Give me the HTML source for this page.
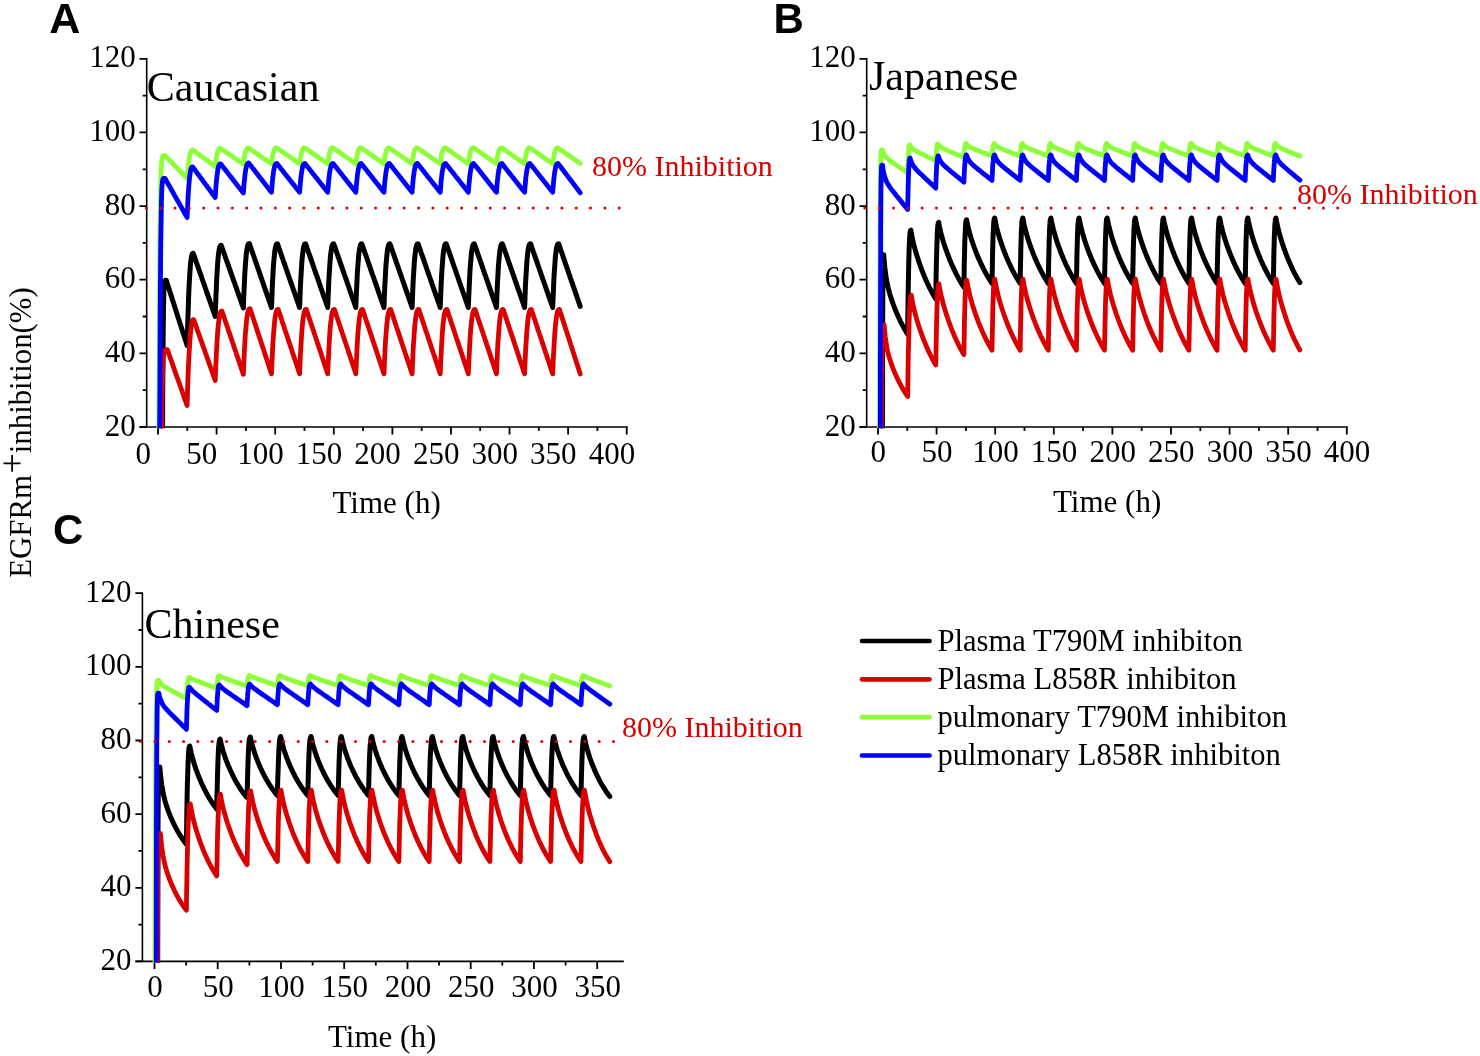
<!DOCTYPE html><html><head><meta charset="utf-8"><style>html,body{margin:0;padding:0;background:#fff;}svg{display:block;will-change:transform}</style></head><body>
<svg width="1480" height="1056" viewBox="0 0 1480 1056">
<g stroke="#000" stroke-width="1.6" fill="none">
<path d="M146.7 58.0V427.0M139.5 427.0H627.8"/>
</g>
<g stroke="#000" stroke-width="1.8" fill="none"><path d="
M139.5 58.8H146.7M142.7 95.6H146.7M139.5 132.4H146.7M142.7 169.3H146.7M139.5 206.1H146.7M142.7 242.9H146.7M139.5 279.7H146.7M142.7 316.5H146.7M139.5 353.4H146.7M142.7 390.2H146.7M139.5 427.0H146.7M158.0 427.0V434.5M187.3 427.0V431.0M216.6 427.0V434.5M245.9 427.0V431.0M275.2 427.0V434.5M304.5 427.0V431.0M333.8 427.0V434.5M363.1 427.0V431.0M392.4 427.0V434.5M421.7 427.0V431.0M451.0 427.0V434.5M480.2 427.0V431.0M509.5 427.0V434.5M538.8 427.0V431.0M568.1 427.0V434.5M597.4 427.0V431.0M626.7 427.0V434.5"/></g>
<clipPath id="clipA"><rect x="146.7" y="28.799999999999997" width="520.3" height="399.4"/></clipPath>
<g clip-path="url(#clipA)" fill="none" stroke-width="4.4" stroke-linejoin="round" stroke-linecap="round">
<path stroke="#000000" stroke-width="5.0" d="M162.6 429.0L162.7 395.5L162.9 368.5L163.1 347.0L163.2 330.1L163.4 316.9L163.5 306.8L163.7 299.1L163.8 293.4L164.0 289.2L164.1 286.2L164.3 284.1L164.4 282.6L164.6 281.7L164.7 281.1L164.9 280.7L165.0 280.5L165.2 280.4L165.3 280.3L165.5 280.3L165.6 280.3L165.8 280.3L165.9 280.3L166.1 280.3L166.3 280.3L166.8 281.9L167.3 283.6L167.8 285.2L168.3 286.8L168.9 288.4L169.4 290.1L169.9 291.7L170.4 293.3L170.9 295.0L171.5 296.6L172.0 298.2L172.5 299.9L173.0 301.5L173.6 303.1L174.1 304.8L174.6 306.4L175.1 308.0L175.6 309.6L176.2 311.3L176.7 312.9L177.2 314.5L177.7 316.2L178.2 317.8L178.8 319.4L179.3 321.1L179.8 322.7L180.3 324.3L180.9 325.9L181.4 327.6L181.9 329.2L182.4 330.8L182.9 332.5L183.5 334.1L184.0 335.7L184.5 337.4L185.0 339.0L185.5 340.6L186.1 342.2L186.6 343.9L187.1 345.5L187.5 331.3L187.9 318.5L188.3 307.0L188.6 296.9L189.0 288.1L189.4 280.5L189.8 274.0L190.2 268.5L190.5 264.0L190.9 260.5L191.3 257.8L191.7 255.8L192.1 254.5L192.4 253.7L192.8 253.4L193.2 253.3L193.8 254.9L194.3 256.5L194.9 258.0L195.4 259.6L196.0 261.2L196.5 262.8L197.1 264.4L197.6 265.9L198.2 267.5L198.7 269.1L199.3 270.7L199.8 272.3L200.4 273.8L200.9 275.4L201.5 277.0L202.0 278.6L202.6 280.2L203.1 281.7L203.7 283.3L204.2 284.9L204.8 286.5L205.3 288.1L205.9 289.6L206.4 291.2L207.0 292.8L207.5 294.4L208.1 296.0L208.6 297.5L209.2 299.1L209.7 300.7L210.3 302.3L210.8 303.9L211.4 305.4L211.9 307.0L212.5 308.6L213.0 310.2L213.6 311.8L214.1 313.3L214.7 314.9L215.2 316.5L215.6 305.5L216.0 295.6L216.4 286.8L216.7 279.0L217.1 272.2L217.5 266.3L217.8 261.3L218.2 257.0L218.6 253.6L219.0 250.9L219.3 248.8L219.7 247.2L220.1 246.2L220.5 245.6L220.8 245.4L221.2 245.3L221.8 246.9L222.3 248.4L222.9 250.0L223.4 251.6L224.0 253.1L224.5 254.7L225.1 256.3L225.6 257.8L226.2 259.4L226.7 261.0L227.3 262.5L227.9 264.1L228.4 265.7L229.0 267.2L229.5 268.8L230.1 270.4L230.6 271.9L231.2 273.5L231.7 275.1L232.3 276.6L232.8 278.2L233.4 279.8L233.9 281.4L234.5 282.9L235.1 284.5L235.6 286.1L236.2 287.6L236.7 289.2L237.3 290.8L237.8 292.3L238.4 293.9L238.9 295.5L239.5 297.0L240.0 298.6L240.6 300.2L241.1 301.7L241.7 303.3L242.2 304.9L242.8 306.4L243.4 308.0L243.7 298.0L244.1 289.1L244.5 281.1L244.8 274.0L245.2 267.8L245.6 262.4L246.0 257.9L246.3 254.1L246.7 250.9L247.1 248.4L247.5 246.5L247.8 245.2L248.2 244.2L248.6 243.7L249.0 243.4L249.3 243.4L249.9 245.0L250.4 246.6L251.0 248.2L251.5 249.8L252.1 251.4L252.7 253.0L253.2 254.6L253.8 256.2L254.3 257.8L254.9 259.4L255.4 261.0L256.0 262.6L256.5 264.2L257.1 265.8L257.6 267.4L258.2 269.0L258.7 270.6L259.3 272.2L259.9 273.8L260.4 275.4L261.0 277.1L261.5 278.7L262.1 280.3L262.6 281.9L263.2 283.5L263.7 285.1L264.3 286.7L264.8 288.3L265.4 289.9L265.9 291.5L266.5 293.1L267.0 294.7L267.6 296.3L268.2 297.9L268.7 299.5L269.3 301.1L269.8 302.7L270.4 304.3L270.9 305.9L271.5 307.5L271.9 297.7L272.2 288.8L272.6 280.9L273.0 274.0L273.3 267.8L273.7 262.6L274.1 258.1L274.5 254.3L274.8 251.2L275.2 248.8L275.6 246.9L276.0 245.5L276.3 244.6L276.7 244.1L277.1 243.8L277.5 243.8L278.0 245.4L278.6 247.0L279.1 248.6L279.7 250.2L280.2 251.8L280.8 253.4L281.3 254.9L281.9 256.5L282.4 258.1L283.0 259.7L283.5 261.3L284.1 262.9L284.7 264.5L285.2 266.1L285.8 267.7L286.3 269.3L286.9 270.9L287.4 272.5L288.0 274.1L288.5 275.6L289.1 277.2L289.6 278.8L290.2 280.4L290.7 282.0L291.3 283.6L291.9 285.2L292.4 286.8L293.0 288.4L293.5 290.0L294.1 291.6L294.6 293.2L295.2 294.8L295.7 296.4L296.3 297.9L296.8 299.5L297.4 301.1L297.9 302.7L298.5 304.3L299.0 305.9L299.6 307.5L300.0 297.7L300.3 288.8L300.7 280.9L301.1 274.0L301.5 267.8L301.8 262.6L302.2 258.1L302.6 254.3L303.0 251.2L303.3 248.8L303.7 246.9L304.1 245.5L304.5 244.6L304.8 244.1L305.2 243.8L305.6 243.8L306.1 245.4L306.7 247.0L307.2 248.6L307.8 250.2L308.3 251.8L308.9 253.4L309.5 254.9L310.0 256.5L310.6 258.1L311.1 259.7L311.7 261.3L312.2 262.9L312.8 264.5L313.3 266.1L313.9 267.7L314.4 269.3L315.0 270.9L315.5 272.5L316.1 274.1L316.7 275.6L317.2 277.2L317.8 278.8L318.3 280.4L318.9 282.0L319.4 283.6L320.0 285.2L320.5 286.8L321.1 288.4L321.6 290.0L322.2 291.6L322.7 293.2L323.3 294.8L323.8 296.4L324.4 297.9L325.0 299.5L325.5 301.1L326.1 302.7L326.6 304.3L327.2 305.9L327.7 307.5L328.1 297.7L328.5 288.8L328.8 280.9L329.2 274.0L329.6 267.8L330.0 262.6L330.3 258.1L330.7 254.3L331.1 251.2L331.5 248.8L331.8 246.9L332.2 245.5L332.6 244.6L333.0 244.1L333.3 243.8L333.7 243.8L334.3 245.4L334.8 247.0L335.4 248.6L335.9 250.2L336.5 251.8L337.0 253.4L337.6 254.9L338.1 256.5L338.7 258.1L339.2 259.7L339.8 261.3L340.3 262.9L340.9 264.5L341.5 266.1L342.0 267.7L342.6 269.3L343.1 270.9L343.7 272.5L344.2 274.1L344.8 275.6L345.3 277.2L345.9 278.8L346.4 280.4L347.0 282.0L347.5 283.6L348.1 285.2L348.7 286.8L349.2 288.4L349.8 290.0L350.3 291.6L350.9 293.2L351.4 294.8L352.0 296.4L352.5 297.9L353.1 299.5L353.6 301.1L354.2 302.7L354.7 304.3L355.3 305.9L355.8 307.5L356.2 297.7L356.6 288.8L357.0 280.9L357.3 274.0L357.7 267.8L358.1 262.6L358.5 258.1L358.8 254.3L359.2 251.2L359.6 248.8L360.0 246.9L360.3 245.5L360.7 244.6L361.1 244.1L361.5 243.8L361.8 243.8L362.4 245.4L362.9 247.0L363.5 248.6L364.0 250.2L364.6 251.8L365.1 253.4L365.7 254.9L366.3 256.5L366.8 258.1L367.4 259.7L367.9 261.3L368.5 262.9L369.0 264.5L369.6 266.1L370.1 267.7L370.7 269.3L371.2 270.9L371.8 272.5L372.3 274.1L372.9 275.6L373.5 277.2L374.0 278.8L374.6 280.4L375.1 282.0L375.7 283.6L376.2 285.2L376.8 286.8L377.3 288.4L377.9 290.0L378.4 291.6L379.0 293.2L379.5 294.8L380.1 296.4L380.6 297.9L381.2 299.5L381.8 301.1L382.3 302.7L382.9 304.3L383.4 305.9L384.0 307.5L384.3 297.7L384.7 288.8L385.1 280.9L385.5 274.0L385.8 267.8L386.2 262.6L386.6 258.1L387.0 254.3L387.3 251.2L387.7 248.8L388.1 246.9L388.5 245.5L388.8 244.6L389.2 244.1L389.6 243.8L389.9 243.8L390.5 245.4L391.1 247.0L391.6 248.6L392.2 250.2L392.7 251.8L393.3 253.4L393.8 254.9L394.4 256.5L394.9 258.1L395.5 259.7L396.0 261.3L396.6 262.9L397.1 264.5L397.7 266.1L398.3 267.7L398.8 269.3L399.4 270.9L399.9 272.5L400.5 274.1L401.0 275.6L401.6 277.2L402.1 278.8L402.7 280.4L403.2 282.0L403.8 283.6L404.3 285.2L404.9 286.8L405.5 288.4L406.0 290.0L406.6 291.6L407.1 293.2L407.7 294.8L408.2 296.4L408.8 297.9L409.3 299.5L409.9 301.1L410.4 302.7L411.0 304.3L411.5 305.9L412.1 307.5L412.5 297.7L412.8 288.8L413.2 280.9L413.6 274.0L414.0 267.8L414.3 262.6L414.7 258.1L415.1 254.3L415.5 251.2L415.8 248.8L416.2 246.9L416.6 245.5L417.0 244.6L417.3 244.1L417.7 243.8L418.1 243.8L418.6 245.4L419.2 247.0L419.7 248.6L420.3 250.2L420.8 251.8L421.4 253.4L421.9 254.9L422.5 256.5L423.1 258.1L423.6 259.7L424.2 261.3L424.7 262.9L425.3 264.5L425.8 266.1L426.4 267.7L426.9 269.3L427.5 270.9L428.0 272.5L428.6 274.1L429.1 275.6L429.7 277.2L430.3 278.8L430.8 280.4L431.4 282.0L431.9 283.6L432.5 285.2L433.0 286.8L433.6 288.4L434.1 290.0L434.7 291.6L435.2 293.2L435.8 294.8L436.3 296.4L436.9 297.9L437.4 299.5L438.0 301.1L438.6 302.7L439.1 304.3L439.7 305.9L440.2 307.5L440.6 297.7L441.0 288.8L441.3 280.9L441.7 274.0L442.1 267.8L442.5 262.6L442.8 258.1L443.2 254.3L443.6 251.2L444.0 248.8L444.3 246.9L444.7 245.5L445.1 244.6L445.4 244.1L445.8 243.8L446.2 243.8L446.7 245.4L447.3 247.0L447.9 248.6L448.4 250.2L449.0 251.8L449.5 253.4L450.1 254.9L450.6 256.5L451.2 258.1L451.7 259.7L452.3 261.3L452.8 262.9L453.4 264.5L453.9 266.1L454.5 267.7L455.1 269.3L455.6 270.9L456.2 272.5L456.7 274.1L457.3 275.6L457.8 277.2L458.4 278.8L458.9 280.4L459.5 282.0L460.0 283.6L460.6 285.2L461.1 286.8L461.7 288.4L462.3 290.0L462.8 291.6L463.4 293.2L463.9 294.8L464.5 296.4L465.0 297.9L465.6 299.5L466.1 301.1L466.7 302.7L467.2 304.3L467.8 305.9L468.3 307.5L468.7 297.7L469.1 288.8L469.5 280.9L469.8 274.0L470.2 267.8L470.6 262.6L471.0 258.1L471.3 254.3L471.7 251.2L472.1 248.8L472.4 246.9L472.8 245.5L473.2 244.6L473.6 244.1L473.9 243.8L474.3 243.8L474.9 245.4L475.4 247.0L476.0 248.6L476.5 250.2L477.1 251.8L477.6 253.4L478.2 254.9L478.7 256.5L479.3 258.1L479.9 259.7L480.4 261.3L481.0 262.9L481.5 264.5L482.1 266.1L482.6 267.7L483.2 269.3L483.7 270.9L484.3 272.5L484.8 274.1L485.4 275.6L485.9 277.2L486.5 278.8L487.1 280.4L487.6 282.0L488.2 283.6L488.7 285.2L489.3 286.8L489.8 288.4L490.4 290.0L490.9 291.6L491.5 293.2L492.0 294.8L492.6 296.4L493.1 297.9L493.7 299.5L494.2 301.1L494.8 302.7L495.4 304.3L495.9 305.9L496.5 307.5L496.8 297.7L497.2 288.8L497.6 280.9L498.0 274.0L498.3 267.8L498.7 262.6L499.1 258.1L499.5 254.3L499.8 251.2L500.2 248.8L500.6 246.9L500.9 245.5L501.3 244.6L501.7 244.1L502.1 243.8L502.4 243.8L503.0 245.4L503.5 247.0L504.1 248.6L504.7 250.2L505.2 251.8L505.8 253.4L506.3 254.9L506.9 256.5L507.4 258.1L508.0 259.7L508.5 261.3L509.1 262.9L509.6 264.5L510.2 266.1L510.7 267.7L511.3 269.3L511.9 270.9L512.4 272.5L513.0 274.1L513.5 275.6L514.1 277.2L514.6 278.8L515.2 280.4L515.7 282.0L516.3 283.6L516.8 285.2L517.4 286.8L517.9 288.4L518.5 290.0L519.1 291.6L519.6 293.2L520.2 294.8L520.7 296.4L521.3 297.9L521.8 299.5L522.4 301.1L522.9 302.7L523.5 304.3L524.0 305.9L524.6 307.5L525.0 297.7L525.3 288.8L525.7 280.9L526.1 274.0L526.5 267.8L526.8 262.6L527.2 258.1L527.6 254.3L527.9 251.2L528.3 248.8L528.7 246.9L529.1 245.5L529.4 244.6L529.8 244.1L530.2 243.8L530.6 243.8L531.1 245.4L531.7 247.0L532.2 248.6L532.8 250.2L533.3 251.8L533.9 253.4L534.4 254.9L535.0 256.5L535.5 258.1L536.1 259.7L536.7 261.3L537.2 262.9L537.8 264.5L538.3 266.1L538.9 267.7L539.4 269.3L540.0 270.9L540.5 272.5L541.1 274.1L541.6 275.6L542.2 277.2L542.7 278.8L543.3 280.4L543.9 282.0L544.4 283.6L545.0 285.2L545.5 286.8L546.1 288.4L546.6 290.0L547.2 291.6L547.7 293.2L548.3 294.8L548.8 296.4L549.4 297.9L549.9 299.5L550.5 301.1L551.0 302.7L551.6 304.3L552.2 305.9L552.7 307.5L553.1 297.7L553.5 288.8L553.8 280.9L554.2 274.0L554.6 267.8L555.0 262.6L555.3 258.1L555.7 254.3L556.1 251.2L556.4 248.8L556.8 246.9L557.2 245.5L557.6 244.6L557.9 244.1L558.3 243.8L558.7 243.8L559.2 245.4L559.8 246.9L560.3 248.5L560.8 250.1L561.4 251.6L561.9 253.2L562.5 254.8L563.0 256.3L563.5 257.9L564.1 259.5L564.6 261.0L565.2 262.6L565.7 264.2L566.2 265.7L566.8 267.3L567.3 268.9L567.9 270.4L568.4 272.0L568.9 273.6L569.5 275.1L570.0 276.7L570.5 278.3L571.1 279.9L571.6 281.4L572.2 283.0L572.7 284.6L573.2 286.1L573.8 287.7L574.3 289.3L574.9 290.8L575.4 292.4L575.9 294.0L576.5 295.5L577.0 297.1L577.6 298.7L578.1 300.2L578.6 301.8L579.2 303.4L579.7 304.9L580.2 306.5"/>
<path stroke="#da0000" stroke-width="4.8" d="M161.6 429.0L161.8 411.1L162.0 396.7L162.3 385.2L162.5 376.2L162.8 369.1L163.0 363.7L163.2 359.6L163.5 356.6L163.7 354.3L164.0 352.7L164.2 351.6L164.4 350.8L164.7 350.3L164.9 350.0L165.2 349.8L165.4 349.7L165.6 349.6L165.9 349.6L166.1 349.6L166.3 349.6L166.6 349.6L166.8 349.6L167.1 349.6L167.3 349.6L167.8 351.0L168.3 352.4L168.8 353.8L169.3 355.2L169.8 356.6L170.3 358.0L170.8 359.4L171.3 360.8L171.8 362.2L172.3 363.6L172.8 365.0L173.2 366.4L173.7 367.8L174.2 369.2L174.7 370.6L175.2 372.0L175.7 373.4L176.2 374.8L176.7 376.2L177.2 377.6L177.7 378.9L178.2 380.3L178.7 381.7L179.2 383.1L179.7 384.5L180.2 385.9L180.7 387.3L181.2 388.7L181.7 390.1L182.2 391.5L182.7 392.9L183.1 394.3L183.6 395.7L184.1 397.1L184.6 398.5L185.1 399.9L185.6 401.3L186.1 402.7L186.6 404.1L187.1 405.5L187.5 392.2L187.9 380.3L188.3 369.7L188.7 360.3L189.2 352.0L189.6 344.9L190.0 338.8L190.4 333.8L190.8 329.6L191.2 326.3L191.6 323.8L192.0 321.9L192.4 320.7L192.9 320.0L193.3 319.7L193.7 319.6L194.2 321.1L194.7 322.6L195.3 324.2L195.8 325.7L196.4 327.2L196.9 328.7L197.4 330.3L198.0 331.8L198.5 333.3L199.1 334.8L199.6 336.3L200.1 337.9L200.7 339.4L201.2 340.9L201.8 342.4L202.3 344.0L202.8 345.5L203.4 347.0L203.9 348.5L204.5 350.1L205.0 351.6L205.5 353.1L206.1 354.6L206.6 356.1L207.1 357.7L207.7 359.2L208.2 360.7L208.8 362.2L209.3 363.8L209.8 365.3L210.4 366.8L210.9 368.3L211.5 369.8L212.0 371.4L212.5 372.9L213.1 374.4L213.6 375.9L214.2 377.5L214.7 379.0L215.2 380.5L215.6 369.8L216.1 360.1L216.5 351.5L216.9 343.9L217.3 337.2L217.7 331.5L218.2 326.6L218.6 322.5L219.0 319.1L219.4 316.4L219.8 314.4L220.2 312.9L220.7 311.9L221.1 311.3L221.5 311.1L221.9 311.0L222.4 312.6L223.0 314.2L223.5 315.7L224.1 317.3L224.6 318.9L225.1 320.5L225.7 322.1L226.2 323.7L226.7 325.2L227.3 326.8L227.8 328.4L228.3 330.0L228.9 331.6L229.4 333.2L230.0 334.7L230.5 336.3L231.0 337.9L231.6 339.5L232.1 341.1L232.6 342.6L233.2 344.2L233.7 345.8L234.2 347.4L234.8 349.0L235.3 350.6L235.9 352.1L236.4 353.7L236.9 355.3L237.5 356.9L238.0 358.5L238.5 360.1L239.1 361.6L239.6 363.2L240.1 364.8L240.7 366.4L241.2 368.0L241.7 369.6L242.3 371.1L242.8 372.7L243.4 374.3L243.8 364.2L244.2 355.1L244.6 346.9L245.0 339.8L245.4 333.5L245.9 328.0L246.3 323.4L246.7 319.5L247.1 316.3L247.5 313.8L247.9 311.9L248.4 310.5L248.8 309.5L249.2 309.0L249.6 308.7L250.0 308.7L250.6 310.3L251.1 312.0L251.6 313.6L252.2 315.2L252.7 316.8L253.3 318.5L253.8 320.1L254.3 321.7L254.9 323.3L255.4 325.0L255.9 326.6L256.5 328.2L257.0 329.9L257.5 331.5L258.1 333.1L258.6 334.7L259.1 336.4L259.7 338.0L260.2 339.6L260.8 341.2L261.3 342.9L261.8 344.5L262.4 346.1L262.9 347.8L263.4 349.4L264.0 351.0L264.5 352.6L265.0 354.3L265.6 355.9L266.1 357.5L266.7 359.2L267.2 360.8L267.7 362.4L268.3 364.0L268.8 365.7L269.3 367.3L269.9 368.9L270.4 370.5L270.9 372.2L271.5 373.8L271.9 363.8L272.3 354.9L272.7 346.9L273.1 339.8L273.6 333.6L274.0 328.3L274.4 323.8L274.8 319.9L275.2 316.8L275.7 314.3L276.1 312.4L276.5 311.1L276.9 310.1L277.3 309.6L277.7 309.3L278.2 309.3L278.7 310.9L279.2 312.5L279.8 314.1L280.3 315.8L280.8 317.4L281.4 319.0L281.9 320.6L282.4 322.2L283.0 323.8L283.5 325.4L284.1 327.0L284.6 328.7L285.1 330.3L285.7 331.9L286.2 333.5L286.7 335.1L287.3 336.7L287.8 338.3L288.3 339.9L288.9 341.6L289.4 343.2L290.0 344.8L290.5 346.4L291.0 348.0L291.6 349.6L292.1 351.2L292.6 352.8L293.2 354.4L293.7 356.1L294.2 357.7L294.8 359.3L295.3 360.9L295.8 362.5L296.4 364.1L296.9 365.7L297.5 367.4L298.0 369.0L298.5 370.6L299.1 372.2L299.6 373.8L300.0 363.8L300.4 354.9L300.9 346.9L301.3 339.8L301.7 333.6L302.1 328.3L302.5 323.8L302.9 319.9L303.4 316.8L303.8 314.3L304.2 312.4L304.6 311.1L305.0 310.1L305.4 309.6L305.9 309.3L306.3 309.3L306.8 310.9L307.4 312.5L307.9 314.1L308.4 315.8L309.0 317.4L309.5 319.0L310.0 320.6L310.6 322.2L311.1 323.8L311.6 325.4L312.2 327.0L312.7 328.7L313.3 330.3L313.8 331.9L314.3 333.5L314.9 335.1L315.4 336.7L315.9 338.3L316.5 339.9L317.0 341.6L317.5 343.2L318.1 344.8L318.6 346.4L319.1 348.0L319.7 349.6L320.2 351.2L320.8 352.8L321.3 354.4L321.8 356.1L322.4 357.7L322.9 359.3L323.4 360.9L324.0 362.5L324.5 364.1L325.0 365.7L325.6 367.4L326.1 369.0L326.7 370.6L327.2 372.2L327.7 373.8L328.1 363.8L328.6 354.9L329.0 346.9L329.4 339.8L329.8 333.6L330.2 328.3L330.6 323.8L331.1 319.9L331.5 316.8L331.9 314.3L332.3 312.4L332.7 311.1L333.2 310.1L333.6 309.6L334.0 309.3L334.4 309.3L334.9 310.9L335.5 312.5L336.0 314.1L336.5 315.8L337.1 317.4L337.6 319.0L338.2 320.6L338.7 322.2L339.2 323.8L339.8 325.4L340.3 327.0L340.8 328.7L341.4 330.3L341.9 331.9L342.4 333.5L343.0 335.1L343.5 336.7L344.1 338.3L344.6 339.9L345.1 341.6L345.7 343.2L346.2 344.8L346.7 346.4L347.3 348.0L347.8 349.6L348.3 351.2L348.9 352.8L349.4 354.4L350.0 356.1L350.5 357.7L351.0 359.3L351.6 360.9L352.1 362.5L352.6 364.1L353.2 365.7L353.7 367.4L354.2 369.0L354.8 370.6L355.3 372.2L355.8 373.8L356.3 363.8L356.7 354.9L357.1 346.9L357.5 339.8L357.9 333.6L358.4 328.3L358.8 323.8L359.2 319.9L359.6 316.8L360.0 314.3L360.4 312.4L360.9 311.1L361.3 310.1L361.7 309.6L362.1 309.3L362.5 309.3L363.1 310.9L363.6 312.5L364.1 314.1L364.7 315.8L365.2 317.4L365.7 319.0L366.3 320.6L366.8 322.2L367.4 323.8L367.9 325.4L368.4 327.0L369.0 328.7L369.5 330.3L370.0 331.9L370.6 333.5L371.1 335.1L371.6 336.7L372.2 338.3L372.7 339.9L373.2 341.6L373.8 343.2L374.3 344.8L374.9 346.4L375.4 348.0L375.9 349.6L376.5 351.2L377.0 352.8L377.5 354.4L378.1 356.1L378.6 357.7L379.1 359.3L379.7 360.9L380.2 362.5L380.8 364.1L381.3 365.7L381.8 367.4L382.4 369.0L382.9 370.6L383.4 372.2L384.0 373.8L384.4 363.8L384.8 354.9L385.2 346.9L385.6 339.8L386.1 333.6L386.5 328.3L386.9 323.8L387.3 319.9L387.7 316.8L388.1 314.3L388.6 312.4L389.0 311.1L389.4 310.1L389.8 309.6L390.2 309.3L390.7 309.3L391.2 310.9L391.7 312.5L392.3 314.1L392.8 315.8L393.3 317.4L393.9 319.0L394.4 320.6L394.9 322.2L395.5 323.8L396.0 325.4L396.5 327.0L397.1 328.7L397.6 330.3L398.2 331.9L398.7 333.5L399.2 335.1L399.8 336.7L400.3 338.3L400.8 339.9L401.4 341.6L401.9 343.2L402.4 344.8L403.0 346.4L403.5 348.0L404.1 349.6L404.6 351.2L405.1 352.8L405.7 354.4L406.2 356.1L406.7 357.7L407.3 359.3L407.8 360.9L408.3 362.5L408.9 364.1L409.4 365.7L410.0 367.4L410.5 369.0L411.0 370.6L411.6 372.2L412.1 373.8L412.5 363.8L412.9 354.9L413.3 346.9L413.8 339.8L414.2 333.6L414.6 328.3L415.0 323.8L415.4 319.9L415.9 316.8L416.3 314.3L416.7 312.4L417.1 311.1L417.5 310.1L417.9 309.6L418.4 309.3L418.8 309.3L419.3 310.9L419.8 312.5L420.4 314.1L420.9 315.8L421.5 317.4L422.0 319.0L422.5 320.6L423.1 322.2L423.6 323.8L424.1 325.4L424.7 327.0L425.2 328.7L425.7 330.3L426.3 331.9L426.8 333.5L427.4 335.1L427.9 336.7L428.4 338.3L429.0 339.9L429.5 341.6L430.0 343.2L430.6 344.8L431.1 346.4L431.6 348.0L432.2 349.6L432.7 351.2L433.2 352.8L433.8 354.4L434.3 356.1L434.9 357.7L435.4 359.3L435.9 360.9L436.5 362.5L437.0 364.1L437.5 365.7L438.1 367.4L438.6 369.0L439.1 370.6L439.7 372.2L440.2 373.8L440.6 363.8L441.1 354.9L441.5 346.9L441.9 339.8L442.3 333.6L442.7 328.3L443.1 323.8L443.6 319.9L444.0 316.8L444.4 314.3L444.8 312.4L445.2 311.1L445.6 310.1L446.1 309.6L446.5 309.3L446.9 309.3L447.4 310.9L448.0 312.5L448.5 314.1L449.0 315.8L449.6 317.4L450.1 319.0L450.6 320.6L451.2 322.2L451.7 323.8L452.3 325.4L452.8 327.0L453.3 328.7L453.9 330.3L454.4 331.9L454.9 333.5L455.5 335.1L456.0 336.7L456.5 338.3L457.1 339.9L457.6 341.6L458.2 343.2L458.7 344.8L459.2 346.4L459.8 348.0L460.3 349.6L460.8 351.2L461.4 352.8L461.9 354.4L462.4 356.1L463.0 357.7L463.5 359.3L464.1 360.9L464.6 362.5L465.1 364.1L465.7 365.7L466.2 367.4L466.7 369.0L467.3 370.6L467.8 372.2L468.3 373.8L468.8 363.8L469.2 354.9L469.6 346.9L470.0 339.8L470.4 333.6L470.8 328.3L471.3 323.8L471.7 319.9L472.1 316.8L472.5 314.3L472.9 312.4L473.4 311.1L473.8 310.1L474.2 309.6L474.6 309.3L475.0 309.3L475.6 310.9L476.1 312.5L476.6 314.1L477.2 315.8L477.7 317.4L478.2 319.0L478.8 320.6L479.3 322.2L479.8 323.8L480.4 325.4L480.9 327.0L481.5 328.7L482.0 330.3L482.5 331.9L483.1 333.5L483.6 335.1L484.1 336.7L484.7 338.3L485.2 339.9L485.7 341.6L486.3 343.2L486.8 344.8L487.4 346.4L487.9 348.0L488.4 349.6L489.0 351.2L489.5 352.8L490.0 354.4L490.6 356.1L491.1 357.7L491.6 359.3L492.2 360.9L492.7 362.5L493.2 364.1L493.8 365.7L494.3 367.4L494.9 369.0L495.4 370.6L495.9 372.2L496.5 373.8L496.9 363.8L497.3 354.9L497.7 346.9L498.1 339.8L498.6 333.6L499.0 328.3L499.4 323.8L499.8 319.9L500.2 316.8L500.6 314.3L501.1 312.4L501.5 311.1L501.9 310.1L502.3 309.6L502.7 309.3L503.1 309.3L503.7 310.9L504.2 312.5L504.8 314.1L505.3 315.8L505.8 317.4L506.4 319.0L506.9 320.6L507.4 322.2L508.0 323.8L508.5 325.4L509.0 327.0L509.6 328.7L510.1 330.3L510.6 331.9L511.2 333.5L511.7 335.1L512.3 336.7L512.8 338.3L513.3 339.9L513.9 341.6L514.4 343.2L514.9 344.8L515.5 346.4L516.0 348.0L516.5 349.6L517.1 351.2L517.6 352.8L518.2 354.4L518.7 356.1L519.2 357.7L519.8 359.3L520.3 360.9L520.8 362.5L521.4 364.1L521.9 365.7L522.4 367.4L523.0 369.0L523.5 370.6L524.1 372.2L524.6 373.8L525.0 363.8L525.4 354.9L525.8 346.9L526.3 339.8L526.7 333.6L527.1 328.3L527.5 323.8L527.9 319.9L528.3 316.8L528.8 314.3L529.2 312.4L529.6 311.1L530.0 310.1L530.4 309.6L530.8 309.3L531.3 309.3L531.8 310.9L532.3 312.5L532.9 314.1L533.4 315.8L533.9 317.4L534.5 319.0L535.0 320.6L535.6 322.2L536.1 323.8L536.6 325.4L537.2 327.0L537.7 328.7L538.2 330.3L538.8 331.9L539.3 333.5L539.8 335.1L540.4 336.7L540.9 338.3L541.5 339.9L542.0 341.6L542.5 343.2L543.1 344.8L543.6 346.4L544.1 348.0L544.7 349.6L545.2 351.2L545.7 352.8L546.3 354.4L546.8 356.1L547.3 357.7L547.9 359.3L548.4 360.9L549.0 362.5L549.5 364.1L550.0 365.7L550.6 367.4L551.1 369.0L551.6 370.6L552.2 372.2L552.7 373.8L553.1 363.8L553.5 354.9L554.0 346.9L554.4 339.8L554.8 333.6L555.2 328.3L555.6 323.8L556.1 319.9L556.5 316.8L556.9 314.3L557.3 312.4L557.7 311.1L558.1 310.1L558.6 309.6L559.0 309.3L559.4 309.3L559.9 310.9L560.4 312.5L561.0 314.2L561.5 315.8L562.0 317.4L562.5 319.0L563.0 320.6L563.6 322.2L564.1 323.9L564.6 325.5L565.1 327.1L565.6 328.7L566.2 330.3L566.7 331.9L567.2 333.6L567.7 335.2L568.3 336.8L568.8 338.4L569.3 340.0L569.8 341.6L570.3 343.3L570.9 344.9L571.4 346.5L571.9 348.1L572.4 349.7L572.9 351.4L573.5 353.0L574.0 354.6L574.5 356.2L575.0 357.8L575.6 359.4L576.1 361.1L576.6 362.7L577.1 364.3L577.6 365.9L578.2 367.5L578.7 369.1L579.2 370.8L579.7 372.4L580.2 374.0"/>
<path stroke="#8cff37" stroke-width="4.8" d="M158.8 429.0L159.1 367.4L159.3 317.8L159.6 278.2L159.8 247.1L160.1 222.8L160.3 204.2L160.6 190.0L160.9 179.5L161.1 171.8L161.4 166.3L161.6 162.4L161.9 159.8L162.1 158.0L162.4 156.9L162.7 156.3L162.9 155.9L163.2 155.7L163.4 155.6L163.7 155.5L163.9 155.5L164.2 155.5L164.4 155.5L164.7 155.5L165.0 155.5L165.5 156.1L166.1 156.7L166.6 157.2L167.2 157.8L167.7 158.4L168.3 158.9L168.8 159.5L169.4 160.1L169.9 160.7L170.5 161.2L171.1 161.8L171.6 162.4L172.2 163.0L172.7 163.6L173.3 164.1L173.8 164.7L174.4 165.3L174.9 165.8L175.5 166.4L176.0 167.0L176.6 167.6L177.1 168.2L177.7 168.7L178.3 169.3L178.8 169.9L179.4 170.4L179.9 171.0L180.5 171.6L181.0 172.2L181.6 172.8L182.1 173.3L182.7 173.9L183.2 174.5L183.8 175.1L184.3 175.6L184.9 176.2L185.4 176.8L186.0 177.3L186.6 177.9L187.1 178.5L187.5 174.1L187.8 170.1L188.2 166.6L188.5 163.5L188.9 160.8L189.3 158.4L189.6 156.4L190.0 154.7L190.3 153.3L190.7 152.2L191.1 151.4L191.4 150.8L191.8 150.4L192.1 150.1L192.5 150.0L192.9 150.0L193.4 150.4L194.0 150.8L194.5 151.2L195.1 151.7L195.6 152.1L196.2 152.5L196.8 152.9L197.3 153.3L197.9 153.7L198.4 154.1L199.0 154.5L199.6 154.9L200.1 155.4L200.7 155.8L201.2 156.2L201.8 156.6L202.4 157.0L202.9 157.4L203.5 157.8L204.0 158.2L204.6 158.7L205.2 159.1L205.7 159.5L206.3 159.9L206.8 160.3L207.4 160.7L208.0 161.1L208.5 161.6L209.1 162.0L209.6 162.4L210.2 162.8L210.8 163.2L211.3 163.6L211.9 164.0L212.4 164.4L213.0 164.8L213.6 165.3L214.1 165.7L214.7 166.1L215.2 166.5L215.6 163.7L215.9 161.2L216.2 158.9L216.6 157.0L216.9 155.2L217.2 153.7L217.5 152.5L217.9 151.4L218.2 150.5L218.5 149.8L218.9 149.3L219.2 148.9L219.5 148.6L219.8 148.5L220.2 148.4L220.5 148.4L221.1 148.8L221.6 149.2L222.2 149.6L222.8 150.0L223.4 150.3L223.9 150.7L224.5 151.1L225.1 151.5L225.6 151.9L226.2 152.3L226.8 152.7L227.4 153.1L227.9 153.5L228.5 153.9L229.1 154.2L229.6 154.6L230.2 155.0L230.8 155.4L231.4 155.8L231.9 156.2L232.5 156.6L233.1 157.0L233.6 157.4L234.2 157.8L234.8 158.2L235.4 158.5L235.9 158.9L236.5 159.3L237.1 159.7L237.6 160.1L238.2 160.5L238.8 160.9L239.4 161.3L239.9 161.7L240.5 162.1L241.1 162.4L241.6 162.8L242.2 163.2L242.8 163.6L243.4 164.0L243.7 161.5L244.0 159.3L244.3 157.3L244.6 155.6L245.0 154.0L245.3 152.7L245.6 151.6L245.9 150.6L246.3 149.9L246.6 149.2L246.9 148.8L247.2 148.4L247.5 148.2L247.9 148.1L248.2 148.0L248.5 148.0L249.1 148.4L249.7 148.8L250.2 149.2L250.8 149.6L251.4 150.0L252.0 150.4L252.5 150.8L253.1 151.2L253.7 151.6L254.3 151.9L254.8 152.3L255.4 152.7L256.0 153.1L256.5 153.5L257.1 153.9L257.7 154.3L258.3 154.7L258.8 155.1L259.4 155.5L260.0 155.9L260.6 156.3L261.1 156.7L261.7 157.1L262.3 157.5L262.9 157.9L263.4 158.3L264.0 158.7L264.6 159.1L265.2 159.5L265.7 159.9L266.3 160.2L266.9 160.6L267.5 161.0L268.0 161.4L268.6 161.8L269.2 162.2L269.8 162.6L270.3 163.0L270.9 163.4L271.5 163.8L271.8 161.3L272.1 159.1L272.4 157.1L272.8 155.4L273.1 153.8L273.4 152.5L273.7 151.4L274.1 150.4L274.4 149.7L274.7 149.0L275.0 148.6L275.3 148.2L275.7 148.0L276.0 147.9L276.3 147.8L276.6 147.8L277.2 148.2L277.8 148.6L278.4 149.0L278.9 149.4L279.5 149.8L280.1 150.2L280.7 150.6L281.2 151.0L281.8 151.4L282.4 151.8L283.0 152.2L283.5 152.6L284.1 153.0L284.7 153.4L285.2 153.8L285.8 154.2L286.4 154.6L287.0 155.0L287.5 155.4L288.1 155.8L288.7 156.2L289.3 156.6L289.8 157.0L290.4 157.4L291.0 157.8L291.6 158.2L292.1 158.6L292.7 159.0L293.3 159.4L293.9 159.8L294.4 160.2L295.0 160.6L295.6 161.0L296.2 161.4L296.7 161.8L297.3 162.2L297.9 162.6L298.5 163.0L299.0 163.4L299.6 163.8L299.9 161.3L300.2 159.1L300.6 157.1L300.9 155.4L301.2 153.8L301.5 152.5L301.9 151.4L302.2 150.4L302.5 149.7L302.8 149.0L303.1 148.6L303.5 148.2L303.8 148.0L304.1 147.9L304.4 147.8L304.8 147.8L305.3 148.2L305.9 148.6L306.5 149.0L307.1 149.4L307.6 149.8L308.2 150.2L308.8 150.6L309.4 151.0L309.9 151.4L310.5 151.8L311.1 152.2L311.6 152.6L312.2 153.0L312.8 153.4L313.4 153.8L313.9 154.2L314.5 154.6L315.1 155.0L315.7 155.4L316.2 155.8L316.8 156.2L317.4 156.6L318.0 157.0L318.5 157.4L319.1 157.8L319.7 158.2L320.3 158.6L320.8 159.0L321.4 159.4L322.0 159.8L322.6 160.2L323.1 160.6L323.7 161.0L324.3 161.4L324.9 161.8L325.4 162.2L326.0 162.6L326.6 163.0L327.2 163.4L327.7 163.8L328.0 161.3L328.4 159.1L328.7 157.1L329.0 155.4L329.3 153.8L329.7 152.5L330.0 151.4L330.3 150.4L330.6 149.7L330.9 149.0L331.3 148.6L331.6 148.2L331.9 148.0L332.2 147.9L332.6 147.8L332.9 147.8L333.5 148.2L334.0 148.6L334.6 149.0L335.2 149.4L335.8 149.8L336.3 150.2L336.9 150.6L337.5 151.0L338.0 151.4L338.6 151.8L339.2 152.2L339.8 152.6L340.3 153.0L340.9 153.4L341.5 153.8L342.1 154.2L342.6 154.6L343.2 155.0L343.8 155.4L344.4 155.8L344.9 156.2L345.5 156.6L346.1 157.0L346.7 157.4L347.2 157.8L347.8 158.2L348.4 158.6L349.0 159.0L349.5 159.4L350.1 159.8L350.7 160.2L351.3 160.6L351.8 161.0L352.4 161.4L353.0 161.8L353.6 162.2L354.1 162.6L354.7 163.0L355.3 163.4L355.8 163.8L356.2 161.3L356.5 159.1L356.8 157.1L357.1 155.4L357.5 153.8L357.8 152.5L358.1 151.4L358.4 150.4L358.7 149.7L359.1 149.0L359.4 148.6L359.7 148.2L360.0 148.0L360.4 147.9L360.7 147.8L361.0 147.8L361.6 148.2L362.2 148.6L362.7 149.0L363.3 149.4L363.9 149.8L364.4 150.2L365.0 150.6L365.6 151.0L366.2 151.4L366.7 151.8L367.3 152.2L367.9 152.6L368.5 153.0L369.0 153.4L369.6 153.8L370.2 154.2L370.8 154.6L371.3 155.0L371.9 155.4L372.5 155.8L373.1 156.2L373.6 156.6L374.2 157.0L374.8 157.4L375.4 157.8L375.9 158.2L376.5 158.6L377.1 159.0L377.7 159.4L378.2 159.8L378.8 160.2L379.4 160.6L380.0 161.0L380.5 161.4L381.1 161.8L381.7 162.2L382.2 162.6L382.8 163.0L383.4 163.4L384.0 163.8L384.3 161.3L384.6 159.1L384.9 157.1L385.3 155.4L385.6 153.8L385.9 152.5L386.2 151.4L386.5 150.4L386.9 149.7L387.2 149.0L387.5 148.6L387.8 148.2L388.2 148.0L388.5 147.9L388.8 147.8L389.1 147.8L389.7 148.2L390.3 148.6L390.8 149.0L391.4 149.4L392.0 149.8L392.6 150.2L393.1 150.6L393.7 151.0L394.3 151.4L394.9 151.8L395.4 152.2L396.0 152.6L396.6 153.0L397.2 153.4L397.7 153.8L398.3 154.2L398.9 154.6L399.5 155.0L400.0 155.4L400.6 155.8L401.2 156.2L401.8 156.6L402.3 157.0L402.9 157.4L403.5 157.8L404.1 158.2L404.6 158.6L405.2 159.0L405.8 159.4L406.4 159.8L406.9 160.2L407.5 160.6L408.1 161.0L408.6 161.4L409.2 161.8L409.8 162.2L410.4 162.6L410.9 163.0L411.5 163.4L412.1 163.8L412.4 161.3L412.7 159.1L413.1 157.1L413.4 155.4L413.7 153.8L414.0 152.5L414.4 151.4L414.7 150.4L415.0 149.7L415.3 149.0L415.6 148.6L416.0 148.2L416.3 148.0L416.6 147.9L416.9 147.8L417.3 147.8L417.8 148.2L418.4 148.6L419.0 149.0L419.5 149.4L420.1 149.8L420.7 150.2L421.3 150.6L421.8 151.0L422.4 151.4L423.0 151.8L423.6 152.2L424.1 152.6L424.7 153.0L425.3 153.4L425.9 153.8L426.4 154.2L427.0 154.6L427.6 155.0L428.2 155.4L428.7 155.8L429.3 156.2L429.9 156.6L430.5 157.0L431.0 157.4L431.6 157.8L432.2 158.2L432.8 158.6L433.3 159.0L433.9 159.4L434.5 159.8L435.1 160.2L435.6 160.6L436.2 161.0L436.8 161.4L437.3 161.8L437.9 162.2L438.5 162.6L439.1 163.0L439.6 163.4L440.2 163.8L440.5 161.3L440.9 159.1L441.2 157.1L441.5 155.4L441.8 153.8L442.2 152.5L442.5 151.4L442.8 150.4L443.1 149.7L443.4 149.0L443.8 148.6L444.1 148.2L444.4 148.0L444.7 147.9L445.1 147.8L445.4 147.8L445.9 148.2L446.5 148.6L447.1 149.0L447.7 149.4L448.2 149.8L448.8 150.2L449.4 150.6L450.0 151.0L450.5 151.4L451.1 151.8L451.7 152.2L452.3 152.6L452.8 153.0L453.4 153.4L454.0 153.8L454.6 154.2L455.1 154.6L455.7 155.0L456.3 155.4L456.9 155.8L457.4 156.2L458.0 156.6L458.6 157.0L459.2 157.4L459.7 157.8L460.3 158.2L460.9 158.6L461.5 159.0L462.0 159.4L462.6 159.8L463.2 160.2L463.7 160.6L464.3 161.0L464.9 161.4L465.5 161.8L466.0 162.2L466.6 162.6L467.2 163.0L467.8 163.4L468.3 163.8L468.7 161.3L469.0 159.1L469.3 157.1L469.6 155.4L470.0 153.8L470.3 152.5L470.6 151.4L470.9 150.4L471.2 149.7L471.6 149.0L471.9 148.6L472.2 148.2L472.5 148.0L472.9 147.9L473.2 147.8L473.5 147.8L474.1 148.2L474.6 148.6L475.2 149.0L475.8 149.4L476.4 149.8L476.9 150.2L477.5 150.6L478.1 151.0L478.7 151.4L479.2 151.8L479.8 152.2L480.4 152.6L481.0 153.0L481.5 153.4L482.1 153.8L482.7 154.2L483.3 154.6L483.8 155.0L484.4 155.4L485.0 155.8L485.6 156.2L486.1 156.6L486.7 157.0L487.3 157.4L487.9 157.8L488.4 158.2L489.0 158.6L489.6 159.0L490.1 159.4L490.7 159.8L491.3 160.2L491.9 160.6L492.4 161.0L493.0 161.4L493.6 161.8L494.2 162.2L494.7 162.6L495.3 163.0L495.9 163.4L496.5 163.8L496.8 161.3L497.1 159.1L497.4 157.1L497.8 155.4L498.1 153.8L498.4 152.5L498.7 151.4L499.0 150.4L499.4 149.7L499.7 149.0L500.0 148.6L500.3 148.2L500.7 148.0L501.0 147.9L501.3 147.8L501.6 147.8L502.2 148.2L502.8 148.6L503.3 149.0L503.9 149.4L504.5 149.8L505.1 150.2L505.6 150.6L506.2 151.0L506.8 151.4L507.4 151.8L507.9 152.2L508.5 152.6L509.1 153.0L509.7 153.4L510.2 153.8L510.8 154.2L511.4 154.6L512.0 155.0L512.5 155.4L513.1 155.8L513.7 156.2L514.3 156.6L514.8 157.0L515.4 157.4L516.0 157.8L516.5 158.2L517.1 158.6L517.7 159.0L518.3 159.4L518.8 159.8L519.4 160.2L520.0 160.6L520.6 161.0L521.1 161.4L521.7 161.8L522.3 162.2L522.9 162.6L523.4 163.0L524.0 163.4L524.6 163.8L524.9 161.3L525.2 159.1L525.6 157.1L525.9 155.4L526.2 153.8L526.5 152.5L526.8 151.4L527.2 150.4L527.5 149.7L527.8 149.0L528.1 148.6L528.5 148.2L528.8 148.0L529.1 147.9L529.4 147.8L529.7 147.8L530.3 148.2L530.9 148.6L531.5 149.0L532.0 149.4L532.6 149.8L533.2 150.2L533.8 150.6L534.3 151.0L534.9 151.4L535.5 151.8L536.1 152.2L536.6 152.6L537.2 153.0L537.8 153.4L538.4 153.8L538.9 154.2L539.5 154.6L540.1 155.0L540.7 155.4L541.2 155.8L541.8 156.2L542.4 156.6L542.9 157.0L543.5 157.4L544.1 157.8L544.7 158.2L545.2 158.6L545.8 159.0L546.4 159.4L547.0 159.8L547.5 160.2L548.1 160.6L548.7 161.0L549.3 161.4L549.8 161.8L550.4 162.2L551.0 162.6L551.6 163.0L552.1 163.4L552.7 163.8L553.0 161.3L553.4 159.1L553.7 157.1L554.0 155.4L554.3 153.8L554.6 152.5L555.0 151.4L555.3 150.4L555.6 149.7L555.9 149.0L556.3 148.6L556.6 148.2L556.9 148.0L557.2 147.9L557.5 147.8L557.9 147.8L558.4 148.2L559.0 148.6L559.5 149.0L560.1 149.4L560.7 149.8L561.2 150.2L561.8 150.5L562.3 150.9L562.9 151.3L563.5 151.7L564.0 152.1L564.6 152.5L565.1 152.9L565.7 153.3L566.3 153.7L566.8 154.1L567.4 154.5L567.9 154.9L568.5 155.3L569.1 155.7L569.6 156.0L570.2 156.4L570.7 156.8L571.3 157.2L571.9 157.6L572.4 158.0L573.0 158.4L573.5 158.8L574.1 159.2L574.7 159.6L575.2 160.0L575.8 160.4L576.3 160.8L576.9 161.1L577.5 161.5L578.0 161.9L578.6 162.3L579.1 162.7L579.7 163.1L580.2 163.5"/>
<path stroke="#0000ff" stroke-width="4.8" d="M159.7 429.0L160.0 372.5L160.2 327.0L160.4 290.8L160.6 262.3L160.8 240.0L161.1 222.9L161.3 210.0L161.5 200.3L161.7 193.2L161.9 188.2L162.1 184.6L162.4 182.2L162.6 180.6L162.8 179.6L163.0 179.0L163.2 178.6L163.4 178.5L163.7 178.4L163.9 178.3L164.1 178.3L164.3 178.3L164.5 178.3L164.7 178.3L165.0 178.3L165.5 179.3L166.1 180.3L166.6 181.2L167.2 182.2L167.7 183.2L168.3 184.2L168.8 185.2L169.4 186.1L169.9 187.1L170.5 188.1L171.1 189.1L171.6 190.1L172.2 191.0L172.7 192.0L173.3 193.0L173.8 194.0L174.4 195.0L174.9 195.9L175.5 196.9L176.0 197.9L176.6 198.9L177.1 199.9L177.7 200.8L178.3 201.8L178.8 202.8L179.4 203.8L179.9 204.8L180.5 205.7L181.0 206.7L181.6 207.7L182.1 208.7L182.7 209.7L183.2 210.6L183.8 211.6L184.3 212.6L184.9 213.6L185.4 214.6L186.0 215.5L186.6 216.5L187.1 217.5L187.5 209.7L187.8 202.6L188.1 196.3L188.5 190.8L188.8 185.9L189.2 181.7L189.5 178.2L189.9 175.2L190.2 172.7L190.6 170.8L190.9 169.3L191.2 168.2L191.6 167.5L191.9 167.0L192.3 166.8L192.6 166.8L193.2 167.6L193.7 168.3L194.3 169.1L194.9 169.9L195.4 170.6L196.0 171.4L196.6 172.2L197.1 172.9L197.7 173.7L198.3 174.5L198.8 175.2L199.4 176.0L200.0 176.8L200.5 177.5L201.1 178.3L201.7 179.1L202.2 179.8L202.8 180.6L203.4 181.4L203.9 182.2L204.5 182.9L205.1 183.7L205.6 184.5L206.2 185.2L206.8 186.0L207.3 186.8L207.9 187.5L208.4 188.3L209.0 189.1L209.6 189.8L210.1 190.6L210.7 191.4L211.3 192.1L211.8 192.9L212.4 193.7L213.0 194.4L213.5 195.2L214.1 196.0L214.7 196.7L215.2 197.5L215.6 192.3L215.9 187.6L216.2 183.4L216.6 179.8L216.9 176.5L217.3 173.7L217.6 171.4L217.9 169.4L218.3 167.7L218.6 166.4L218.9 165.4L219.3 164.7L219.6 164.2L219.9 164.0L220.3 163.8L220.6 163.8L221.2 164.5L221.8 165.3L222.3 166.0L222.9 166.7L223.5 167.5L224.0 168.2L224.6 168.9L225.2 169.6L225.7 170.4L226.3 171.1L226.9 171.8L227.4 172.6L228.0 173.3L228.6 174.0L229.1 174.8L229.7 175.5L230.3 176.2L230.9 176.9L231.4 177.7L232.0 178.4L232.6 179.1L233.1 179.9L233.7 180.6L234.3 181.3L234.8 182.1L235.4 182.8L236.0 183.5L236.5 184.2L237.1 185.0L237.7 185.7L238.2 186.4L238.8 187.2L239.4 187.9L239.9 188.6L240.5 189.3L241.1 190.1L241.7 190.8L242.2 191.5L242.8 192.3L243.4 193.0L243.7 188.4L244.0 184.2L244.4 180.5L244.7 177.2L245.0 174.3L245.4 171.8L245.7 169.7L246.1 167.9L246.4 166.5L246.7 165.3L247.1 164.5L247.4 163.8L247.7 163.4L248.1 163.1L248.4 163.0L248.7 163.0L249.3 163.7L249.9 164.5L250.5 165.2L251.0 165.9L251.6 166.7L252.2 167.4L252.7 168.1L253.3 168.9L253.9 169.6L254.4 170.3L255.0 171.1L255.6 171.8L256.1 172.5L256.7 173.3L257.3 174.0L257.8 174.7L258.4 175.5L259.0 176.2L259.5 176.9L260.1 177.7L260.7 178.4L261.2 179.1L261.8 179.8L262.4 180.6L263.0 181.3L263.5 182.0L264.1 182.8L264.7 183.5L265.2 184.2L265.8 185.0L266.4 185.7L266.9 186.4L267.5 187.2L268.1 187.9L268.6 188.6L269.2 189.4L269.8 190.1L270.3 190.8L270.9 191.6L271.5 192.3L271.8 187.9L272.2 183.9L272.5 180.3L272.8 177.1L273.2 174.4L273.5 172.0L273.8 170.0L274.2 168.3L274.5 166.9L274.8 165.7L275.2 164.9L275.5 164.3L275.9 163.9L276.2 163.6L276.5 163.5L276.9 163.5L277.4 164.2L278.0 164.9L278.6 165.7L279.1 166.4L279.7 167.1L280.3 167.8L280.8 168.5L281.4 169.3L282.0 170.0L282.6 170.7L283.1 171.4L283.7 172.1L284.3 172.9L284.8 173.6L285.4 174.3L286.0 175.0L286.5 175.7L287.1 176.5L287.7 177.2L288.2 177.9L288.8 178.6L289.4 179.3L289.9 180.1L290.5 180.8L291.1 181.5L291.6 182.2L292.2 182.9L292.8 183.7L293.4 184.4L293.9 185.1L294.5 185.8L295.1 186.5L295.6 187.3L296.2 188.0L296.8 188.7L297.3 189.4L297.9 190.1L298.5 190.9L299.0 191.6L299.6 192.3L299.9 187.9L300.3 183.9L300.6 180.3L300.9 177.1L301.3 174.4L301.6 172.0L302.0 170.0L302.3 168.3L302.6 166.9L303.0 165.7L303.3 164.9L303.6 164.3L304.0 163.9L304.3 163.6L304.7 163.5L305.0 163.5L305.6 164.2L306.1 164.9L306.7 165.7L307.3 166.4L307.8 167.1L308.4 167.8L309.0 168.5L309.5 169.3L310.1 170.0L310.7 170.7L311.2 171.4L311.8 172.1L312.4 172.9L312.9 173.6L313.5 174.3L314.1 175.0L314.7 175.7L315.2 176.5L315.8 177.2L316.4 177.9L316.9 178.6L317.5 179.3L318.1 180.1L318.6 180.8L319.2 181.5L319.8 182.2L320.3 182.9L320.9 183.7L321.5 184.4L322.0 185.1L322.6 185.8L323.2 186.5L323.7 187.3L324.3 188.0L324.9 188.7L325.5 189.4L326.0 190.1L326.6 190.9L327.2 191.6L327.7 192.3L328.1 187.9L328.4 183.9L328.7 180.3L329.1 177.1L329.4 174.4L329.7 172.0L330.1 170.0L330.4 168.3L330.8 166.9L331.1 165.7L331.4 164.9L331.8 164.3L332.1 163.9L332.4 163.6L332.8 163.5L333.1 163.5L333.7 164.2L334.3 164.9L334.8 165.7L335.4 166.4L336.0 167.1L336.5 167.8L337.1 168.5L337.7 169.3L338.2 170.0L338.8 170.7L339.4 171.4L339.9 172.1L340.5 172.9L341.1 173.6L341.6 174.3L342.2 175.0L342.8 175.7L343.3 176.5L343.9 177.2L344.5 177.9L345.1 178.6L345.6 179.3L346.2 180.1L346.8 180.8L347.3 181.5L347.9 182.2L348.5 182.9L349.0 183.7L349.6 184.4L350.2 185.1L350.7 185.8L351.3 186.5L351.9 187.3L352.4 188.0L353.0 188.7L353.6 189.4L354.1 190.1L354.7 190.9L355.3 191.6L355.8 192.3L356.2 187.9L356.5 183.9L356.9 180.3L357.2 177.1L357.5 174.4L357.9 172.0L358.2 170.0L358.5 168.3L358.9 166.9L359.2 165.7L359.6 164.9L359.9 164.3L360.2 163.9L360.6 163.6L360.9 163.5L361.2 163.5L361.8 164.2L362.4 164.9L362.9 165.7L363.5 166.4L364.1 167.1L364.6 167.8L365.2 168.5L365.8 169.3L366.4 170.0L366.9 170.7L367.5 171.4L368.1 172.1L368.6 172.9L369.2 173.6L369.8 174.3L370.3 175.0L370.9 175.7L371.5 176.5L372.0 177.2L372.6 177.9L373.2 178.6L373.7 179.3L374.3 180.1L374.9 180.8L375.4 181.5L376.0 182.2L376.6 182.9L377.2 183.7L377.7 184.4L378.3 185.1L378.9 185.8L379.4 186.5L380.0 187.3L380.6 188.0L381.1 188.7L381.7 189.4L382.3 190.1L382.8 190.9L383.4 191.6L384.0 192.3L384.3 187.9L384.6 183.9L385.0 180.3L385.3 177.1L385.7 174.4L386.0 172.0L386.3 170.0L386.7 168.3L387.0 166.9L387.3 165.7L387.7 164.9L388.0 164.3L388.4 163.9L388.7 163.6L389.0 163.5L389.4 163.5L389.9 164.2L390.5 164.9L391.1 165.7L391.6 166.4L392.2 167.1L392.8 167.8L393.3 168.5L393.9 169.3L394.5 170.0L395.0 170.7L395.6 171.4L396.2 172.1L396.7 172.9L397.3 173.6L397.9 174.3L398.5 175.0L399.0 175.7L399.6 176.5L400.2 177.2L400.7 177.9L401.3 178.6L401.9 179.3L402.4 180.1L403.0 180.8L403.6 181.5L404.1 182.2L404.7 182.9L405.3 183.7L405.8 184.4L406.4 185.1L407.0 185.8L407.5 186.5L408.1 187.3L408.7 188.0L409.3 188.7L409.8 189.4L410.4 190.1L411.0 190.9L411.5 191.6L412.1 192.3L412.4 187.9L412.8 183.9L413.1 180.3L413.4 177.1L413.8 174.4L414.1 172.0L414.5 170.0L414.8 168.3L415.1 166.9L415.5 165.7L415.8 164.9L416.1 164.3L416.5 163.9L416.8 163.6L417.1 163.5L417.5 163.5L418.1 164.2L418.6 164.9L419.2 165.7L419.8 166.4L420.3 167.1L420.9 167.8L421.5 168.5L422.0 169.3L422.6 170.0L423.2 170.7L423.7 171.4L424.3 172.1L424.9 172.9L425.4 173.6L426.0 174.3L426.6 175.0L427.1 175.7L427.7 176.5L428.3 177.2L428.9 177.9L429.4 178.6L430.0 179.3L430.6 180.1L431.1 180.8L431.7 181.5L432.3 182.2L432.8 182.9L433.4 183.7L434.0 184.4L434.5 185.1L435.1 185.8L435.7 186.5L436.2 187.3L436.8 188.0L437.4 188.7L437.9 189.4L438.5 190.1L439.1 190.9L439.6 191.6L440.2 192.3L440.6 187.9L440.9 183.9L441.2 180.3L441.6 177.1L441.9 174.4L442.2 172.0L442.6 170.0L442.9 168.3L443.2 166.9L443.6 165.7L443.9 164.9L444.3 164.3L444.6 163.9L444.9 163.6L445.3 163.5L445.6 163.5L446.2 164.2L446.7 164.9L447.3 165.7L447.9 166.4L448.4 167.1L449.0 167.8L449.6 168.5L450.2 169.3L450.7 170.0L451.3 170.7L451.9 171.4L452.4 172.1L453.0 172.9L453.6 173.6L454.1 174.3L454.7 175.0L455.3 175.7L455.8 176.5L456.4 177.2L457.0 177.9L457.5 178.6L458.1 179.3L458.7 180.1L459.2 180.8L459.8 181.5L460.4 182.2L461.0 182.9L461.5 183.7L462.1 184.4L462.7 185.1L463.2 185.8L463.8 186.5L464.4 187.3L464.9 188.0L465.5 188.7L466.1 189.4L466.6 190.1L467.2 190.9L467.8 191.6L468.3 192.3L468.7 187.9L469.0 183.9L469.4 180.3L469.7 177.1L470.0 174.4L470.4 172.0L470.7 170.0L471.0 168.3L471.4 166.9L471.7 165.7L472.0 164.9L472.4 164.3L472.7 163.9L473.1 163.6L473.4 163.5L473.7 163.5L474.3 164.2L474.9 164.9L475.4 165.7L476.0 166.4L476.6 167.1L477.1 167.8L477.7 168.5L478.3 169.3L478.8 170.0L479.4 170.7L480.0 171.4L480.6 172.1L481.1 172.9L481.7 173.6L482.3 174.3L482.8 175.0L483.4 175.7L484.0 176.5L484.5 177.2L485.1 177.9L485.7 178.6L486.2 179.3L486.8 180.1L487.4 180.8L487.9 181.5L488.5 182.2L489.1 182.9L489.6 183.7L490.2 184.4L490.8 185.1L491.3 185.8L491.9 186.5L492.5 187.3L493.1 188.0L493.6 188.7L494.2 189.4L494.8 190.1L495.3 190.9L495.9 191.6L496.5 192.3L496.8 187.9L497.1 183.9L497.5 180.3L497.8 177.1L498.1 174.4L498.5 172.0L498.8 170.0L499.2 168.3L499.5 166.9L499.8 165.7L500.2 164.9L500.5 164.3L500.8 163.9L501.2 163.6L501.5 163.5L501.9 163.5L502.4 164.2L503.0 164.9L503.6 165.7L504.1 166.4L504.7 167.1L505.3 167.8L505.8 168.5L506.4 169.3L507.0 170.0L507.5 170.7L508.1 171.4L508.7 172.1L509.2 172.9L509.8 173.6L510.4 174.3L510.9 175.0L511.5 175.7L512.1 176.5L512.7 177.2L513.2 177.9L513.8 178.6L514.4 179.3L514.9 180.1L515.5 180.8L516.1 181.5L516.6 182.2L517.2 182.9L517.8 183.7L518.3 184.4L518.9 185.1L519.5 185.8L520.0 186.5L520.6 187.3L521.2 188.0L521.7 188.7L522.3 189.4L522.9 190.1L523.5 190.9L524.0 191.6L524.6 192.3L524.9 187.9L525.3 183.9L525.6 180.3L525.9 177.1L526.3 174.4L526.6 172.0L526.9 170.0L527.3 168.3L527.6 166.9L528.0 165.7L528.3 164.9L528.6 164.3L529.0 163.9L529.3 163.6L529.6 163.5L530.0 163.5L530.5 164.2L531.1 164.9L531.7 165.7L532.3 166.4L532.8 167.1L533.4 167.8L534.0 168.5L534.5 169.3L535.1 170.0L535.7 170.7L536.2 171.4L536.8 172.1L537.4 172.9L537.9 173.6L538.5 174.3L539.1 175.0L539.6 175.7L540.2 176.5L540.8 177.2L541.3 177.9L541.9 178.6L542.5 179.3L543.0 180.1L543.6 180.8L544.2 181.5L544.8 182.2L545.3 182.9L545.9 183.7L546.5 184.4L547.0 185.1L547.6 185.8L548.2 186.5L548.7 187.3L549.3 188.0L549.9 188.7L550.4 189.4L551.0 190.1L551.6 190.9L552.1 191.6L552.7 192.3L553.0 187.9L553.4 183.9L553.7 180.3L554.1 177.1L554.4 174.4L554.7 172.0L555.1 170.0L555.4 168.3L555.7 166.9L556.1 165.7L556.4 164.9L556.8 164.3L557.1 163.9L557.4 163.6L557.8 163.5L558.1 163.5L558.7 164.2L559.2 165.0L559.8 165.7L560.3 166.4L560.9 167.2L561.4 167.9L562.0 168.6L562.5 169.4L563.1 170.1L563.6 170.8L564.2 171.6L564.7 172.3L565.3 173.0L565.9 173.8L566.4 174.5L567.0 175.2L567.5 176.0L568.1 176.7L568.6 177.4L569.2 178.2L569.7 178.9L570.3 179.6L570.8 180.3L571.4 181.1L571.9 181.8L572.5 182.5L573.1 183.3L573.6 184.0L574.2 184.7L574.7 185.5L575.3 186.2L575.8 186.9L576.4 187.7L576.9 188.4L577.5 189.1L578.0 189.9L578.6 190.6L579.1 191.3L579.7 192.1L580.2 192.8"/>
</g>
<g fill="#e00000"><circle cx="146.3" cy="208.1" r="1.5"/><circle cx="160.6" cy="208.1" r="1.5"/><circle cx="175.0" cy="208.1" r="1.5"/><circle cx="189.3" cy="208.1" r="1.5"/><circle cx="203.6" cy="208.1" r="1.5"/><circle cx="218.0" cy="208.1" r="1.5"/><circle cx="232.3" cy="208.1" r="1.5"/><circle cx="246.6" cy="208.1" r="1.5"/><circle cx="260.9" cy="208.1" r="1.5"/><circle cx="275.3" cy="208.1" r="1.5"/><circle cx="289.6" cy="208.1" r="1.5"/><circle cx="303.9" cy="208.1" r="1.5"/><circle cx="318.3" cy="208.1" r="1.5"/><circle cx="332.6" cy="208.1" r="1.5"/><circle cx="346.9" cy="208.1" r="1.5"/><circle cx="361.2" cy="208.1" r="1.5"/><circle cx="375.6" cy="208.1" r="1.5"/><circle cx="389.9" cy="208.1" r="1.5"/><circle cx="404.2" cy="208.1" r="1.5"/><circle cx="418.6" cy="208.1" r="1.5"/><circle cx="432.9" cy="208.1" r="1.5"/><circle cx="447.2" cy="208.1" r="1.5"/><circle cx="461.6" cy="208.1" r="1.5"/><circle cx="475.9" cy="208.1" r="1.5"/><circle cx="490.2" cy="208.1" r="1.5"/><circle cx="504.6" cy="208.1" r="1.5"/><circle cx="518.9" cy="208.1" r="1.5"/><circle cx="533.2" cy="208.1" r="1.5"/><circle cx="547.5" cy="208.1" r="1.5"/><circle cx="561.9" cy="208.1" r="1.5"/><circle cx="576.2" cy="208.1" r="1.5"/><circle cx="590.5" cy="208.1" r="1.5"/><circle cx="604.9" cy="208.1" r="1.5"/><circle cx="619.2" cy="208.1" r="1.5"/></g>
<g font-family="Liberation Serif, serif" font-size="31" text-anchor="end" fill="#000">
<text x="135.79999999999998" y="67.4">120</text>
<text x="135.79999999999998" y="141.0">100</text>
<text x="135.79999999999998" y="214.7">80</text>
<text x="135.79999999999998" y="288.3">60</text>
<text x="135.79999999999998" y="362.0">40</text>
<text x="135.79999999999998" y="435.6">20</text>
</g>
<g font-family="Liberation Serif, serif" font-size="31" text-anchor="middle" fill="#000">
<text x="143.2" y="463.6">0</text>
<text x="201.8" y="463.6">50</text>
<text x="260.4" y="463.6">100</text>
<text x="319.0" y="463.6">150</text>
<text x="377.6" y="463.6">200</text>
<text x="436.2" y="463.6">250</text>
<text x="494.7" y="463.6">300</text>
<text x="553.3" y="463.6">350</text>
<text x="611.9" y="463.6">400</text>
</g>
<text font-family="Liberation Serif, serif" font-size="42" x="146.8" y="100.5" fill="#000">Caucasian</text>
<text font-family="Liberation Serif, serif" font-size="30" x="592.0" y="176.2" fill="#d70000">80% Inhibition</text>
<g stroke="#000" stroke-width="1.6" fill="none">
<path d="M866.7 58.0V427.0M859.5 427.0H1347.8"/>
</g>
<g stroke="#000" stroke-width="1.8" fill="none"><path d="
M859.5 58.8H866.7M862.7 95.6H866.7M859.5 132.4H866.7M862.7 169.3H866.7M859.5 206.1H866.7M862.7 242.9H866.7M859.5 279.7H866.7M862.7 316.5H866.7M859.5 353.4H866.7M862.7 390.2H866.7M859.5 427.0H866.7M878.0 427.0V434.5M907.3 427.0V431.0M936.6 427.0V434.5M965.9 427.0V431.0M995.2 427.0V434.5M1024.5 427.0V431.0M1053.8 427.0V434.5M1083.1 427.0V431.0M1112.4 427.0V434.5M1141.7 427.0V431.0M1171.0 427.0V434.5M1200.3 427.0V431.0M1229.6 427.0V434.5M1258.9 427.0V431.0M1288.2 427.0V434.5M1317.5 427.0V431.0M1346.8 427.0V434.5"/></g>
<clipPath id="clipB"><rect x="866.7" y="28.799999999999997" width="520.3" height="399.4"/></clipPath>
<g clip-path="url(#clipB)" fill="none" stroke-width="4.4" stroke-linejoin="round" stroke-linecap="round">
<path stroke="#000000" stroke-width="5.0" d="M882.5 429.0L882.6 389.7L882.6 358.1L882.7 332.9L882.7 313.1L882.8 297.6L882.8 285.7L882.9 276.7L882.9 270.0L883.0 265.1L883.0 261.6L883.1 259.1L883.1 257.4L883.2 256.3L883.2 255.6L883.3 255.2L883.3 254.9L883.4 254.8L883.4 254.7L883.5 254.7L883.5 254.7L883.6 254.7L883.6 254.7L883.7 254.7L883.7 254.7L884.3 262.0L884.9 268.0L885.5 272.9L886.1 277.1L886.7 280.7L887.3 283.8L887.9 286.6L888.5 289.1L889.1 291.4L889.7 293.6L890.3 295.6L890.9 297.5L891.5 299.4L892.1 301.1L892.7 302.8L893.3 304.5L893.9 306.1L894.5 307.7L895.1 309.2L895.7 310.7L896.3 312.1L896.9 313.5L897.5 314.9L898.1 316.2L898.7 317.6L899.3 318.9L899.9 320.1L900.5 321.4L901.1 322.6L901.7 323.7L902.3 324.9L902.9 326.0L903.5 327.2L904.1 328.2L904.7 329.3L905.3 330.3L905.9 331.4L906.5 332.4L907.1 333.3L907.7 334.3L907.8 318.2L908.0 303.8L908.2 290.9L908.4 279.5L908.6 269.5L908.8 260.9L909.0 253.5L909.2 247.4L909.4 242.3L909.6 238.3L909.8 235.3L910.0 233.0L910.2 231.5L910.4 230.7L910.6 230.3L910.8 230.2L911.4 233.8L912.1 237.0L912.7 240.0L913.3 242.7L913.9 245.2L914.6 247.6L915.2 249.9L915.8 252.0L916.4 254.1L917.1 256.2L917.7 258.1L918.3 260.0L918.9 261.9L919.6 263.7L920.2 265.5L920.8 267.2L921.4 268.9L922.0 270.5L922.7 272.1L923.3 273.7L923.9 275.2L924.5 276.7L925.2 278.2L925.8 279.7L926.4 281.1L927.0 282.4L927.7 283.8L928.3 285.1L928.9 286.4L929.5 287.7L930.2 288.9L930.8 290.1L931.4 291.3L932.0 292.5L932.7 293.6L933.3 294.8L933.9 295.9L934.5 296.9L935.2 298.0L935.8 299.0L936.0 287.2L936.1 276.5L936.3 267.0L936.5 258.7L936.7 251.3L936.9 245.0L937.1 239.6L937.2 235.0L937.4 231.3L937.6 228.4L937.8 226.1L938.0 224.5L938.2 223.4L938.3 222.7L938.5 222.5L938.7 222.4L939.3 225.8L940.0 228.8L940.6 231.6L941.2 234.1L941.9 236.5L942.5 238.8L943.1 240.9L943.7 243.0L944.4 245.0L945.0 246.9L945.6 248.7L946.3 250.5L946.9 252.2L947.5 254.0L948.2 255.6L948.8 257.2L949.4 258.8L950.0 260.4L950.7 261.9L951.3 263.4L951.9 264.8L952.6 266.2L953.2 267.6L953.8 269.0L954.5 270.3L955.1 271.6L955.7 272.9L956.3 274.1L957.0 275.4L957.6 276.5L958.2 277.7L958.9 278.9L959.5 280.0L960.1 281.1L960.8 282.2L961.4 283.2L962.0 284.2L962.6 285.2L963.3 286.2L963.9 287.2L964.1 276.8L964.2 267.4L964.4 259.1L964.6 251.7L964.7 245.2L964.9 239.7L965.1 234.9L965.3 230.9L965.4 227.7L965.6 225.1L965.8 223.1L965.9 221.6L966.1 220.7L966.3 220.1L966.4 219.8L966.6 219.8L967.2 223.1L967.9 226.1L968.5 228.8L969.1 231.3L969.8 233.7L970.4 235.9L971.1 238.0L971.7 240.0L972.3 241.9L973.0 243.8L973.6 245.6L974.2 247.4L974.9 249.1L975.5 250.8L976.1 252.4L976.8 254.0L977.4 255.5L978.0 257.1L978.7 258.6L979.3 260.0L980.0 261.4L980.6 262.8L981.2 264.2L981.9 265.5L982.5 266.8L983.1 268.1L983.8 269.4L984.4 270.6L985.0 271.8L985.7 272.9L986.3 274.1L986.9 275.2L987.6 276.3L988.2 277.4L988.9 278.5L989.5 279.5L990.1 280.5L990.8 281.5L991.4 282.5L992.0 283.4L992.2 273.3L992.4 264.2L992.5 256.2L992.7 249.0L992.9 242.8L993.0 237.3L993.2 232.7L993.4 228.9L993.6 225.7L993.7 223.2L993.9 221.3L994.1 219.9L994.2 218.9L994.4 218.4L994.6 218.1L994.7 218.1L995.4 221.5L996.0 224.6L996.6 227.4L997.3 229.9L997.9 232.3L998.5 234.6L999.2 236.8L999.8 238.8L1000.5 240.8L1001.1 242.7L1001.7 244.6L1002.4 246.4L1003.0 248.2L1003.6 249.9L1004.3 251.6L1004.9 253.2L1005.5 254.8L1006.2 256.4L1006.8 257.9L1007.4 259.4L1008.1 260.8L1008.7 262.3L1009.4 263.7L1010.0 265.0L1010.6 266.4L1011.3 267.7L1011.9 269.0L1012.5 270.2L1013.2 271.5L1013.8 272.7L1014.4 273.8L1015.1 275.0L1015.7 276.1L1016.3 277.2L1017.0 278.3L1017.6 279.4L1018.3 280.4L1018.9 281.4L1019.5 282.4L1020.2 283.4L1020.3 273.3L1020.5 264.2L1020.7 256.2L1020.8 249.0L1021.0 242.8L1021.2 237.3L1021.3 232.7L1021.5 228.9L1021.7 225.7L1021.8 223.2L1022.0 221.3L1022.2 219.9L1022.4 218.9L1022.5 218.4L1022.7 218.1L1022.9 218.1L1023.5 221.5L1024.1 224.6L1024.8 227.4L1025.4 229.9L1026.0 232.3L1026.7 234.6L1027.3 236.8L1027.9 238.8L1028.6 240.8L1029.2 242.7L1029.9 244.6L1030.5 246.4L1031.1 248.2L1031.8 249.9L1032.4 251.6L1033.0 253.2L1033.7 254.8L1034.3 256.4L1034.9 257.9L1035.6 259.4L1036.2 260.8L1036.8 262.3L1037.5 263.7L1038.1 265.0L1038.8 266.4L1039.4 267.7L1040.0 269.0L1040.7 270.2L1041.3 271.5L1041.9 272.7L1042.6 273.8L1043.2 275.0L1043.8 276.1L1044.5 277.2L1045.1 278.3L1045.7 279.4L1046.4 280.4L1047.0 281.4L1047.7 282.4L1048.3 283.4L1048.5 273.3L1048.6 264.2L1048.8 256.2L1049.0 249.0L1049.1 242.8L1049.3 237.3L1049.5 232.7L1049.6 228.9L1049.8 225.7L1050.0 223.2L1050.1 221.3L1050.3 219.9L1050.5 218.9L1050.7 218.4L1050.8 218.1L1051.0 218.1L1051.6 221.5L1052.3 224.6L1052.9 227.4L1053.5 229.9L1054.2 232.3L1054.8 234.6L1055.4 236.8L1056.1 238.8L1056.7 240.8L1057.3 242.7L1058.0 244.6L1058.6 246.4L1059.3 248.2L1059.9 249.9L1060.5 251.6L1061.2 253.2L1061.8 254.8L1062.4 256.4L1063.1 257.9L1063.7 259.4L1064.3 260.8L1065.0 262.3L1065.6 263.7L1066.2 265.0L1066.9 266.4L1067.5 267.7L1068.2 269.0L1068.8 270.2L1069.4 271.5L1070.1 272.7L1070.7 273.8L1071.3 275.0L1072.0 276.1L1072.6 277.2L1073.2 278.3L1073.9 279.4L1074.5 280.4L1075.1 281.4L1075.8 282.4L1076.4 283.4L1076.6 273.3L1076.8 264.2L1076.9 256.2L1077.1 249.0L1077.3 242.8L1077.4 237.3L1077.6 232.7L1077.8 228.9L1077.9 225.7L1078.1 223.2L1078.3 221.3L1078.4 219.9L1078.6 218.9L1078.8 218.4L1078.9 218.1L1079.1 218.1L1079.8 221.5L1080.4 224.6L1081.0 227.4L1081.7 229.9L1082.3 232.3L1082.9 234.6L1083.6 236.8L1084.2 238.8L1084.8 240.8L1085.5 242.7L1086.1 244.6L1086.7 246.4L1087.4 248.2L1088.0 249.9L1088.7 251.6L1089.3 253.2L1089.9 254.8L1090.6 256.4L1091.2 257.9L1091.8 259.4L1092.5 260.8L1093.1 262.3L1093.7 263.7L1094.4 265.0L1095.0 266.4L1095.6 267.7L1096.3 269.0L1096.9 270.2L1097.6 271.5L1098.2 272.7L1098.8 273.8L1099.5 275.0L1100.1 276.1L1100.7 277.2L1101.4 278.3L1102.0 279.4L1102.6 280.4L1103.3 281.4L1103.9 282.4L1104.5 283.4L1104.7 273.3L1104.9 264.2L1105.1 256.2L1105.2 249.0L1105.4 242.8L1105.6 237.3L1105.7 232.7L1105.9 228.9L1106.1 225.7L1106.2 223.2L1106.4 221.3L1106.6 219.9L1106.7 218.9L1106.9 218.4L1107.1 218.1L1107.2 218.1L1107.9 221.5L1108.5 224.6L1109.2 227.4L1109.8 229.9L1110.4 232.3L1111.1 234.6L1111.7 236.8L1112.3 238.8L1113.0 240.8L1113.6 242.7L1114.2 244.6L1114.9 246.4L1115.5 248.2L1116.1 249.9L1116.8 251.6L1117.4 253.2L1118.1 254.8L1118.7 256.4L1119.3 257.9L1120.0 259.4L1120.6 260.8L1121.2 262.3L1121.9 263.7L1122.5 265.0L1123.1 266.4L1123.8 267.7L1124.4 269.0L1125.0 270.2L1125.7 271.5L1126.3 272.7L1127.0 273.8L1127.6 275.0L1128.2 276.1L1128.9 277.2L1129.5 278.3L1130.1 279.4L1130.8 280.4L1131.4 281.4L1132.0 282.4L1132.7 283.4L1132.8 273.3L1133.0 264.2L1133.2 256.2L1133.3 249.0L1133.5 242.8L1133.7 237.3L1133.9 232.7L1134.0 228.9L1134.2 225.7L1134.4 223.2L1134.5 221.3L1134.7 219.9L1134.9 218.9L1135.0 218.4L1135.2 218.1L1135.4 218.1L1136.0 221.5L1136.6 224.6L1137.3 227.4L1137.9 229.9L1138.6 232.3L1139.2 234.6L1139.8 236.8L1140.5 238.8L1141.1 240.8L1141.7 242.7L1142.4 244.6L1143.0 246.4L1143.6 248.2L1144.3 249.9L1144.9 251.6L1145.5 253.2L1146.2 254.8L1146.8 256.4L1147.5 257.9L1148.1 259.4L1148.7 260.8L1149.4 262.3L1150.0 263.7L1150.6 265.0L1151.3 266.4L1151.9 267.7L1152.5 269.0L1153.2 270.2L1153.8 271.5L1154.4 272.7L1155.1 273.8L1155.7 275.0L1156.4 276.1L1157.0 277.2L1157.6 278.3L1158.3 279.4L1158.9 280.4L1159.5 281.4L1160.2 282.4L1160.8 283.4L1161.0 273.3L1161.1 264.2L1161.3 256.2L1161.5 249.0L1161.6 242.8L1161.8 237.3L1162.0 232.7L1162.2 228.9L1162.3 225.7L1162.5 223.2L1162.7 221.3L1162.8 219.9L1163.0 218.9L1163.2 218.4L1163.3 218.1L1163.5 218.1L1164.1 221.5L1164.8 224.6L1165.4 227.4L1166.0 229.9L1166.7 232.3L1167.3 234.6L1167.9 236.8L1168.6 238.8L1169.2 240.8L1169.9 242.7L1170.5 244.6L1171.1 246.4L1171.8 248.2L1172.4 249.9L1173.0 251.6L1173.7 253.2L1174.3 254.8L1174.9 256.4L1175.6 257.9L1176.2 259.4L1176.9 260.8L1177.5 262.3L1178.1 263.7L1178.8 265.0L1179.4 266.4L1180.0 267.7L1180.7 269.0L1181.3 270.2L1181.9 271.5L1182.6 272.7L1183.2 273.8L1183.8 275.0L1184.5 276.1L1185.1 277.2L1185.8 278.3L1186.4 279.4L1187.0 280.4L1187.7 281.4L1188.3 282.4L1188.9 283.4L1189.1 273.3L1189.3 264.2L1189.4 256.2L1189.6 249.0L1189.8 242.8L1189.9 237.3L1190.1 232.7L1190.3 228.9L1190.4 225.7L1190.6 223.2L1190.8 221.3L1191.0 219.9L1191.1 218.9L1191.3 218.4L1191.5 218.1L1191.6 218.1L1192.3 221.5L1192.9 224.6L1193.5 227.4L1194.2 229.9L1194.8 232.3L1195.4 234.6L1196.1 236.8L1196.7 238.8L1197.3 240.8L1198.0 242.7L1198.6 244.6L1199.3 246.4L1199.9 248.2L1200.5 249.9L1201.2 251.6L1201.8 253.2L1202.4 254.8L1203.1 256.4L1203.7 257.9L1204.3 259.4L1205.0 260.8L1205.6 262.3L1206.3 263.7L1206.9 265.0L1207.5 266.4L1208.2 267.7L1208.8 269.0L1209.4 270.2L1210.1 271.5L1210.7 272.7L1211.3 273.8L1212.0 275.0L1212.6 276.1L1213.2 277.2L1213.9 278.3L1214.5 279.4L1215.2 280.4L1215.8 281.4L1216.4 282.4L1217.1 283.4L1217.2 273.3L1217.4 264.2L1217.6 256.2L1217.7 249.0L1217.9 242.8L1218.1 237.3L1218.2 232.7L1218.4 228.9L1218.6 225.7L1218.7 223.2L1218.9 221.3L1219.1 219.9L1219.2 218.9L1219.4 218.4L1219.6 218.1L1219.8 218.1L1220.4 221.5L1221.0 224.6L1221.7 227.4L1222.3 229.9L1222.9 232.3L1223.6 234.6L1224.2 236.8L1224.8 238.8L1225.5 240.8L1226.1 242.7L1226.7 244.6L1227.4 246.4L1228.0 248.2L1228.7 249.9L1229.3 251.6L1229.9 253.2L1230.6 254.8L1231.2 256.4L1231.8 257.9L1232.5 259.4L1233.1 260.8L1233.7 262.3L1234.4 263.7L1235.0 265.0L1235.7 266.4L1236.3 267.7L1236.9 269.0L1237.6 270.2L1238.2 271.5L1238.8 272.7L1239.5 273.8L1240.1 275.0L1240.7 276.1L1241.4 277.2L1242.0 278.3L1242.6 279.4L1243.3 280.4L1243.9 281.4L1244.6 282.4L1245.2 283.4L1245.4 273.3L1245.5 264.2L1245.7 256.2L1245.9 249.0L1246.0 242.8L1246.2 237.3L1246.4 232.7L1246.5 228.9L1246.7 225.7L1246.9 223.2L1247.0 221.3L1247.2 219.9L1247.4 218.9L1247.5 218.4L1247.7 218.1L1247.9 218.1L1248.5 221.5L1249.2 224.6L1249.8 227.4L1250.4 229.9L1251.1 232.3L1251.7 234.6L1252.3 236.8L1253.0 238.8L1253.6 240.8L1254.2 242.7L1254.9 244.6L1255.5 246.4L1256.1 248.2L1256.8 249.9L1257.4 251.6L1258.1 253.2L1258.7 254.8L1259.3 256.4L1260.0 257.9L1260.6 259.4L1261.2 260.8L1261.9 262.3L1262.5 263.7L1263.1 265.0L1263.8 266.4L1264.4 267.7L1265.1 269.0L1265.7 270.2L1266.3 271.5L1267.0 272.7L1267.6 273.8L1268.2 275.0L1268.9 276.1L1269.5 277.2L1270.1 278.3L1270.8 279.4L1271.4 280.4L1272.0 281.4L1272.7 282.4L1273.3 283.4L1273.5 273.3L1273.7 264.2L1273.8 256.2L1274.0 249.0L1274.2 242.8L1274.3 237.3L1274.5 232.7L1274.7 228.9L1274.8 225.7L1275.0 223.2L1275.2 221.3L1275.3 219.9L1275.5 218.9L1275.7 218.4L1275.8 218.1L1276.0 218.1L1276.6 221.5L1277.2 224.5L1277.8 227.2L1278.4 229.8L1279.0 232.2L1279.6 234.4L1280.2 236.5L1280.8 238.6L1281.4 240.5L1282.0 242.4L1282.6 244.3L1283.2 246.1L1283.8 247.8L1284.4 249.5L1285.0 251.2L1285.6 252.8L1286.2 254.4L1286.8 255.9L1287.4 257.4L1288.0 258.9L1288.6 260.3L1289.2 261.7L1289.8 263.1L1290.4 264.5L1291.0 265.8L1291.6 267.1L1292.1 268.4L1292.7 269.6L1293.3 270.8L1293.9 272.0L1294.5 273.2L1295.1 274.3L1295.7 275.4L1296.3 276.5L1296.9 277.6L1297.5 278.6L1298.1 279.7L1298.7 280.7L1299.3 281.6L1299.9 282.6"/>
<path stroke="#da0000" stroke-width="4.8" d="M881.5 429.0L881.6 405.5L881.7 386.6L881.8 371.6L881.9 359.7L882.1 350.5L882.2 343.3L882.3 338.0L882.4 333.9L882.5 331.0L882.6 328.9L882.7 327.4L882.8 326.4L882.9 325.8L883.0 325.3L883.1 325.1L883.2 324.9L883.3 324.9L883.4 324.8L883.6 324.8L883.7 324.8L883.8 324.8L883.9 324.8L884.0 324.8L884.1 324.8L884.7 331.4L885.3 336.8L885.9 341.2L886.5 345.0L887.0 348.2L887.6 351.0L888.2 353.5L888.8 355.8L889.4 357.9L890.0 359.8L890.6 361.6L891.2 363.4L891.8 365.0L892.3 366.6L892.9 368.2L893.5 369.6L894.1 371.1L894.7 372.5L895.3 373.9L895.9 375.2L896.5 376.5L897.1 377.8L897.6 379.0L898.2 380.2L898.8 381.4L899.4 382.6L900.0 383.7L900.6 384.8L901.2 385.9L901.8 387.0L902.4 388.0L902.9 389.1L903.5 390.1L904.1 391.0L904.7 392.0L905.3 392.9L905.9 393.9L906.5 394.8L907.1 395.6L907.7 396.5L907.9 380.9L908.1 366.8L908.3 354.3L908.6 343.2L908.8 333.5L909.0 325.1L909.2 318.0L909.5 312.0L909.7 307.1L909.9 303.2L910.1 300.2L910.4 298.1L910.6 296.6L910.8 295.8L911.1 295.4L911.3 295.3L911.9 298.9L912.5 302.2L913.1 305.2L913.7 307.9L914.3 310.5L915.0 312.9L915.6 315.2L916.2 317.4L916.8 319.6L917.4 321.6L918.0 323.6L918.6 325.5L919.2 327.4L919.9 329.2L920.5 331.0L921.1 332.8L921.7 334.5L922.3 336.1L922.9 337.8L923.5 339.4L924.1 340.9L924.8 342.4L925.4 343.9L926.0 345.4L926.6 346.8L927.2 348.2L927.8 349.6L928.4 350.9L929.0 352.3L929.7 353.5L930.3 354.8L930.9 356.0L931.5 357.2L932.1 358.4L932.7 359.6L933.3 360.7L933.9 361.8L934.6 362.9L935.2 364.0L935.8 365.0L936.0 352.5L936.2 341.2L936.4 331.2L936.6 322.3L936.8 314.5L937.0 307.8L937.2 302.1L937.4 297.3L937.6 293.4L937.8 290.2L938.0 287.8L938.2 286.1L938.4 284.9L938.5 284.3L938.7 284.0L938.9 283.9L939.6 287.6L940.2 290.9L940.8 293.9L941.4 296.7L942.1 299.3L942.7 301.8L943.3 304.1L943.9 306.4L944.6 308.5L945.2 310.6L945.8 312.6L946.4 314.6L947.1 316.5L947.7 318.3L948.3 320.1L948.9 321.9L949.6 323.6L950.2 325.3L950.8 327.0L951.4 328.6L952.0 330.2L952.7 331.7L953.3 333.2L953.9 334.7L954.5 336.2L955.2 337.6L955.8 339.0L956.4 340.3L957.0 341.7L957.7 343.0L958.3 344.3L958.9 345.5L959.5 346.7L960.2 347.9L960.8 349.1L961.4 350.2L962.0 351.4L962.7 352.5L963.3 353.5L963.9 354.6L964.1 343.1L964.3 332.8L964.4 323.6L964.6 315.4L964.8 308.3L965.0 302.1L965.1 296.9L965.3 292.5L965.5 288.9L965.7 286.0L965.8 283.8L966.0 282.2L966.2 281.2L966.4 280.5L966.5 280.3L966.7 280.2L967.4 283.9L968.0 287.1L968.6 290.1L969.3 292.9L969.9 295.5L970.5 297.9L971.2 300.2L971.8 302.4L972.4 304.6L973.0 306.6L973.7 308.6L974.3 310.6L974.9 312.4L975.6 314.3L976.2 316.1L976.8 317.8L977.5 319.5L978.1 321.2L978.7 322.9L979.4 324.5L980.0 326.0L980.6 327.6L981.3 329.1L981.9 330.5L982.5 332.0L983.2 333.4L983.8 334.7L984.4 336.1L985.1 337.4L985.7 338.7L986.3 340.0L987.0 341.2L987.6 342.4L988.2 343.6L988.9 344.8L989.5 345.9L990.1 347.0L990.8 348.1L991.4 349.2L992.0 350.2L992.2 339.2L992.4 329.4L992.6 320.6L992.7 312.9L992.9 306.1L993.1 300.2L993.3 295.2L993.4 291.0L993.6 287.6L993.8 284.8L994.0 282.7L994.1 281.2L994.3 280.2L994.5 279.6L994.7 279.4L994.8 279.3L995.5 283.0L996.1 286.3L996.7 289.4L997.4 292.2L998.0 294.8L998.6 297.2L999.3 299.6L999.9 301.8L1000.5 304.0L1001.2 306.1L1001.8 308.1L1002.4 310.0L1003.1 312.0L1003.7 313.8L1004.3 315.6L1005.0 317.4L1005.6 319.1L1006.2 320.8L1006.9 322.5L1007.5 324.1L1008.1 325.7L1008.8 327.3L1009.4 328.8L1010.0 330.3L1010.7 331.7L1011.3 333.1L1011.9 334.5L1012.6 335.9L1013.2 337.2L1013.8 338.5L1014.5 339.8L1015.1 341.1L1015.7 342.3L1016.4 343.5L1017.0 344.7L1017.6 345.8L1018.3 347.0L1018.9 348.1L1019.5 349.1L1020.2 350.2L1020.3 339.2L1020.5 329.4L1020.7 320.6L1020.9 312.9L1021.0 306.1L1021.2 300.2L1021.4 295.2L1021.6 291.0L1021.7 287.6L1021.9 284.8L1022.1 282.7L1022.3 281.2L1022.4 280.2L1022.6 279.6L1022.8 279.4L1023.0 279.3L1023.6 283.0L1024.2 286.3L1024.9 289.4L1025.5 292.2L1026.1 294.8L1026.8 297.2L1027.4 299.6L1028.0 301.8L1028.7 304.0L1029.3 306.1L1029.9 308.1L1030.6 310.0L1031.2 312.0L1031.8 313.8L1032.5 315.6L1033.1 317.4L1033.7 319.1L1034.4 320.8L1035.0 322.5L1035.6 324.1L1036.3 325.7L1036.9 327.3L1037.5 328.8L1038.2 330.3L1038.8 331.7L1039.4 333.1L1040.1 334.5L1040.7 335.9L1041.3 337.2L1042.0 338.5L1042.6 339.8L1043.2 341.1L1043.9 342.3L1044.5 343.5L1045.1 344.7L1045.8 345.8L1046.4 347.0L1047.0 348.1L1047.7 349.1L1048.3 350.2L1048.5 339.2L1048.6 329.4L1048.8 320.6L1049.0 312.9L1049.2 306.1L1049.3 300.2L1049.5 295.2L1049.7 291.0L1049.9 287.6L1050.0 284.8L1050.2 282.7L1050.4 281.2L1050.6 280.2L1050.8 279.6L1050.9 279.4L1051.1 279.3L1051.7 283.0L1052.4 286.3L1053.0 289.4L1053.6 292.2L1054.3 294.8L1054.9 297.2L1055.5 299.6L1056.2 301.8L1056.8 304.0L1057.4 306.1L1058.1 308.1L1058.7 310.0L1059.3 312.0L1060.0 313.8L1060.6 315.6L1061.2 317.4L1061.9 319.1L1062.5 320.8L1063.1 322.5L1063.8 324.1L1064.4 325.7L1065.0 327.3L1065.7 328.8L1066.3 330.3L1066.9 331.7L1067.6 333.1L1068.2 334.5L1068.8 335.9L1069.5 337.2L1070.1 338.5L1070.7 339.8L1071.4 341.1L1072.0 342.3L1072.6 343.5L1073.3 344.7L1073.9 345.8L1074.5 347.0L1075.2 348.1L1075.8 349.1L1076.4 350.2L1076.6 339.2L1076.8 329.4L1076.9 320.6L1077.1 312.9L1077.3 306.1L1077.5 300.2L1077.7 295.2L1077.8 291.0L1078.0 287.6L1078.2 284.8L1078.4 282.7L1078.5 281.2L1078.7 280.2L1078.9 279.6L1079.1 279.4L1079.2 279.3L1079.9 283.0L1080.5 286.3L1081.1 289.4L1081.8 292.2L1082.4 294.8L1083.0 297.2L1083.7 299.6L1084.3 301.8L1084.9 304.0L1085.6 306.1L1086.2 308.1L1086.8 310.0L1087.5 312.0L1088.1 313.8L1088.7 315.6L1089.4 317.4L1090.0 319.1L1090.6 320.8L1091.3 322.5L1091.9 324.1L1092.5 325.7L1093.2 327.3L1093.8 328.8L1094.4 330.3L1095.1 331.7L1095.7 333.1L1096.3 334.5L1097.0 335.9L1097.6 337.2L1098.2 338.5L1098.9 339.8L1099.5 341.1L1100.1 342.3L1100.8 343.5L1101.4 344.7L1102.0 345.8L1102.6 347.0L1103.3 348.1L1103.9 349.1L1104.5 350.2L1104.7 339.2L1104.9 329.4L1105.1 320.6L1105.3 312.9L1105.4 306.1L1105.6 300.2L1105.8 295.2L1106.0 291.0L1106.1 287.6L1106.3 284.8L1106.5 282.7L1106.7 281.2L1106.8 280.2L1107.0 279.6L1107.2 279.4L1107.4 279.3L1108.0 283.0L1108.6 286.3L1109.3 289.4L1109.9 292.2L1110.5 294.8L1111.2 297.2L1111.8 299.6L1112.4 301.8L1113.1 304.0L1113.7 306.1L1114.3 308.1L1115.0 310.0L1115.6 312.0L1116.2 313.8L1116.9 315.6L1117.5 317.4L1118.1 319.1L1118.8 320.8L1119.4 322.5L1120.0 324.1L1120.7 325.7L1121.3 327.3L1121.9 328.8L1122.5 330.3L1123.2 331.7L1123.8 333.1L1124.4 334.5L1125.1 335.9L1125.7 337.2L1126.3 338.5L1127.0 339.8L1127.6 341.1L1128.2 342.3L1128.9 343.5L1129.5 344.7L1130.1 345.8L1130.8 347.0L1131.4 348.1L1132.0 349.1L1132.7 350.2L1132.9 339.2L1133.0 329.4L1133.2 320.6L1133.4 312.9L1133.6 306.1L1133.7 300.2L1133.9 295.2L1134.1 291.0L1134.3 287.6L1134.4 284.8L1134.6 282.7L1134.8 281.2L1135.0 280.2L1135.1 279.6L1135.3 279.4L1135.5 279.3L1136.1 283.0L1136.8 286.3L1137.4 289.4L1138.0 292.2L1138.7 294.8L1139.3 297.2L1139.9 299.6L1140.6 301.8L1141.2 304.0L1141.8 306.1L1142.5 308.1L1143.1 310.0L1143.7 312.0L1144.3 313.8L1145.0 315.6L1145.6 317.4L1146.2 319.1L1146.9 320.8L1147.5 322.5L1148.1 324.1L1148.8 325.7L1149.4 327.3L1150.0 328.8L1150.7 330.3L1151.3 331.7L1151.9 333.1L1152.6 334.5L1153.2 335.9L1153.8 337.2L1154.5 338.5L1155.1 339.8L1155.7 341.1L1156.4 342.3L1157.0 343.5L1157.6 344.7L1158.3 345.8L1158.9 347.0L1159.5 348.1L1160.2 349.1L1160.8 350.2L1161.0 339.2L1161.2 329.4L1161.3 320.6L1161.5 312.9L1161.7 306.1L1161.9 300.2L1162.0 295.2L1162.2 291.0L1162.4 287.6L1162.6 284.8L1162.7 282.7L1162.9 281.2L1163.1 280.2L1163.3 279.6L1163.4 279.4L1163.6 279.3L1164.2 283.0L1164.9 286.3L1165.5 289.4L1166.1 292.2L1166.8 294.8L1167.4 297.2L1168.0 299.6L1168.7 301.8L1169.3 304.0L1169.9 306.1L1170.6 308.1L1171.2 310.0L1171.8 312.0L1172.5 313.8L1173.1 315.6L1173.7 317.4L1174.4 319.1L1175.0 320.8L1175.6 322.5L1176.3 324.1L1176.9 325.7L1177.5 327.3L1178.2 328.8L1178.8 330.3L1179.4 331.7L1180.1 333.1L1180.7 334.5L1181.3 335.9L1182.0 337.2L1182.6 338.5L1183.2 339.8L1183.9 341.1L1184.5 342.3L1185.1 343.5L1185.8 344.7L1186.4 345.8L1187.0 347.0L1187.7 348.1L1188.3 349.1L1188.9 350.2L1189.1 339.2L1189.3 329.4L1189.5 320.6L1189.6 312.9L1189.8 306.1L1190.0 300.2L1190.2 295.2L1190.3 291.0L1190.5 287.6L1190.7 284.8L1190.9 282.7L1191.0 281.2L1191.2 280.2L1191.4 279.6L1191.6 279.4L1191.7 279.3L1192.4 283.0L1193.0 286.3L1193.6 289.4L1194.3 292.2L1194.9 294.8L1195.5 297.2L1196.2 299.6L1196.8 301.8L1197.4 304.0L1198.1 306.1L1198.7 308.1L1199.3 310.0L1200.0 312.0L1200.6 313.8L1201.2 315.6L1201.9 317.4L1202.5 319.1L1203.1 320.8L1203.8 322.5L1204.4 324.1L1205.0 325.7L1205.7 327.3L1206.3 328.8L1206.9 330.3L1207.6 331.7L1208.2 333.1L1208.8 334.5L1209.5 335.9L1210.1 337.2L1210.7 338.5L1211.4 339.8L1212.0 341.1L1212.6 342.3L1213.3 343.5L1213.9 344.7L1214.5 345.8L1215.2 347.0L1215.8 348.1L1216.4 349.1L1217.1 350.2L1217.2 339.2L1217.4 329.4L1217.6 320.6L1217.8 312.9L1217.9 306.1L1218.1 300.2L1218.3 295.2L1218.5 291.0L1218.6 287.6L1218.8 284.8L1219.0 282.7L1219.2 281.2L1219.3 280.2L1219.5 279.6L1219.7 279.4L1219.9 279.3L1220.5 283.0L1221.1 286.3L1221.8 289.4L1222.4 292.2L1223.0 294.8L1223.7 297.2L1224.3 299.6L1224.9 301.8L1225.6 304.0L1226.2 306.1L1226.8 308.1L1227.5 310.0L1228.1 312.0L1228.7 313.8L1229.4 315.6L1230.0 317.4L1230.6 319.1L1231.3 320.8L1231.9 322.5L1232.5 324.1L1233.2 325.7L1233.8 327.3L1234.4 328.8L1235.1 330.3L1235.7 331.7L1236.3 333.1L1237.0 334.5L1237.6 335.9L1238.2 337.2L1238.9 338.5L1239.5 339.8L1240.1 341.1L1240.8 342.3L1241.4 343.5L1242.0 344.7L1242.7 345.8L1243.3 347.0L1243.9 348.1L1244.6 349.1L1245.2 350.2L1245.4 339.2L1245.5 329.4L1245.7 320.6L1245.9 312.9L1246.1 306.1L1246.2 300.2L1246.4 295.2L1246.6 291.0L1246.8 287.6L1246.9 284.8L1247.1 282.7L1247.3 281.2L1247.5 280.2L1247.6 279.6L1247.8 279.4L1248.0 279.3L1248.6 283.0L1249.3 286.3L1249.9 289.4L1250.5 292.2L1251.2 294.8L1251.8 297.2L1252.4 299.6L1253.1 301.8L1253.7 304.0L1254.3 306.1L1255.0 308.1L1255.6 310.0L1256.2 312.0L1256.9 313.8L1257.5 315.6L1258.1 317.4L1258.8 319.1L1259.4 320.8L1260.0 322.5L1260.7 324.1L1261.3 325.7L1261.9 327.3L1262.6 328.8L1263.2 330.3L1263.8 331.7L1264.5 333.1L1265.1 334.5L1265.7 335.9L1266.4 337.2L1267.0 338.5L1267.6 339.8L1268.3 341.1L1268.9 342.3L1269.5 343.5L1270.2 344.7L1270.8 345.8L1271.4 347.0L1272.0 348.1L1272.7 349.1L1273.3 350.2L1273.5 339.2L1273.7 329.4L1273.8 320.6L1274.0 312.9L1274.2 306.1L1274.4 300.2L1274.5 295.2L1274.7 291.0L1274.9 287.6L1275.1 284.8L1275.2 282.7L1275.4 281.2L1275.6 280.2L1275.8 279.6L1276.0 279.4L1276.1 279.3L1276.7 283.0L1277.3 286.3L1277.9 289.3L1278.5 292.1L1279.1 294.7L1279.7 297.2L1280.3 299.5L1280.9 301.8L1281.5 303.9L1282.1 306.0L1282.7 308.0L1283.3 310.0L1283.9 311.9L1284.5 313.7L1285.1 315.5L1285.6 317.3L1286.2 319.0L1286.8 320.7L1287.4 322.4L1288.0 324.0L1288.6 325.6L1289.2 327.1L1289.8 328.6L1290.4 330.1L1291.0 331.6L1291.6 333.0L1292.2 334.4L1292.8 335.7L1293.4 337.1L1294.0 338.4L1294.6 339.7L1295.2 340.9L1295.8 342.1L1296.4 343.3L1296.9 344.5L1297.5 345.6L1298.1 346.8L1298.7 347.9L1299.3 348.9L1299.9 350.0"/>
<path stroke="#8cff37" stroke-width="4.8" d="M879.5 429.0L879.6 366.1L879.7 315.5L879.9 275.2L880.0 243.4L880.1 218.7L880.2 199.7L880.4 185.2L880.5 174.5L880.6 166.6L880.7 161.0L880.9 157.0L881.0 154.4L881.1 152.6L881.2 151.5L881.3 150.8L881.5 150.4L881.6 150.2L881.7 150.1L881.8 150.0L882.0 150.0L882.1 150.0L882.2 150.0L882.3 150.0L882.5 150.0L883.1 151.9L883.7 153.4L884.3 154.6L885.0 155.7L885.6 156.5L886.2 157.3L886.9 158.0L887.5 158.6L888.1 159.1L888.8 159.6L889.4 160.1L890.0 160.6L890.6 161.1L891.3 161.5L891.9 162.0L892.5 162.4L893.2 162.9L893.8 163.3L894.4 163.7L895.1 164.2L895.7 164.6L896.3 165.0L896.9 165.5L897.6 165.9L898.2 166.3L898.8 166.7L899.5 167.2L900.1 167.6L900.7 168.0L901.4 168.4L902.0 168.9L902.6 169.3L903.2 169.7L903.9 170.1L904.5 170.6L905.1 171.0L905.8 171.4L906.4 171.8L907.0 172.3L907.7 172.7L907.8 168.4L907.9 164.5L908.1 161.1L908.2 158.0L908.3 155.3L908.5 153.0L908.6 151.1L908.8 149.4L908.9 148.1L909.0 147.0L909.2 146.2L909.3 145.6L909.5 145.2L909.6 144.9L909.7 144.8L909.9 144.8L910.5 145.9L911.2 146.9L911.8 147.7L912.5 148.3L913.1 148.9L913.8 149.4L914.4 149.8L915.1 150.3L915.7 150.7L916.4 151.0L917.0 151.4L917.6 151.8L918.3 152.1L918.9 152.4L919.6 152.8L920.2 153.1L920.9 153.4L921.5 153.7L922.2 154.1L922.8 154.4L923.5 154.7L924.1 155.0L924.8 155.4L925.4 155.7L926.1 156.0L926.7 156.3L927.4 156.6L928.0 157.0L928.7 157.3L929.3 157.6L930.0 157.9L930.6 158.2L931.2 158.6L931.9 158.9L932.5 159.2L933.2 159.5L933.8 159.8L934.5 160.2L935.1 160.5L935.8 160.8L935.9 158.2L936.1 155.8L936.2 153.7L936.3 151.9L936.5 150.3L936.6 148.9L936.8 147.7L936.9 146.7L937.0 145.9L937.2 145.2L937.3 144.7L937.4 144.4L937.6 144.1L937.7 144.0L937.9 143.9L938.0 143.9L938.7 144.9L939.3 145.7L939.9 146.3L940.6 146.9L941.2 147.3L941.9 147.8L942.5 148.2L943.2 148.5L943.8 148.8L944.5 149.2L945.1 149.5L945.8 149.8L946.4 150.1L947.1 150.3L947.7 150.6L948.4 150.9L949.0 151.2L949.7 151.4L950.3 151.7L951.0 152.0L951.6 152.3L952.3 152.5L952.9 152.8L953.5 153.1L954.2 153.3L954.8 153.6L955.5 153.9L956.1 154.2L956.8 154.4L957.4 154.7L958.1 155.0L958.7 155.2L959.4 155.5L960.0 155.8L960.7 156.0L961.3 156.3L962.0 156.6L962.6 156.9L963.3 157.1L963.9 157.4L964.0 155.3L964.2 153.3L964.3 151.6L964.5 150.1L964.6 148.7L964.7 147.6L964.9 146.6L965.0 145.8L965.2 145.1L965.3 144.6L965.4 144.2L965.6 143.9L965.7 143.7L965.9 143.6L966.0 143.5L966.1 143.5L966.8 144.4L967.4 145.1L968.1 145.8L968.7 146.3L969.4 146.7L970.0 147.1L970.7 147.5L971.3 147.8L972.0 148.1L972.6 148.4L973.3 148.7L973.9 149.0L974.6 149.2L975.2 149.5L975.8 149.8L976.5 150.0L977.1 150.3L977.8 150.5L978.4 150.8L979.1 151.1L979.7 151.3L980.4 151.6L981.0 151.8L981.7 152.1L982.3 152.3L983.0 152.6L983.6 152.8L984.3 153.1L984.9 153.3L985.6 153.6L986.2 153.8L986.9 154.1L987.5 154.3L988.2 154.6L988.8 154.8L989.4 155.1L990.1 155.3L990.7 155.6L991.4 155.8L992.0 156.1L992.2 154.2L992.3 152.4L992.5 150.8L992.6 149.5L992.7 148.3L992.9 147.2L993.0 146.3L993.1 145.6L993.3 145.0L993.4 144.5L993.6 144.1L993.7 143.8L993.8 143.7L994.0 143.6L994.1 143.5L994.3 143.5L994.9 144.4L995.6 145.1L996.2 145.8L996.9 146.3L997.5 146.7L998.1 147.1L998.8 147.5L999.4 147.8L1000.1 148.1L1000.7 148.4L1001.4 148.7L1002.0 149.0L1002.7 149.2L1003.3 149.5L1004.0 149.8L1004.6 150.0L1005.3 150.3L1005.9 150.5L1006.6 150.8L1007.2 151.1L1007.9 151.3L1008.5 151.6L1009.2 151.8L1009.8 152.1L1010.5 152.3L1011.1 152.6L1011.7 152.8L1012.4 153.1L1013.0 153.3L1013.7 153.6L1014.3 153.8L1015.0 154.1L1015.6 154.3L1016.3 154.6L1016.9 154.8L1017.6 155.1L1018.2 155.3L1018.9 155.6L1019.5 155.8L1020.2 156.1L1020.3 154.2L1020.4 152.4L1020.6 150.8L1020.7 149.5L1020.9 148.3L1021.0 147.2L1021.1 146.3L1021.3 145.6L1021.4 145.0L1021.6 144.5L1021.7 144.1L1021.8 143.8L1022.0 143.7L1022.1 143.6L1022.3 143.5L1022.4 143.5L1023.0 144.4L1023.7 145.1L1024.3 145.8L1025.0 146.3L1025.6 146.7L1026.3 147.1L1026.9 147.5L1027.6 147.8L1028.2 148.1L1028.9 148.4L1029.5 148.7L1030.2 149.0L1030.8 149.2L1031.5 149.5L1032.1 149.8L1032.8 150.0L1033.4 150.3L1034.0 150.5L1034.7 150.8L1035.3 151.1L1036.0 151.3L1036.6 151.6L1037.3 151.8L1037.9 152.1L1038.6 152.3L1039.2 152.6L1039.9 152.8L1040.5 153.1L1041.2 153.3L1041.8 153.6L1042.5 153.8L1043.1 154.1L1043.8 154.3L1044.4 154.6L1045.1 154.8L1045.7 155.1L1046.3 155.3L1047.0 155.6L1047.6 155.8L1048.3 156.1L1048.4 154.2L1048.6 152.4L1048.7 150.8L1048.8 149.5L1049.0 148.3L1049.1 147.2L1049.3 146.3L1049.4 145.6L1049.5 145.0L1049.7 144.5L1049.8 144.1L1050.0 143.8L1050.1 143.7L1050.2 143.6L1050.4 143.5L1050.5 143.5L1051.2 144.4L1051.8 145.1L1052.5 145.8L1053.1 146.3L1053.8 146.7L1054.4 147.1L1055.1 147.5L1055.7 147.8L1056.3 148.1L1057.0 148.4L1057.6 148.7L1058.3 149.0L1058.9 149.2L1059.6 149.5L1060.2 149.8L1060.9 150.0L1061.5 150.3L1062.2 150.5L1062.8 150.8L1063.5 151.1L1064.1 151.3L1064.8 151.6L1065.4 151.8L1066.1 152.1L1066.7 152.3L1067.4 152.6L1068.0 152.8L1068.6 153.1L1069.3 153.3L1069.9 153.6L1070.6 153.8L1071.2 154.1L1071.9 154.3L1072.5 154.6L1073.2 154.8L1073.8 155.1L1074.5 155.3L1075.1 155.6L1075.8 155.8L1076.4 156.1L1076.6 154.2L1076.7 152.4L1076.8 150.8L1077.0 149.5L1077.1 148.3L1077.3 147.2L1077.4 146.3L1077.5 145.6L1077.7 145.0L1077.8 144.5L1078.0 144.1L1078.1 143.8L1078.2 143.7L1078.4 143.6L1078.5 143.5L1078.6 143.5L1079.3 144.4L1079.9 145.1L1080.6 145.8L1081.2 146.3L1081.9 146.7L1082.5 147.1L1083.2 147.5L1083.8 147.8L1084.5 148.1L1085.1 148.4L1085.8 148.7L1086.4 149.0L1087.1 149.2L1087.7 149.5L1088.4 149.8L1089.0 150.0L1089.7 150.3L1090.3 150.5L1090.9 150.8L1091.6 151.1L1092.2 151.3L1092.9 151.6L1093.5 151.8L1094.2 152.1L1094.8 152.3L1095.5 152.6L1096.1 152.8L1096.8 153.1L1097.4 153.3L1098.1 153.6L1098.7 153.8L1099.4 154.1L1100.0 154.3L1100.7 154.6L1101.3 154.8L1102.0 155.1L1102.6 155.3L1103.3 155.6L1103.9 155.8L1104.5 156.1L1104.7 154.2L1104.8 152.4L1105.0 150.8L1105.1 149.5L1105.2 148.3L1105.4 147.2L1105.5 146.3L1105.7 145.6L1105.8 145.0L1105.9 144.5L1106.1 144.1L1106.2 143.8L1106.4 143.7L1106.5 143.6L1106.6 143.5L1106.8 143.5L1107.4 144.4L1108.1 145.1L1108.7 145.8L1109.4 146.3L1110.0 146.7L1110.7 147.1L1111.3 147.5L1112.0 147.8L1112.6 148.1L1113.2 148.4L1113.9 148.7L1114.5 149.0L1115.2 149.2L1115.8 149.5L1116.5 149.8L1117.1 150.0L1117.8 150.3L1118.4 150.5L1119.1 150.8L1119.7 151.1L1120.4 151.3L1121.0 151.6L1121.7 151.8L1122.3 152.1L1123.0 152.3L1123.6 152.6L1124.3 152.8L1124.9 153.1L1125.6 153.3L1126.2 153.6L1126.8 153.8L1127.5 154.1L1128.1 154.3L1128.8 154.6L1129.4 154.8L1130.1 155.1L1130.7 155.3L1131.4 155.6L1132.0 155.8L1132.7 156.1L1132.8 154.2L1133.0 152.4L1133.1 150.8L1133.2 149.5L1133.4 148.3L1133.5 147.2L1133.6 146.3L1133.8 145.6L1133.9 145.0L1134.1 144.5L1134.2 144.1L1134.3 143.8L1134.5 143.7L1134.6 143.6L1134.8 143.5L1134.9 143.5L1135.5 144.4L1136.2 145.1L1136.8 145.8L1137.5 146.3L1138.1 146.7L1138.8 147.1L1139.4 147.5L1140.1 147.8L1140.7 148.1L1141.4 148.4L1142.0 148.7L1142.7 149.0L1143.3 149.2L1144.0 149.5L1144.6 149.8L1145.3 150.0L1145.9 150.3L1146.6 150.5L1147.2 150.8L1147.9 151.1L1148.5 151.3L1149.1 151.6L1149.8 151.8L1150.4 152.1L1151.1 152.3L1151.7 152.6L1152.4 152.8L1153.0 153.1L1153.7 153.3L1154.3 153.6L1155.0 153.8L1155.6 154.1L1156.3 154.3L1156.9 154.6L1157.6 154.8L1158.2 155.1L1158.9 155.3L1159.5 155.6L1160.2 155.8L1160.8 156.1L1160.9 154.2L1161.1 152.4L1161.2 150.8L1161.4 149.5L1161.5 148.3L1161.6 147.2L1161.8 146.3L1161.9 145.6L1162.1 145.0L1162.2 144.5L1162.3 144.1L1162.5 143.8L1162.6 143.7L1162.8 143.6L1162.9 143.5L1163.0 143.5L1163.7 144.4L1164.3 145.1L1165.0 145.8L1165.6 146.3L1166.3 146.7L1166.9 147.1L1167.6 147.5L1168.2 147.8L1168.9 148.1L1169.5 148.4L1170.2 148.7L1170.8 149.0L1171.4 149.2L1172.1 149.5L1172.7 149.8L1173.4 150.0L1174.0 150.3L1174.7 150.5L1175.3 150.8L1176.0 151.1L1176.6 151.3L1177.3 151.6L1177.9 151.8L1178.6 152.1L1179.2 152.3L1179.9 152.6L1180.5 152.8L1181.2 153.1L1181.8 153.3L1182.5 153.6L1183.1 153.8L1183.8 154.1L1184.4 154.3L1185.0 154.6L1185.7 154.8L1186.3 155.1L1187.0 155.3L1187.6 155.6L1188.3 155.8L1188.9 156.1L1189.1 154.2L1189.2 152.4L1189.3 150.8L1189.5 149.5L1189.6 148.3L1189.8 147.2L1189.9 146.3L1190.0 145.6L1190.2 145.0L1190.3 144.5L1190.5 144.1L1190.6 143.8L1190.7 143.7L1190.9 143.6L1191.0 143.5L1191.2 143.5L1191.8 144.4L1192.5 145.1L1193.1 145.8L1193.7 146.3L1194.4 146.7L1195.0 147.1L1195.7 147.5L1196.3 147.8L1197.0 148.1L1197.6 148.4L1198.3 148.7L1198.9 149.0L1199.6 149.2L1200.2 149.5L1200.9 149.8L1201.5 150.0L1202.2 150.3L1202.8 150.5L1203.5 150.8L1204.1 151.1L1204.8 151.3L1205.4 151.6L1206.1 151.8L1206.7 152.1L1207.3 152.3L1208.0 152.6L1208.6 152.8L1209.3 153.1L1209.9 153.3L1210.6 153.6L1211.2 153.8L1211.9 154.1L1212.5 154.3L1213.2 154.6L1213.8 154.8L1214.5 155.1L1215.1 155.3L1215.8 155.6L1216.4 155.8L1217.1 156.1L1217.2 154.2L1217.3 152.4L1217.5 150.8L1217.6 149.5L1217.8 148.3L1217.9 147.2L1218.0 146.3L1218.2 145.6L1218.3 145.0L1218.5 144.5L1218.6 144.1L1218.7 143.8L1218.9 143.7L1219.0 143.6L1219.1 143.5L1219.3 143.5L1219.9 144.4L1220.6 145.1L1221.2 145.8L1221.9 146.3L1222.5 146.7L1223.2 147.1L1223.8 147.5L1224.5 147.8L1225.1 148.1L1225.8 148.4L1226.4 148.7L1227.1 149.0L1227.7 149.2L1228.4 149.5L1229.0 149.8L1229.6 150.0L1230.3 150.3L1230.9 150.5L1231.6 150.8L1232.2 151.1L1232.9 151.3L1233.5 151.6L1234.2 151.8L1234.8 152.1L1235.5 152.3L1236.1 152.6L1236.8 152.8L1237.4 153.1L1238.1 153.3L1238.7 153.6L1239.4 153.8L1240.0 154.1L1240.7 154.3L1241.3 154.6L1241.9 154.8L1242.6 155.1L1243.2 155.3L1243.9 155.6L1244.5 155.8L1245.2 156.1L1245.3 154.2L1245.5 152.4L1245.6 150.8L1245.7 149.5L1245.9 148.3L1246.0 147.2L1246.2 146.3L1246.3 145.6L1246.4 145.0L1246.6 144.5L1246.7 144.1L1246.9 143.8L1247.0 143.7L1247.1 143.6L1247.3 143.5L1247.4 143.5L1248.1 144.4L1248.7 145.1L1249.4 145.8L1250.0 146.3L1250.7 146.7L1251.3 147.1L1251.9 147.5L1252.6 147.8L1253.2 148.1L1253.9 148.4L1254.5 148.7L1255.2 149.0L1255.8 149.2L1256.5 149.5L1257.1 149.8L1257.8 150.0L1258.4 150.3L1259.1 150.5L1259.7 150.8L1260.4 151.1L1261.0 151.3L1261.7 151.6L1262.3 151.8L1263.0 152.1L1263.6 152.3L1264.3 152.6L1264.9 152.8L1265.5 153.1L1266.2 153.3L1266.8 153.6L1267.5 153.8L1268.1 154.1L1268.8 154.3L1269.4 154.6L1270.1 154.8L1270.7 155.1L1271.4 155.3L1272.0 155.6L1272.7 155.8L1273.3 156.1L1273.5 154.2L1273.6 152.4L1273.7 150.8L1273.9 149.5L1274.0 148.3L1274.2 147.2L1274.3 146.3L1274.4 145.6L1274.6 145.0L1274.7 144.5L1274.8 144.1L1275.0 143.8L1275.1 143.7L1275.3 143.6L1275.4 143.5L1275.5 143.5L1276.2 144.4L1276.8 145.1L1277.4 145.8L1278.0 146.3L1278.6 146.7L1279.2 147.1L1279.8 147.5L1280.4 147.8L1281.0 148.1L1281.6 148.4L1282.2 148.7L1282.9 149.0L1283.5 149.2L1284.1 149.5L1284.7 149.8L1285.3 150.0L1285.9 150.3L1286.5 150.5L1287.1 150.8L1287.7 151.1L1288.3 151.3L1289.0 151.6L1289.6 151.8L1290.2 152.1L1290.8 152.3L1291.4 152.6L1292.0 152.8L1292.6 153.1L1293.2 153.3L1293.8 153.6L1294.4 153.8L1295.0 154.1L1295.7 154.3L1296.3 154.6L1296.9 154.8L1297.5 155.1L1298.1 155.3L1298.7 155.6L1299.3 155.8L1299.9 156.1"/>
<path stroke="#0000ff" stroke-width="4.8" d="M880.3 429.0L880.4 369.5L880.5 321.7L880.6 283.6L880.7 253.5L880.7 230.1L880.8 212.2L880.9 198.5L881.0 188.4L881.1 180.9L881.2 175.6L881.3 171.9L881.4 169.3L881.5 167.6L881.6 166.6L881.6 165.9L881.7 165.6L881.8 165.4L881.9 165.3L882.0 165.2L882.1 165.2L882.2 165.2L882.3 165.2L882.4 165.2L882.5 165.2L883.1 169.4L883.7 172.7L884.3 175.4L885.0 177.6L885.6 179.4L886.2 180.9L886.9 182.3L887.5 183.4L888.1 184.5L888.8 185.5L889.4 186.5L890.0 187.4L890.6 188.2L891.3 189.1L891.9 189.9L892.5 190.7L893.2 191.5L893.8 192.3L894.4 193.1L895.1 193.9L895.7 194.7L896.3 195.5L896.9 196.2L897.6 197.0L898.2 197.8L898.8 198.6L899.5 199.3L900.1 200.1L900.7 200.9L901.4 201.7L902.0 202.4L902.6 203.2L903.2 204.0L903.9 204.8L904.5 205.5L905.1 206.3L905.8 207.1L906.4 207.9L907.0 208.6L907.7 209.4L907.8 201.5L908.0 194.3L908.1 188.0L908.3 182.3L908.4 177.4L908.6 173.1L908.7 169.5L908.9 166.5L909.0 164.0L909.2 162.0L909.3 160.5L909.5 159.4L909.7 158.7L909.8 158.2L910.0 158.0L910.1 158.0L910.8 160.2L911.4 161.9L912.0 163.4L912.7 164.6L913.3 165.7L914.0 166.6L914.6 167.5L915.2 168.3L915.9 169.0L916.5 169.7L917.2 170.4L917.8 171.1L918.5 171.7L919.1 172.4L919.7 173.0L920.4 173.6L921.0 174.2L921.7 174.8L922.3 175.4L922.9 176.0L923.6 176.7L924.2 177.3L924.9 177.9L925.5 178.5L926.2 179.1L926.8 179.7L927.4 180.3L928.1 180.9L928.7 181.5L929.4 182.1L930.0 182.7L930.6 183.3L931.3 183.9L931.9 184.5L932.6 185.1L933.2 185.7L933.9 186.3L934.5 186.9L935.1 187.5L935.8 188.1L935.9 183.1L936.1 178.7L936.3 174.7L936.4 171.1L936.6 168.1L936.7 165.4L936.9 163.1L937.1 161.2L937.2 159.7L937.4 158.4L937.6 157.5L937.7 156.8L937.9 156.3L938.0 156.0L938.2 155.9L938.4 155.9L939.0 157.8L939.6 159.3L940.3 160.6L940.9 161.7L941.6 162.6L942.2 163.4L942.8 164.2L943.5 164.9L944.1 165.5L944.7 166.1L945.4 166.7L946.0 167.3L946.7 167.8L947.3 168.4L947.9 168.9L948.6 169.5L949.2 170.0L949.9 170.5L950.5 171.1L951.1 171.6L951.8 172.1L952.4 172.7L953.0 173.2L953.7 173.7L954.3 174.2L955.0 174.8L955.6 175.3L956.2 175.8L956.9 176.3L957.5 176.9L958.2 177.4L958.8 177.9L959.4 178.4L960.1 179.0L960.7 179.5L961.4 180.0L962.0 180.5L962.6 181.1L963.3 181.6L963.9 182.1L964.1 177.9L964.2 174.2L964.4 170.8L964.6 167.8L964.7 165.2L964.9 163.0L965.0 161.1L965.2 159.5L965.4 158.2L965.5 157.1L965.7 156.3L965.8 155.7L966.0 155.3L966.2 155.1L966.3 155.0L966.5 155.0L967.1 156.8L967.8 158.3L968.4 159.5L969.0 160.6L969.7 161.5L970.3 162.3L971.0 163.0L971.6 163.7L972.2 164.3L972.9 164.9L973.5 165.5L974.2 166.0L974.8 166.6L975.4 167.1L976.1 167.6L976.7 168.2L977.3 168.7L978.0 169.2L978.6 169.7L979.3 170.2L979.9 170.7L980.5 171.2L981.2 171.8L981.8 172.3L982.5 172.8L983.1 173.3L983.7 173.8L984.4 174.3L985.0 174.8L985.6 175.3L986.3 175.8L986.9 176.3L987.6 176.8L988.2 177.4L988.8 177.9L989.5 178.4L990.1 178.9L990.8 179.4L991.4 179.9L992.0 180.4L992.2 176.5L992.4 172.9L992.5 169.8L992.7 167.0L992.8 164.6L993.0 162.5L993.2 160.7L993.3 159.2L993.5 158.0L993.6 157.0L993.8 156.2L994.0 155.7L994.1 155.3L994.3 155.1L994.5 155.0L994.6 155.0L995.3 156.8L995.9 158.3L996.5 159.5L997.2 160.6L997.8 161.5L998.4 162.3L999.1 163.0L999.7 163.7L1000.4 164.3L1001.0 164.9L1001.6 165.5L1002.3 166.0L1002.9 166.6L1003.6 167.1L1004.2 167.6L1004.8 168.2L1005.5 168.7L1006.1 169.2L1006.8 169.7L1007.4 170.2L1008.0 170.7L1008.7 171.2L1009.3 171.8L1009.9 172.3L1010.6 172.8L1011.2 173.3L1011.9 173.8L1012.5 174.3L1013.1 174.8L1013.8 175.3L1014.4 175.8L1015.1 176.3L1015.7 176.8L1016.3 177.4L1017.0 177.9L1017.6 178.4L1018.2 178.9L1018.9 179.4L1019.5 179.9L1020.2 180.4L1020.3 176.5L1020.5 172.9L1020.6 169.8L1020.8 167.0L1021.0 164.6L1021.1 162.5L1021.3 160.7L1021.5 159.2L1021.6 158.0L1021.8 157.0L1021.9 156.2L1022.1 155.7L1022.3 155.3L1022.4 155.1L1022.6 155.0L1022.7 155.0L1023.4 156.8L1024.0 158.3L1024.7 159.5L1025.3 160.6L1025.9 161.5L1026.6 162.3L1027.2 163.0L1027.9 163.7L1028.5 164.3L1029.1 164.9L1029.8 165.5L1030.4 166.0L1031.0 166.6L1031.7 167.1L1032.3 167.6L1033.0 168.2L1033.6 168.7L1034.2 169.2L1034.9 169.7L1035.5 170.2L1036.2 170.7L1036.8 171.2L1037.4 171.8L1038.1 172.3L1038.7 172.8L1039.3 173.3L1040.0 173.8L1040.6 174.3L1041.3 174.8L1041.9 175.3L1042.5 175.8L1043.2 176.3L1043.8 176.8L1044.5 177.4L1045.1 177.9L1045.7 178.4L1046.4 178.9L1047.0 179.4L1047.7 179.9L1048.3 180.4L1048.5 176.5L1048.6 172.9L1048.8 169.8L1048.9 167.0L1049.1 164.6L1049.3 162.5L1049.4 160.7L1049.6 159.2L1049.7 158.0L1049.9 157.0L1050.1 156.2L1050.2 155.7L1050.4 155.3L1050.5 155.1L1050.7 155.0L1050.9 155.0L1051.5 156.8L1052.1 158.3L1052.8 159.5L1053.4 160.6L1054.1 161.5L1054.7 162.3L1055.3 163.0L1056.0 163.7L1056.6 164.3L1057.3 164.9L1057.9 165.5L1058.5 166.0L1059.2 166.6L1059.8 167.1L1060.5 167.6L1061.1 168.2L1061.7 168.7L1062.4 169.2L1063.0 169.7L1063.6 170.2L1064.3 170.7L1064.9 171.2L1065.6 171.8L1066.2 172.3L1066.8 172.8L1067.5 173.3L1068.1 173.8L1068.8 174.3L1069.4 174.8L1070.0 175.3L1070.7 175.8L1071.3 176.3L1071.9 176.8L1072.6 177.4L1073.2 177.9L1073.9 178.4L1074.5 178.9L1075.1 179.4L1075.8 179.9L1076.4 180.4L1076.6 176.5L1076.7 172.9L1076.9 169.8L1077.1 167.0L1077.2 164.6L1077.4 162.5L1077.5 160.7L1077.7 159.2L1077.9 158.0L1078.0 157.0L1078.2 156.2L1078.4 155.7L1078.5 155.3L1078.7 155.1L1078.8 155.0L1079.0 155.0L1079.6 156.8L1080.3 158.3L1080.9 159.5L1081.6 160.6L1082.2 161.5L1082.8 162.3L1083.5 163.0L1084.1 163.7L1084.7 164.3L1085.4 164.9L1086.0 165.5L1086.7 166.0L1087.3 166.6L1087.9 167.1L1088.6 167.6L1089.2 168.2L1089.9 168.7L1090.5 169.2L1091.1 169.7L1091.8 170.2L1092.4 170.7L1093.1 171.2L1093.7 171.8L1094.3 172.3L1095.0 172.8L1095.6 173.3L1096.2 173.8L1096.9 174.3L1097.5 174.8L1098.2 175.3L1098.8 175.8L1099.4 176.3L1100.1 176.8L1100.7 177.4L1101.4 177.9L1102.0 178.4L1102.6 178.9L1103.3 179.4L1103.9 179.9L1104.5 180.4L1104.7 176.5L1104.9 172.9L1105.0 169.8L1105.2 167.0L1105.4 164.6L1105.5 162.5L1105.7 160.7L1105.8 159.2L1106.0 158.0L1106.2 157.0L1106.3 156.2L1106.5 155.7L1106.6 155.3L1106.8 155.1L1107.0 155.0L1107.1 155.0L1107.8 156.8L1108.4 158.3L1109.0 159.5L1109.7 160.6L1110.3 161.5L1111.0 162.3L1111.6 163.0L1112.2 163.7L1112.9 164.3L1113.5 164.9L1114.2 165.5L1114.8 166.0L1115.4 166.6L1116.1 167.1L1116.7 167.6L1117.3 168.2L1118.0 168.7L1118.6 169.2L1119.3 169.7L1119.9 170.2L1120.5 170.7L1121.2 171.2L1121.8 171.8L1122.5 172.3L1123.1 172.8L1123.7 173.3L1124.4 173.8L1125.0 174.3L1125.6 174.8L1126.3 175.3L1126.9 175.8L1127.6 176.3L1128.2 176.8L1128.8 177.4L1129.5 177.9L1130.1 178.4L1130.8 178.9L1131.4 179.4L1132.0 179.9L1132.7 180.4L1132.8 176.5L1133.0 172.9L1133.2 169.8L1133.3 167.0L1133.5 164.6L1133.6 162.5L1133.8 160.7L1134.0 159.2L1134.1 158.0L1134.3 157.0L1134.4 156.2L1134.6 155.7L1134.8 155.3L1134.9 155.1L1135.1 155.0L1135.3 155.0L1135.9 156.8L1136.5 158.3L1137.2 159.5L1137.8 160.6L1138.4 161.5L1139.1 162.3L1139.7 163.0L1140.4 163.7L1141.0 164.3L1141.6 164.9L1142.3 165.5L1142.9 166.0L1143.6 166.6L1144.2 167.1L1144.8 167.6L1145.5 168.2L1146.1 168.7L1146.8 169.2L1147.4 169.7L1148.0 170.2L1148.7 170.7L1149.3 171.2L1149.9 171.8L1150.6 172.3L1151.2 172.8L1151.9 173.3L1152.5 173.8L1153.1 174.3L1153.8 174.8L1154.4 175.3L1155.1 175.8L1155.7 176.3L1156.3 176.8L1157.0 177.4L1157.6 177.9L1158.2 178.4L1158.9 178.9L1159.5 179.4L1160.2 179.9L1160.8 180.4L1161.0 176.5L1161.1 172.9L1161.3 169.8L1161.4 167.0L1161.6 164.6L1161.8 162.5L1161.9 160.7L1162.1 159.2L1162.3 158.0L1162.4 157.0L1162.6 156.2L1162.7 155.7L1162.9 155.3L1163.1 155.1L1163.2 155.0L1163.4 155.0L1164.0 156.8L1164.7 158.3L1165.3 159.5L1165.9 160.6L1166.6 161.5L1167.2 162.3L1167.9 163.0L1168.5 163.7L1169.1 164.3L1169.8 164.9L1170.4 165.5L1171.0 166.0L1171.7 166.6L1172.3 167.1L1173.0 167.6L1173.6 168.2L1174.2 168.7L1174.9 169.2L1175.5 169.7L1176.2 170.2L1176.8 170.7L1177.4 171.2L1178.1 171.8L1178.7 172.3L1179.4 172.8L1180.0 173.3L1180.6 173.8L1181.3 174.3L1181.9 174.8L1182.5 175.3L1183.2 175.8L1183.8 176.3L1184.5 176.8L1185.1 177.4L1185.7 177.9L1186.4 178.4L1187.0 178.9L1187.7 179.4L1188.3 179.9L1188.9 180.4L1189.1 176.5L1189.3 172.9L1189.4 169.8L1189.6 167.0L1189.7 164.6L1189.9 162.5L1190.1 160.7L1190.2 159.2L1190.4 158.0L1190.5 157.0L1190.7 156.2L1190.9 155.7L1191.0 155.3L1191.2 155.1L1191.3 155.0L1191.5 155.0L1192.1 156.8L1192.8 158.3L1193.4 159.5L1194.1 160.6L1194.7 161.5L1195.3 162.3L1196.0 163.0L1196.6 163.7L1197.3 164.3L1197.9 164.9L1198.5 165.5L1199.2 166.0L1199.8 166.6L1200.5 167.1L1201.1 167.6L1201.7 168.2L1202.4 168.7L1203.0 169.2L1203.6 169.7L1204.3 170.2L1204.9 170.7L1205.6 171.2L1206.2 171.8L1206.8 172.3L1207.5 172.8L1208.1 173.3L1208.8 173.8L1209.4 174.3L1210.0 174.8L1210.7 175.3L1211.3 175.8L1211.9 176.3L1212.6 176.8L1213.2 177.4L1213.9 177.9L1214.5 178.4L1215.1 178.9L1215.8 179.4L1216.4 179.9L1217.1 180.4L1217.2 176.5L1217.4 172.9L1217.5 169.8L1217.7 167.0L1217.9 164.6L1218.0 162.5L1218.2 160.7L1218.3 159.2L1218.5 158.0L1218.7 157.0L1218.8 156.2L1219.0 155.7L1219.2 155.3L1219.3 155.1L1219.5 155.0L1219.6 155.0L1220.3 156.8L1220.9 158.3L1221.6 159.5L1222.2 160.6L1222.8 161.5L1223.5 162.3L1224.1 163.0L1224.7 163.7L1225.4 164.3L1226.0 164.9L1226.7 165.5L1227.3 166.0L1227.9 166.6L1228.6 167.1L1229.2 167.6L1229.9 168.2L1230.5 168.7L1231.1 169.2L1231.8 169.7L1232.4 170.2L1233.1 170.7L1233.7 171.2L1234.3 171.8L1235.0 172.3L1235.6 172.8L1236.2 173.3L1236.9 173.8L1237.5 174.3L1238.2 174.8L1238.8 175.3L1239.4 175.8L1240.1 176.3L1240.7 176.8L1241.4 177.4L1242.0 177.9L1242.6 178.4L1243.3 178.9L1243.9 179.4L1244.5 179.9L1245.2 180.4L1245.3 176.5L1245.5 172.9L1245.7 169.8L1245.8 167.0L1246.0 164.6L1246.2 162.5L1246.3 160.7L1246.5 159.2L1246.6 158.0L1246.8 157.0L1247.0 156.2L1247.1 155.7L1247.3 155.3L1247.4 155.1L1247.6 155.0L1247.8 155.0L1248.4 156.8L1249.0 158.3L1249.7 159.5L1250.3 160.6L1251.0 161.5L1251.6 162.3L1252.2 163.0L1252.9 163.7L1253.5 164.3L1254.2 164.9L1254.8 165.5L1255.4 166.0L1256.1 166.6L1256.7 167.1L1257.3 167.6L1258.0 168.2L1258.6 168.7L1259.3 169.2L1259.9 169.7L1260.5 170.2L1261.2 170.7L1261.8 171.2L1262.5 171.8L1263.1 172.3L1263.7 172.8L1264.4 173.3L1265.0 173.8L1265.7 174.3L1266.3 174.8L1266.9 175.3L1267.6 175.8L1268.2 176.3L1268.8 176.8L1269.5 177.4L1270.1 177.9L1270.8 178.4L1271.4 178.9L1272.0 179.4L1272.7 179.9L1273.3 180.4L1273.5 176.5L1273.6 172.9L1273.8 169.8L1274.0 167.0L1274.1 164.6L1274.3 162.5L1274.4 160.7L1274.6 159.2L1274.8 158.0L1274.9 157.0L1275.1 156.2L1275.2 155.7L1275.4 155.3L1275.6 155.1L1275.7 155.0L1275.9 155.0L1276.5 156.8L1277.1 158.3L1277.7 159.5L1278.3 160.5L1278.9 161.4L1279.5 162.2L1280.1 162.9L1280.7 163.6L1281.3 164.2L1281.9 164.8L1282.5 165.4L1283.1 165.9L1283.7 166.4L1284.3 167.0L1284.9 167.5L1285.5 168.0L1286.1 168.5L1286.7 169.0L1287.3 169.5L1287.9 170.0L1288.5 170.6L1289.1 171.1L1289.7 171.6L1290.3 172.1L1290.9 172.6L1291.5 173.1L1292.1 173.6L1292.7 174.1L1293.3 174.6L1293.9 175.1L1294.5 175.6L1295.1 176.1L1295.7 176.6L1296.3 177.1L1296.9 177.6L1297.5 178.1L1298.1 178.6L1298.7 179.1L1299.3 179.6L1299.9 180.1"/>
</g>
<g fill="#e00000"><circle cx="864.8" cy="207.9" r="1.5"/><circle cx="879.1" cy="207.9" r="1.5"/><circle cx="893.5" cy="207.9" r="1.5"/><circle cx="907.8" cy="207.9" r="1.5"/><circle cx="922.1" cy="207.9" r="1.5"/><circle cx="936.4" cy="207.9" r="1.5"/><circle cx="950.8" cy="207.9" r="1.5"/><circle cx="965.1" cy="207.9" r="1.5"/><circle cx="979.4" cy="207.9" r="1.5"/><circle cx="993.8" cy="207.9" r="1.5"/><circle cx="1008.1" cy="207.9" r="1.5"/><circle cx="1022.4" cy="207.9" r="1.5"/><circle cx="1036.8" cy="207.9" r="1.5"/><circle cx="1051.1" cy="207.9" r="1.5"/><circle cx="1065.4" cy="207.9" r="1.5"/><circle cx="1079.8" cy="207.9" r="1.5"/><circle cx="1094.1" cy="207.9" r="1.5"/><circle cx="1108.4" cy="207.9" r="1.5"/><circle cx="1122.7" cy="207.9" r="1.5"/><circle cx="1137.1" cy="207.9" r="1.5"/><circle cx="1151.4" cy="207.9" r="1.5"/><circle cx="1165.7" cy="207.9" r="1.5"/><circle cx="1180.1" cy="207.9" r="1.5"/><circle cx="1194.4" cy="207.9" r="1.5"/><circle cx="1208.7" cy="207.9" r="1.5"/><circle cx="1223.0" cy="207.9" r="1.5"/><circle cx="1237.4" cy="207.9" r="1.5"/><circle cx="1251.7" cy="207.9" r="1.5"/><circle cx="1266.0" cy="207.9" r="1.5"/><circle cx="1280.4" cy="207.9" r="1.5"/><circle cx="1294.7" cy="207.9" r="1.5"/><circle cx="1309.0" cy="207.9" r="1.5"/><circle cx="1323.4" cy="207.9" r="1.5"/><circle cx="1337.7" cy="207.9" r="1.5"/></g>
<g font-family="Liberation Serif, serif" font-size="31" text-anchor="end" fill="#000">
<text x="855.8000000000001" y="67.4">120</text>
<text x="855.8000000000001" y="141.0">100</text>
<text x="855.8000000000001" y="214.7">80</text>
<text x="855.8000000000001" y="288.3">60</text>
<text x="855.8000000000001" y="362.0">40</text>
<text x="855.8000000000001" y="435.6">20</text>
</g>
<g font-family="Liberation Serif, serif" font-size="31" text-anchor="middle" fill="#000">
<text x="878.3" y="461.9">0</text>
<text x="936.9" y="461.9">50</text>
<text x="995.5" y="461.9">100</text>
<text x="1054.1" y="461.9">150</text>
<text x="1112.7" y="461.9">200</text>
<text x="1171.3" y="461.9">250</text>
<text x="1229.9" y="461.9">300</text>
<text x="1288.5" y="461.9">350</text>
<text x="1347.1" y="461.9">400</text>
</g>
<text font-family="Liberation Serif, serif" font-size="42" x="869.0" y="89.6" fill="#000">Japanese</text>
<text font-family="Liberation Serif, serif" font-size="30" x="1297.0" y="204.3" fill="#d70000">80% Inhibition</text>
<g stroke="#000" stroke-width="1.6" fill="none">
<path d="M142.4 592.4000000000001V961.4M135.4 961.4H623.8"/>
</g>
<g stroke="#000" stroke-width="1.8" fill="none"><path d="
M135.4 593.2H142.4M138.4 630.0H142.4M135.4 666.8H142.4M138.4 703.7H142.4M135.4 740.5H142.4M138.4 777.3H142.4M135.4 814.1H142.4M138.4 850.9H142.4M135.4 887.8H142.4M138.4 924.6H142.4M135.4 961.4H142.4M154.5 961.4V968.9M186.1 961.4V965.4M217.7 961.4V968.9M249.4 961.4V965.4M281.0 961.4V968.9M312.6 961.4V965.4M344.2 961.4V968.9M375.8 961.4V965.4M407.5 961.4V968.9M439.1 961.4V965.4M470.7 961.4V968.9M502.3 961.4V965.4M533.9 961.4V968.9M565.6 961.4V965.4M597.2 961.4V968.9"/></g>
<clipPath id="clipC"><rect x="142.4" y="563.2" width="520.6" height="399.3999999999999"/></clipPath>
<g clip-path="url(#clipC)" fill="none" stroke-width="4.4" stroke-linejoin="round" stroke-linecap="round">
<path stroke="#000000" stroke-width="5.0" d="M157.7 963.4L157.8 919.1L157.8 883.5L157.9 855.1L158.0 832.8L158.1 815.3L158.2 802.0L158.3 791.8L158.4 784.2L158.5 778.7L158.6 774.7L158.6 772.0L158.7 770.1L158.8 768.8L158.9 768.0L159.0 767.5L159.1 767.3L159.2 767.1L159.3 767.0L159.4 767.0L159.5 767.0L159.5 767.0L159.6 767.0L159.7 767.0L159.8 767.0L160.5 774.3L161.1 780.2L161.8 785.1L162.5 789.2L163.1 792.8L163.8 795.9L164.5 798.7L165.1 801.2L165.8 803.5L166.5 805.7L167.1 807.7L167.8 809.6L168.4 811.4L169.1 813.1L169.8 814.8L170.4 816.4L171.1 818.0L171.8 819.5L172.4 820.9L173.1 822.4L173.8 823.8L174.4 825.1L175.1 826.4L175.7 827.7L176.4 828.9L177.1 830.2L177.7 831.3L178.4 832.5L179.1 833.6L179.7 834.7L180.4 835.8L181.1 836.8L181.7 837.8L182.4 838.8L183.1 839.8L183.7 840.8L184.4 841.7L185.0 842.6L185.7 843.4L186.4 844.3L186.6 829.1L186.8 815.5L187.0 803.3L187.2 792.5L187.4 783.1L187.7 775.0L187.9 768.0L188.1 762.2L188.3 757.5L188.5 753.7L188.7 750.8L188.9 748.7L189.1 747.3L189.4 746.4L189.6 746.1L189.8 746.0L190.5 749.4L191.1 752.5L191.8 755.3L192.5 757.9L193.2 760.3L193.8 762.6L194.5 764.8L195.2 766.8L195.8 768.8L196.5 770.7L197.2 772.5L197.9 774.3L198.5 776.0L199.2 777.7L199.9 779.3L200.6 780.9L201.2 782.5L201.9 784.0L202.6 785.4L203.3 786.9L203.9 788.3L204.6 789.6L205.3 790.9L206.0 792.2L206.6 793.5L207.3 794.7L208.0 795.9L208.6 797.1L209.3 798.2L210.0 799.3L210.7 800.4L211.3 801.5L212.0 802.5L212.7 803.5L213.4 804.5L214.0 805.4L214.7 806.3L215.4 807.3L216.1 808.1L216.7 809.0L216.9 798.2L217.2 788.5L217.4 779.8L217.6 772.2L217.8 765.5L218.0 759.7L218.2 754.8L218.4 750.6L218.6 747.2L218.9 744.6L219.1 742.5L219.3 741.0L219.5 740.0L219.7 739.4L219.9 739.2L220.1 739.1L220.8 742.3L221.5 745.2L222.2 747.8L222.8 750.2L223.5 752.4L224.2 754.5L224.9 756.5L225.5 758.5L226.2 760.3L226.9 762.1L227.6 763.8L228.2 765.4L228.9 767.0L229.6 768.6L230.2 770.1L230.9 771.6L231.6 773.0L232.3 774.4L232.9 775.8L233.6 777.1L234.3 778.4L235.0 779.7L235.6 780.9L236.3 782.1L237.0 783.3L237.7 784.4L238.3 785.5L239.0 786.6L239.7 787.7L240.3 788.7L241.0 789.7L241.7 790.7L242.4 791.6L243.0 792.6L243.7 793.5L244.4 794.4L245.1 795.2L245.7 796.1L246.4 796.9L247.1 797.7L247.3 788.3L247.5 779.9L247.7 772.4L247.9 765.7L248.1 759.9L248.3 754.9L248.5 750.6L248.7 747.0L248.9 744.1L249.1 741.7L249.3 739.9L249.5 738.7L249.8 737.8L250.0 737.3L250.2 737.0L250.4 737.0L251.0 740.2L251.7 743.0L252.4 745.6L253.1 748.1L253.8 750.3L254.4 752.4L255.1 754.4L255.8 756.3L256.5 758.2L257.1 759.9L257.8 761.6L258.5 763.3L259.2 764.9L259.8 766.5L260.5 768.0L261.2 769.4L261.9 770.9L262.6 772.3L263.2 773.6L263.9 774.9L264.6 776.2L265.3 777.5L265.9 778.7L266.6 779.9L267.3 781.1L268.0 782.2L268.6 783.3L269.3 784.4L270.0 785.5L270.7 786.5L271.3 787.5L272.0 788.5L272.7 789.4L273.4 790.4L274.1 791.3L274.7 792.2L275.4 793.0L276.1 793.9L276.8 794.7L277.4 795.5L277.6 786.4L277.8 778.2L278.1 770.9L278.3 764.5L278.5 758.8L278.7 754.0L278.9 749.8L279.1 746.3L279.3 743.5L279.5 741.2L279.7 739.5L279.9 738.2L280.1 737.4L280.3 736.9L280.5 736.6L280.7 736.6L281.4 739.8L282.1 742.7L282.8 745.3L283.4 747.7L284.1 750.0L284.8 752.1L285.5 754.1L286.1 756.1L286.8 757.9L287.5 759.7L288.2 761.4L288.8 763.1L289.5 764.7L290.2 766.3L290.9 767.8L291.6 769.3L292.2 770.7L292.9 772.1L293.6 773.5L294.3 774.8L294.9 776.1L295.6 777.4L296.3 778.6L297.0 779.8L297.6 781.0L298.3 782.1L299.0 783.3L299.7 784.3L300.4 785.4L301.0 786.4L301.7 787.5L302.4 788.4L303.1 789.4L303.7 790.3L304.4 791.3L305.1 792.1L305.8 793.0L306.4 793.9L307.1 794.7L307.8 795.5L308.0 786.4L308.2 778.2L308.4 770.9L308.6 764.5L308.8 758.8L309.0 754.0L309.2 749.8L309.4 746.3L309.6 743.5L309.8 741.2L310.1 739.5L310.3 738.2L310.5 737.4L310.7 736.9L310.9 736.6L311.1 736.6L311.8 739.8L312.4 742.7L313.1 745.3L313.8 747.7L314.5 750.0L315.1 752.1L315.8 754.1L316.5 756.1L317.2 757.9L317.8 759.7L318.5 761.4L319.2 763.1L319.9 764.7L320.6 766.3L321.2 767.8L321.9 769.3L322.6 770.7L323.3 772.1L323.9 773.5L324.6 774.8L325.3 776.1L326.0 777.4L326.6 778.6L327.3 779.8L328.0 781.0L328.7 782.1L329.4 783.3L330.0 784.3L330.7 785.4L331.4 786.4L332.1 787.5L332.7 788.4L333.4 789.4L334.1 790.3L334.8 791.3L335.4 792.1L336.1 793.0L336.8 793.9L337.5 794.7L338.1 795.5L338.4 786.4L338.6 778.2L338.8 770.9L339.0 764.5L339.2 758.8L339.4 754.0L339.6 749.8L339.8 746.3L340.0 743.5L340.2 741.2L340.4 739.5L340.6 738.2L340.8 737.4L341.0 736.9L341.2 736.6L341.4 736.6L342.1 739.8L342.8 742.7L343.5 745.3L344.1 747.7L344.8 750.0L345.5 752.1L346.2 754.1L346.9 756.1L347.5 757.9L348.2 759.7L348.9 761.4L349.6 763.1L350.2 764.7L350.9 766.3L351.6 767.8L352.3 769.3L352.9 770.7L353.6 772.1L354.3 773.5L355.0 774.8L355.6 776.1L356.3 777.4L357.0 778.6L357.7 779.8L358.4 781.0L359.0 782.1L359.7 783.3L360.4 784.3L361.1 785.4L361.7 786.4L362.4 787.5L363.1 788.4L363.8 789.4L364.4 790.3L365.1 791.3L365.8 792.1L366.5 793.0L367.2 793.9L367.8 794.7L368.5 795.5L368.7 786.4L368.9 778.2L369.1 770.9L369.3 764.5L369.5 758.8L369.7 754.0L369.9 749.8L370.1 746.3L370.4 743.5L370.6 741.2L370.8 739.5L371.0 738.2L371.2 737.4L371.4 736.9L371.6 736.6L371.8 736.6L372.5 739.8L373.1 742.7L373.8 745.3L374.5 747.7L375.2 750.0L375.9 752.1L376.5 754.1L377.2 756.1L377.9 757.9L378.6 759.7L379.2 761.4L379.9 763.1L380.6 764.7L381.3 766.3L381.9 767.8L382.6 769.3L383.3 770.7L384.0 772.1L384.6 773.5L385.3 774.8L386.0 776.1L386.7 777.4L387.4 778.6L388.0 779.8L388.7 781.0L389.4 782.1L390.1 783.3L390.7 784.3L391.4 785.4L392.1 786.4L392.8 787.5L393.4 788.4L394.1 789.4L394.8 790.3L395.5 791.3L396.2 792.1L396.8 793.0L397.5 793.9L398.2 794.7L398.9 795.5L399.1 786.4L399.3 778.2L399.5 770.9L399.7 764.5L399.9 758.8L400.1 754.0L400.3 749.8L400.5 746.3L400.7 743.5L400.9 741.2L401.1 739.5L401.3 738.2L401.5 737.4L401.7 736.9L401.9 736.6L402.1 736.6L402.8 739.8L403.5 742.7L404.2 745.3L404.9 747.7L405.5 750.0L406.2 752.1L406.9 754.1L407.6 756.1L408.2 757.9L408.9 759.7L409.6 761.4L410.3 763.1L410.9 764.7L411.6 766.3L412.3 767.8L413.0 769.3L413.7 770.7L414.3 772.1L415.0 773.5L415.7 774.8L416.4 776.1L417.0 777.4L417.7 778.6L418.4 779.8L419.1 781.0L419.7 782.1L420.4 783.3L421.1 784.3L421.8 785.4L422.4 786.4L423.1 787.5L423.8 788.4L424.5 789.4L425.2 790.3L425.8 791.3L426.5 792.1L427.2 793.0L427.9 793.9L428.5 794.7L429.2 795.5L429.4 786.4L429.6 778.2L429.8 770.9L430.0 764.5L430.2 758.8L430.4 754.0L430.7 749.8L430.9 746.3L431.1 743.5L431.3 741.2L431.5 739.5L431.7 738.2L431.9 737.4L432.1 736.9L432.3 736.6L432.5 736.6L433.2 739.8L433.9 742.7L434.5 745.3L435.2 747.7L435.9 750.0L436.6 752.1L437.2 754.1L437.9 756.1L438.6 757.9L439.3 759.7L439.9 761.4L440.6 763.1L441.3 764.7L442.0 766.3L442.7 767.8L443.3 769.3L444.0 770.7L444.7 772.1L445.4 773.5L446.0 774.8L446.7 776.1L447.4 777.4L448.1 778.6L448.7 779.8L449.4 781.0L450.1 782.1L450.8 783.3L451.4 784.3L452.1 785.4L452.8 786.4L453.5 787.5L454.2 788.4L454.8 789.4L455.5 790.3L456.2 791.3L456.9 792.1L457.5 793.0L458.2 793.9L458.9 794.7L459.6 795.5L459.8 786.4L460.0 778.2L460.2 770.9L460.4 764.5L460.6 758.8L460.8 754.0L461.0 749.8L461.2 746.3L461.4 743.5L461.6 741.2L461.8 739.5L462.0 738.2L462.2 737.4L462.4 736.9L462.7 736.6L462.9 736.6L463.5 739.8L464.2 742.7L464.9 745.3L465.6 747.7L466.2 750.0L466.9 752.1L467.6 754.1L468.3 756.1L468.9 757.9L469.6 759.7L470.3 761.4L471.0 763.1L471.7 764.7L472.3 766.3L473.0 767.8L473.7 769.3L474.4 770.7L475.0 772.1L475.7 773.5L476.4 774.8L477.1 776.1L477.7 777.4L478.4 778.6L479.1 779.8L479.8 781.0L480.5 782.1L481.1 783.3L481.8 784.3L482.5 785.4L483.2 786.4L483.8 787.5L484.5 788.4L485.2 789.4L485.9 790.3L486.5 791.3L487.2 792.1L487.9 793.0L488.6 793.9L489.2 794.7L489.9 795.5L490.1 786.4L490.3 778.2L490.5 770.9L490.7 764.5L491.0 758.8L491.2 754.0L491.4 749.8L491.6 746.3L491.8 743.5L492.0 741.2L492.2 739.5L492.4 738.2L492.6 737.4L492.8 736.9L493.0 736.6L493.2 736.6L493.9 739.8L494.6 742.7L495.2 745.3L495.9 747.7L496.6 750.0L497.3 752.1L498.0 754.1L498.6 756.1L499.3 757.9L500.0 759.7L500.7 761.4L501.3 763.1L502.0 764.7L502.7 766.3L503.4 767.8L504.0 769.3L504.7 770.7L505.4 772.1L506.1 773.5L506.7 774.8L507.4 776.1L508.1 777.4L508.8 778.6L509.5 779.8L510.1 781.0L510.8 782.1L511.5 783.3L512.2 784.3L512.8 785.4L513.5 786.4L514.2 787.5L514.9 788.4L515.5 789.4L516.2 790.3L516.9 791.3L517.6 792.1L518.3 793.0L518.9 793.9L519.6 794.7L520.3 795.5L520.5 786.4L520.7 778.2L520.9 770.9L521.1 764.5L521.3 758.8L521.5 754.0L521.7 749.8L521.9 746.3L522.1 743.5L522.3 741.2L522.5 739.5L522.7 738.2L523.0 737.4L523.2 736.9L523.4 736.6L523.6 736.6L524.2 739.8L524.9 742.7L525.6 745.3L526.3 747.7L527.0 750.0L527.6 752.1L528.3 754.1L529.0 756.1L529.7 757.9L530.3 759.7L531.0 761.4L531.7 763.1L532.4 764.7L533.0 766.3L533.7 767.8L534.4 769.3L535.1 770.7L535.7 772.1L536.4 773.5L537.1 774.8L537.8 776.1L538.5 777.4L539.1 778.6L539.8 779.8L540.5 781.0L541.2 782.1L541.8 783.3L542.5 784.3L543.2 785.4L543.9 786.4L544.5 787.5L545.2 788.4L545.9 789.4L546.6 790.3L547.3 791.3L547.9 792.1L548.6 793.0L549.3 793.9L550.0 794.7L550.6 795.5L550.8 786.4L551.0 778.2L551.3 770.9L551.5 764.5L551.7 758.8L551.9 754.0L552.1 749.8L552.3 746.3L552.5 743.5L552.7 741.2L552.9 739.5L553.1 738.2L553.3 737.4L553.5 736.9L553.7 736.6L553.9 736.6L554.6 739.8L555.3 742.7L556.0 745.3L556.6 747.7L557.3 750.0L558.0 752.1L558.7 754.1L559.3 756.1L560.0 757.9L560.7 759.7L561.4 761.4L562.0 763.1L562.7 764.7L563.4 766.3L564.1 767.8L564.8 769.3L565.4 770.7L566.1 772.1L566.8 773.5L567.5 774.8L568.1 776.1L568.8 777.4L569.5 778.6L570.2 779.8L570.8 781.0L571.5 782.1L572.2 783.3L572.9 784.3L573.5 785.4L574.2 786.4L574.9 787.5L575.6 788.4L576.3 789.4L576.9 790.3L577.6 791.3L578.3 792.1L579.0 793.0L579.6 793.9L580.3 794.7L581.0 795.5L581.2 786.4L581.4 778.2L581.6 770.9L581.8 764.5L582.0 758.8L582.2 754.0L582.4 749.8L582.6 746.3L582.8 743.5L583.0 741.2L583.3 739.5L583.5 738.2L583.7 737.4L583.9 736.9L584.1 736.6L584.3 736.6L584.9 739.9L585.6 742.8L586.2 745.5L586.8 747.9L587.5 750.2L588.1 752.4L588.8 754.4L589.4 756.4L590.0 758.3L590.7 760.1L591.3 761.8L591.9 763.5L592.6 765.2L593.2 766.8L593.9 768.3L594.5 769.8L595.1 771.3L595.8 772.7L596.4 774.1L597.1 775.5L597.7 776.8L598.3 778.1L599.0 779.3L599.6 780.6L600.2 781.7L600.9 782.9L601.5 784.0L602.2 785.2L602.8 786.2L603.4 787.3L604.1 788.3L604.7 789.3L605.4 790.3L606.0 791.3L606.6 792.2L607.3 793.1L607.9 794.0L608.6 794.8L609.2 795.7L609.8 796.5"/>
<path stroke="#da0000" stroke-width="4.8" d="M157.4 963.4L157.5 934.1L157.7 910.6L157.8 891.8L157.9 877.0L158.0 865.5L158.2 856.6L158.3 849.9L158.4 844.9L158.5 841.2L158.7 838.6L158.8 836.8L158.9 835.5L159.1 834.7L159.2 834.2L159.3 833.9L159.4 833.7L159.6 833.6L159.7 833.5L159.8 833.5L159.9 833.5L160.1 833.5L160.2 833.5L160.3 833.5L160.4 833.5L161.1 840.7L161.7 846.6L162.4 851.5L163.0 855.6L163.7 859.1L164.3 862.2L165.0 864.9L165.6 867.4L166.3 869.7L166.9 871.9L167.6 873.8L168.2 875.7L168.9 877.5L169.5 879.3L170.2 880.9L170.8 882.5L171.5 884.1L172.1 885.6L172.8 887.0L173.4 888.4L174.1 889.8L174.7 891.1L175.4 892.5L176.0 893.7L176.6 895.0L177.3 896.2L177.9 897.3L178.6 898.5L179.2 899.6L179.9 900.7L180.5 901.8L181.2 902.8L181.8 903.8L182.5 904.8L183.1 905.7L183.8 906.7L184.4 907.6L185.1 908.5L185.7 909.4L186.4 910.2L186.6 893.8L186.9 879.0L187.1 865.9L187.4 854.2L187.6 844.0L187.8 835.2L188.1 827.7L188.3 821.4L188.6 816.3L188.8 812.2L189.1 809.1L189.3 806.8L189.6 805.3L189.8 804.4L190.0 804.0L190.3 803.9L191.0 807.8L191.6 811.3L192.3 814.5L192.9 817.5L193.6 820.3L194.3 822.9L194.9 825.3L195.6 827.7L196.2 829.9L196.9 832.1L197.6 834.2L198.2 836.3L198.9 838.2L199.5 840.1L200.2 842.0L200.9 843.8L201.5 845.6L202.2 847.3L202.9 849.0L203.5 850.6L204.2 852.2L204.8 853.7L205.5 855.3L206.2 856.7L206.8 858.2L207.5 859.6L208.1 860.9L208.8 862.3L209.5 863.6L210.1 864.8L210.8 866.1L211.4 867.3L212.1 868.4L212.8 869.6L213.4 870.7L214.1 871.8L214.7 872.9L215.4 873.9L216.1 874.9L216.7 875.9L217.0 863.3L217.2 852.0L217.4 841.9L217.6 832.9L217.9 825.1L218.1 818.3L218.3 812.6L218.6 807.8L218.8 803.8L219.0 800.7L219.2 798.3L219.5 796.5L219.7 795.4L219.9 794.7L220.2 794.4L220.4 794.3L221.1 798.1L221.7 801.6L222.4 804.7L223.1 807.6L223.7 810.3L224.4 812.8L225.1 815.2L225.7 817.5L226.4 819.7L227.1 821.9L227.7 823.9L228.4 825.9L229.1 827.8L229.7 829.7L230.4 831.5L231.1 833.3L231.7 835.0L232.4 836.7L233.1 838.3L233.7 839.9L234.4 841.5L235.1 843.0L235.7 844.4L236.4 845.9L237.1 847.3L237.7 848.7L238.4 850.0L239.1 851.3L239.7 852.6L240.4 853.8L241.1 855.0L241.7 856.2L242.4 857.3L243.1 858.4L243.7 859.5L244.4 860.6L245.1 861.6L245.7 862.6L246.4 863.6L247.1 864.6L247.3 853.2L247.5 843.0L247.7 833.9L248.0 825.8L248.2 818.7L248.4 812.6L248.6 807.4L248.9 803.1L249.1 799.5L249.3 796.7L249.5 794.5L249.7 792.9L250.0 791.8L250.2 791.2L250.4 791.0L250.6 790.9L251.3 794.7L252.0 798.2L252.6 801.3L253.3 804.2L254.0 806.9L254.6 809.5L255.3 811.9L256.0 814.2L256.7 816.4L257.3 818.6L258.0 820.6L258.7 822.6L259.3 824.6L260.0 826.4L260.7 828.3L261.4 830.0L262.0 831.8L262.7 833.5L263.4 835.1L264.0 836.7L264.7 838.3L265.4 839.8L266.0 841.3L266.7 842.7L267.4 844.1L268.1 845.5L268.7 846.8L269.4 848.1L270.1 849.4L270.7 850.6L271.4 851.9L272.1 853.0L272.7 854.2L273.4 855.3L274.1 856.4L274.8 857.5L275.4 858.5L276.1 859.5L276.8 860.5L277.4 861.5L277.7 850.5L277.9 840.6L278.1 831.8L278.3 823.9L278.5 817.1L278.8 811.2L279.0 806.2L279.2 802.0L279.4 798.5L279.7 795.8L279.9 793.7L280.1 792.1L280.3 791.1L280.5 790.5L280.8 790.3L281.0 790.2L281.7 794.1L282.3 797.6L283.0 800.7L283.7 803.7L284.3 806.4L285.0 809.0L285.7 811.4L286.3 813.8L287.0 816.0L287.7 818.1L288.4 820.2L289.0 822.2L289.7 824.2L290.4 826.1L291.0 827.9L291.7 829.7L292.4 831.5L293.0 833.2L293.7 834.8L294.4 836.5L295.1 838.0L295.7 839.6L296.4 841.1L297.1 842.5L297.7 843.9L298.4 845.3L299.1 846.7L299.7 848.0L300.4 849.3L301.1 850.5L301.8 851.8L302.4 853.0L303.1 854.1L303.8 855.3L304.4 856.4L305.1 857.4L305.8 858.5L306.5 859.5L307.1 860.5L307.8 861.5L308.0 850.5L308.2 840.6L308.5 831.8L308.7 823.9L308.9 817.1L309.1 811.2L309.3 806.2L309.6 802.0L309.8 798.5L310.0 795.8L310.2 793.7L310.4 792.1L310.7 791.1L310.9 790.5L311.1 790.3L311.3 790.2L312.0 794.1L312.7 797.6L313.3 800.7L314.0 803.7L314.7 806.4L315.4 809.0L316.0 811.4L316.7 813.8L317.4 816.0L318.0 818.1L318.7 820.2L319.4 822.2L320.0 824.2L320.7 826.1L321.4 827.9L322.1 829.7L322.7 831.5L323.4 833.2L324.1 834.8L324.7 836.5L325.4 838.0L326.1 839.6L326.8 841.1L327.4 842.5L328.1 843.9L328.8 845.3L329.4 846.7L330.1 848.0L330.8 849.3L331.4 850.5L332.1 851.8L332.8 853.0L333.5 854.1L334.1 855.3L334.8 856.4L335.5 857.4L336.1 858.5L336.8 859.5L337.5 860.5L338.1 861.5L338.4 850.5L338.6 840.6L338.8 831.8L339.0 823.9L339.3 817.1L339.5 811.2L339.7 806.2L339.9 802.0L340.1 798.5L340.4 795.8L340.6 793.7L340.8 792.1L341.0 791.1L341.2 790.5L341.5 790.3L341.7 790.2L342.4 794.1L343.0 797.6L343.7 800.7L344.4 803.7L345.0 806.4L345.7 809.0L346.4 811.4L347.1 813.8L347.7 816.0L348.4 818.1L349.1 820.2L349.7 822.2L350.4 824.2L351.1 826.1L351.7 827.9L352.4 829.7L353.1 831.5L353.8 833.2L354.4 834.8L355.1 836.5L355.8 838.0L356.4 839.6L357.1 841.1L357.8 842.5L358.4 843.9L359.1 845.3L359.8 846.7L360.5 848.0L361.1 849.3L361.8 850.5L362.5 851.8L363.1 853.0L363.8 854.1L364.5 855.3L365.2 856.4L365.8 857.4L366.5 858.5L367.2 859.5L367.8 860.5L368.5 861.5L368.7 850.5L368.9 840.6L369.2 831.8L369.4 823.9L369.6 817.1L369.8 811.2L370.1 806.2L370.3 802.0L370.5 798.5L370.7 795.8L370.9 793.7L371.2 792.1L371.4 791.1L371.6 790.5L371.8 790.3L372.0 790.2L372.7 794.1L373.4 797.6L374.1 800.7L374.7 803.7L375.4 806.4L376.1 809.0L376.7 811.4L377.4 813.8L378.1 816.0L378.7 818.1L379.4 820.2L380.1 822.2L380.8 824.2L381.4 826.1L382.1 827.9L382.8 829.7L383.4 831.5L384.1 833.2L384.8 834.8L385.5 836.5L386.1 838.0L386.8 839.6L387.5 841.1L388.1 842.5L388.8 843.9L389.5 845.3L390.1 846.7L390.8 848.0L391.5 849.3L392.2 850.5L392.8 851.8L393.5 853.0L394.2 854.1L394.8 855.3L395.5 856.4L396.2 857.4L396.8 858.5L397.5 859.5L398.2 860.5L398.9 861.5L399.1 850.5L399.3 840.6L399.5 831.8L399.7 823.9L400.0 817.1L400.2 811.2L400.4 806.2L400.6 802.0L400.9 798.5L401.1 795.8L401.3 793.7L401.5 792.1L401.7 791.1L402.0 790.5L402.2 790.3L402.4 790.2L403.1 794.1L403.7 797.6L404.4 800.7L405.1 803.7L405.8 806.4L406.4 809.0L407.1 811.4L407.8 813.8L408.4 816.0L409.1 818.1L409.8 820.2L410.4 822.2L411.1 824.2L411.8 826.1L412.5 827.9L413.1 829.7L413.8 831.5L414.5 833.2L415.1 834.8L415.8 836.5L416.5 838.0L417.1 839.6L417.8 841.1L418.5 842.5L419.2 843.9L419.8 845.3L420.5 846.7L421.2 848.0L421.8 849.3L422.5 850.5L423.2 851.8L423.9 853.0L424.5 854.1L425.2 855.3L425.9 856.4L426.5 857.4L427.2 858.5L427.9 859.5L428.5 860.5L429.2 861.5L429.4 850.5L429.7 840.6L429.9 831.8L430.1 823.9L430.3 817.1L430.5 811.2L430.8 806.2L431.0 802.0L431.2 798.5L431.4 795.8L431.6 793.7L431.9 792.1L432.1 791.1L432.3 790.5L432.5 790.3L432.8 790.2L433.4 794.1L434.1 797.6L434.8 800.7L435.4 803.7L436.1 806.4L436.8 809.0L437.4 811.4L438.1 813.8L438.8 816.0L439.5 818.1L440.1 820.2L440.8 822.2L441.5 824.2L442.1 826.1L442.8 827.9L443.5 829.7L444.2 831.5L444.8 833.2L445.5 834.8L446.2 836.5L446.8 838.0L447.5 839.6L448.2 841.1L448.8 842.5L449.5 843.9L450.2 845.3L450.9 846.7L451.5 848.0L452.2 849.3L452.9 850.5L453.5 851.8L454.2 853.0L454.9 854.1L455.5 855.3L456.2 856.4L456.9 857.4L457.6 858.5L458.2 859.5L458.9 860.5L459.6 861.5L459.8 850.5L460.0 840.6L460.2 831.8L460.5 823.9L460.7 817.1L460.9 811.2L461.1 806.2L461.3 802.0L461.6 798.5L461.8 795.8L462.0 793.7L462.2 792.1L462.4 791.1L462.7 790.5L462.9 790.3L463.1 790.2L463.8 794.1L464.5 797.6L465.1 800.7L465.8 803.7L466.5 806.4L467.1 809.0L467.8 811.4L468.5 813.8L469.1 816.0L469.8 818.1L470.5 820.2L471.2 822.2L471.8 824.2L472.5 826.1L473.2 827.9L473.8 829.7L474.5 831.5L475.2 833.2L475.8 834.8L476.5 836.5L477.2 838.0L477.9 839.6L478.5 841.1L479.2 842.5L479.9 843.9L480.5 845.3L481.2 846.7L481.9 848.0L482.6 849.3L483.2 850.5L483.9 851.8L484.6 853.0L485.2 854.1L485.9 855.3L486.6 856.4L487.2 857.4L487.9 858.5L488.6 859.5L489.3 860.5L489.9 861.5L490.1 850.5L490.4 840.6L490.6 831.8L490.8 823.9L491.0 817.1L491.3 811.2L491.5 806.2L491.7 802.0L491.9 798.5L492.1 795.8L492.4 793.7L492.6 792.1L492.8 791.1L493.0 790.5L493.2 790.3L493.5 790.2L494.1 794.1L494.8 797.6L495.5 800.7L496.1 803.7L496.8 806.4L497.5 809.0L498.2 811.4L498.8 813.8L499.5 816.0L500.2 818.1L500.8 820.2L501.5 822.2L502.2 824.2L502.9 826.1L503.5 827.9L504.2 829.7L504.9 831.5L505.5 833.2L506.2 834.8L506.9 836.5L507.5 838.0L508.2 839.6L508.9 841.1L509.6 842.5L510.2 843.9L510.9 845.3L511.6 846.7L512.2 848.0L512.9 849.3L513.6 850.5L514.2 851.8L514.9 853.0L515.6 854.1L516.3 855.3L516.9 856.4L517.6 857.4L518.3 858.5L518.9 859.5L519.6 860.5L520.3 861.5L520.5 850.5L520.7 840.6L520.9 831.8L521.2 823.9L521.4 817.1L521.6 811.2L521.8 806.2L522.1 802.0L522.3 798.5L522.5 795.8L522.7 793.7L522.9 792.1L523.2 791.1L523.4 790.5L523.6 790.3L523.8 790.2L524.5 794.1L525.2 797.6L525.8 800.7L526.5 803.7L527.2 806.4L527.8 809.0L528.5 811.4L529.2 813.8L529.9 816.0L530.5 818.1L531.2 820.2L531.9 822.2L532.5 824.2L533.2 826.1L533.9 827.9L534.5 829.7L535.2 831.5L535.9 833.2L536.6 834.8L537.2 836.5L537.9 838.0L538.6 839.6L539.2 841.1L539.9 842.5L540.6 843.9L541.3 845.3L541.9 846.7L542.6 848.0L543.3 849.3L543.9 850.5L544.6 851.8L545.3 853.0L545.9 854.1L546.6 855.3L547.3 856.4L548.0 857.4L548.6 858.5L549.3 859.5L550.0 860.5L550.6 861.5L550.9 850.5L551.1 840.6L551.3 831.8L551.5 823.9L551.7 817.1L552.0 811.2L552.2 806.2L552.4 802.0L552.6 798.5L552.8 795.8L553.1 793.7L553.3 792.1L553.5 791.1L553.7 790.5L554.0 790.3L554.2 790.2L554.8 794.1L555.5 797.6L556.2 800.7L556.9 803.7L557.5 806.4L558.2 809.0L558.9 811.4L559.5 813.8L560.2 816.0L560.9 818.1L561.6 820.2L562.2 822.2L562.9 824.2L563.6 826.1L564.2 827.9L564.9 829.7L565.6 831.5L566.2 833.2L566.9 834.8L567.6 836.5L568.3 838.0L568.9 839.6L569.6 841.1L570.3 842.5L570.9 843.9L571.6 845.3L572.3 846.7L572.9 848.0L573.6 849.3L574.3 850.5L575.0 851.8L575.6 853.0L576.3 854.1L577.0 855.3L577.6 856.4L578.3 857.4L579.0 858.5L579.6 859.5L580.3 860.5L581.0 861.5L581.2 850.5L581.4 840.6L581.7 831.8L581.9 823.9L582.1 817.1L582.3 811.2L582.5 806.2L582.8 802.0L583.0 798.5L583.2 795.8L583.4 793.7L583.6 792.1L583.9 791.1L584.1 790.5L584.3 790.3L584.5 790.2L585.2 794.1L585.8 797.6L586.4 800.8L587.1 803.7L587.7 806.4L588.3 809.0L589.0 811.5L589.6 813.8L590.2 816.1L590.9 818.2L591.5 820.3L592.1 822.3L592.8 824.3L593.4 826.2L594.0 828.0L594.7 829.8L595.3 831.6L595.9 833.3L596.5 835.0L597.2 836.6L597.8 838.2L598.4 839.7L599.1 841.2L599.7 842.7L600.3 844.1L601.0 845.5L601.6 846.8L602.2 848.2L602.9 849.4L603.5 850.7L604.1 851.9L604.8 853.1L605.4 854.3L606.0 855.4L606.7 856.5L607.3 857.6L607.9 858.7L608.6 859.7L609.2 860.7L609.8 861.7"/>
<path stroke="#8cff37" stroke-width="4.8" d="M155.0 963.4L155.2 899.6L155.3 848.3L155.5 807.4L155.6 775.1L155.8 750.0L156.0 730.7L156.1 716.1L156.3 705.2L156.4 697.2L156.6 691.5L156.7 687.5L156.9 684.7L157.1 682.9L157.2 681.8L157.4 681.1L157.5 680.7L157.7 680.5L157.9 680.4L158.0 680.3L158.2 680.3L158.3 680.3L158.5 680.3L158.6 680.3L158.8 680.3L159.5 681.6L160.2 682.7L160.9 683.6L161.6 684.3L162.2 684.9L162.9 685.5L163.6 686.0L164.3 686.5L165.0 687.0L165.7 687.4L166.4 687.8L167.1 688.2L167.8 688.6L168.5 689.0L169.1 689.4L169.8 689.7L170.5 690.1L171.2 690.5L171.9 690.8L172.6 691.2L173.3 691.6L174.0 691.9L174.7 692.3L175.3 692.7L176.0 693.0L176.7 693.4L177.4 693.8L178.1 694.1L178.8 694.5L179.5 694.9L180.2 695.2L180.9 695.6L181.5 696.0L182.2 696.3L182.9 696.7L183.6 697.0L184.3 697.4L185.0 697.8L185.7 698.1L186.4 698.5L186.6 695.2L186.8 692.3L186.9 689.7L187.1 687.3L187.3 685.3L187.5 683.5L187.7 682.0L187.9 680.8L188.1 679.8L188.3 679.0L188.5 678.3L188.6 677.9L188.8 677.6L189.0 677.4L189.2 677.3L189.4 677.3L190.1 677.8L190.8 678.2L191.5 678.5L192.1 678.9L192.8 679.2L193.5 679.5L194.2 679.8L194.9 680.0L195.6 680.3L196.2 680.6L196.9 680.9L197.6 681.1L198.3 681.4L199.0 681.6L199.7 681.9L200.3 682.2L201.0 682.4L201.7 682.7L202.4 682.9L203.1 683.2L203.8 683.4L204.4 683.7L205.1 684.0L205.8 684.2L206.5 684.5L207.2 684.7L207.8 685.0L208.5 685.2L209.2 685.5L209.9 685.7L210.6 686.0L211.3 686.3L211.9 686.5L212.6 686.8L213.3 687.0L214.0 687.3L214.7 687.5L215.4 687.8L216.0 688.0L216.7 688.3L216.9 686.3L217.0 684.6L217.2 683.0L217.4 681.6L217.5 680.4L217.7 679.3L217.8 678.4L218.0 677.7L218.2 677.1L218.3 676.6L218.5 676.2L218.6 675.9L218.8 675.8L218.9 675.7L219.1 675.6L219.3 675.6L220.0 676.0L220.6 676.4L221.3 676.8L222.0 677.1L222.7 677.4L223.4 677.7L224.1 678.0L224.8 678.2L225.5 678.5L226.2 678.7L226.9 679.0L227.6 679.2L228.3 679.5L229.0 679.7L229.7 680.0L230.4 680.2L231.1 680.5L231.8 680.7L232.5 681.0L233.2 681.2L233.9 681.5L234.6 681.7L235.3 681.9L236.0 682.2L236.6 682.4L237.3 682.7L238.0 682.9L238.7 683.2L239.4 683.4L240.1 683.7L240.8 683.9L241.5 684.1L242.2 684.4L242.9 684.6L243.6 684.9L244.3 685.1L245.0 685.4L245.7 685.6L246.4 685.9L247.1 686.1L247.2 684.5L247.4 683.0L247.6 681.7L247.7 680.5L247.9 679.5L248.0 678.6L248.2 677.9L248.3 677.2L248.5 676.7L248.7 676.3L248.8 676.0L249.0 675.8L249.1 675.6L249.3 675.5L249.5 675.5L249.6 675.5L250.3 675.9L251.0 676.3L251.7 676.6L252.4 676.9L253.1 677.2L253.8 677.5L254.5 677.8L255.2 678.0L255.9 678.3L256.6 678.5L257.3 678.8L258.0 679.0L258.7 679.3L259.4 679.5L260.0 679.8L260.7 680.0L261.4 680.2L262.1 680.5L262.8 680.7L263.5 681.0L264.2 681.2L264.9 681.4L265.6 681.7L266.3 681.9L267.0 682.1L267.7 682.4L268.4 682.6L269.1 682.9L269.8 683.1L270.5 683.3L271.2 683.6L271.9 683.8L272.6 684.0L273.3 684.3L274.0 684.5L274.7 684.8L275.4 685.0L276.0 685.2L276.7 685.5L277.4 685.7L277.6 684.1L277.8 682.7L277.9 681.4L278.1 680.3L278.2 679.4L278.4 678.5L278.5 677.8L278.7 677.2L278.9 676.7L279.0 676.3L279.2 676.0L279.3 675.8L279.5 675.6L279.7 675.5L279.8 675.5L280.0 675.5L280.7 675.9L281.4 676.3L282.1 676.6L282.8 676.9L283.4 677.2L284.1 677.5L284.8 677.8L285.5 678.0L286.2 678.3L286.9 678.5L287.6 678.8L288.3 679.0L289.0 679.3L289.7 679.5L290.4 679.8L291.1 680.0L291.8 680.2L292.5 680.5L293.2 680.7L293.9 681.0L294.6 681.2L295.3 681.4L296.0 681.7L296.7 681.9L297.4 682.1L298.1 682.4L298.8 682.6L299.4 682.9L300.1 683.1L300.8 683.3L301.5 683.6L302.2 683.8L302.9 684.0L303.6 684.3L304.3 684.5L305.0 684.8L305.7 685.0L306.4 685.2L307.1 685.5L307.8 685.7L308.0 684.1L308.1 682.7L308.3 681.4L308.4 680.3L308.6 679.4L308.7 678.5L308.9 677.8L309.1 677.2L309.2 676.7L309.4 676.3L309.5 676.0L309.7 675.8L309.8 675.6L310.0 675.5L310.2 675.5L310.3 675.5L311.0 675.9L311.7 676.3L312.4 676.6L313.1 676.9L313.8 677.2L314.5 677.5L315.2 677.8L315.9 678.0L316.6 678.3L317.3 678.5L318.0 678.8L318.7 679.0L319.4 679.3L320.1 679.5L320.8 679.8L321.5 680.0L322.1 680.2L322.8 680.5L323.5 680.7L324.2 681.0L324.9 681.2L325.6 681.4L326.3 681.7L327.0 681.9L327.7 682.1L328.4 682.4L329.1 682.6L329.8 682.9L330.5 683.1L331.2 683.3L331.9 683.6L332.6 683.8L333.3 684.0L334.0 684.3L334.7 684.5L335.4 684.8L336.1 685.0L336.8 685.2L337.5 685.5L338.1 685.7L338.3 684.1L338.5 682.7L338.6 681.4L338.8 680.3L338.9 679.4L339.1 678.5L339.3 677.8L339.4 677.2L339.6 676.7L339.7 676.3L339.9 676.0L340.0 675.8L340.2 675.6L340.4 675.5L340.5 675.5L340.7 675.5L341.4 675.9L342.1 676.3L342.8 676.6L343.5 676.9L344.2 677.2L344.9 677.5L345.5 677.8L346.2 678.0L346.9 678.3L347.6 678.5L348.3 678.8L349.0 679.0L349.7 679.3L350.4 679.5L351.1 679.8L351.8 680.0L352.5 680.2L353.2 680.5L353.9 680.7L354.6 681.0L355.3 681.2L356.0 681.4L356.7 681.7L357.4 681.9L358.1 682.1L358.8 682.4L359.5 682.6L360.2 682.9L360.9 683.1L361.5 683.3L362.2 683.6L362.9 683.8L363.6 684.0L364.3 684.3L365.0 684.5L365.7 684.8L366.4 685.0L367.1 685.2L367.8 685.5L368.5 685.7L368.7 684.1L368.8 682.7L369.0 681.4L369.1 680.3L369.3 679.4L369.5 678.5L369.6 677.8L369.8 677.2L369.9 676.7L370.1 676.3L370.2 676.0L370.4 675.8L370.6 675.6L370.7 675.5L370.9 675.5L371.0 675.5L371.7 675.9L372.4 676.3L373.1 676.6L373.8 676.9L374.5 677.2L375.2 677.5L375.9 677.8L376.6 678.0L377.3 678.3L378.0 678.5L378.7 678.8L379.4 679.0L380.1 679.3L380.8 679.5L381.5 679.8L382.2 680.0L382.9 680.2L383.6 680.5L384.3 680.7L384.9 681.0L385.6 681.2L386.3 681.4L387.0 681.7L387.7 681.9L388.4 682.1L389.1 682.4L389.8 682.6L390.5 682.9L391.2 683.1L391.9 683.3L392.6 683.6L393.3 683.8L394.0 684.0L394.7 684.3L395.4 684.5L396.1 684.8L396.8 685.0L397.5 685.2L398.2 685.5L398.9 685.7L399.0 684.1L399.2 682.7L399.3 681.4L399.5 680.3L399.6 679.4L399.8 678.5L400.0 677.8L400.1 677.2L400.3 676.7L400.4 676.3L400.6 676.0L400.8 675.8L400.9 675.6L401.1 675.5L401.2 675.5L401.4 675.5L402.1 675.9L402.8 676.3L403.5 676.6L404.2 676.9L404.9 677.2L405.6 677.5L406.3 677.8L407.0 678.0L407.6 678.3L408.3 678.5L409.0 678.8L409.7 679.0L410.4 679.3L411.1 679.5L411.8 679.8L412.5 680.0L413.2 680.2L413.9 680.5L414.6 680.7L415.3 681.0L416.0 681.2L416.7 681.4L417.4 681.7L418.1 681.9L418.8 682.1L419.5 682.4L420.2 682.6L420.9 682.9L421.6 683.1L422.3 683.3L423.0 683.6L423.6 683.8L424.3 684.0L425.0 684.3L425.7 684.5L426.4 684.8L427.1 685.0L427.8 685.2L428.5 685.5L429.2 685.7L429.4 684.1L429.5 682.7L429.7 681.4L429.8 680.3L430.0 679.4L430.2 678.5L430.3 677.8L430.5 677.2L430.6 676.7L430.8 676.3L431.0 676.0L431.1 675.8L431.3 675.6L431.4 675.5L431.6 675.5L431.7 675.5L432.4 675.9L433.1 676.3L433.8 676.6L434.5 676.9L435.2 677.2L435.9 677.5L436.6 677.8L437.3 678.0L438.0 678.3L438.7 678.5L439.4 678.8L440.1 679.0L440.8 679.3L441.5 679.5L442.2 679.8L442.9 680.0L443.6 680.2L444.3 680.5L445.0 680.7L445.7 681.0L446.4 681.2L447.0 681.4L447.7 681.7L448.4 681.9L449.1 682.1L449.8 682.4L450.5 682.6L451.2 682.9L451.9 683.1L452.6 683.3L453.3 683.6L454.0 683.8L454.7 684.0L455.4 684.3L456.1 684.5L456.8 684.8L457.5 685.0L458.2 685.2L458.9 685.5L459.6 685.7L459.7 684.1L459.9 682.7L460.0 681.4L460.2 680.3L460.4 679.4L460.5 678.5L460.7 677.8L460.8 677.2L461.0 676.7L461.2 676.3L461.3 676.0L461.5 675.8L461.6 675.6L461.8 675.5L461.9 675.5L462.1 675.5L462.8 675.9L463.5 676.3L464.2 676.6L464.9 676.9L465.6 677.2L466.3 677.5L467.0 677.8L467.7 678.0L468.4 678.3L469.1 678.5L469.8 678.8L470.4 679.0L471.1 679.3L471.8 679.5L472.5 679.8L473.2 680.0L473.9 680.2L474.6 680.5L475.3 680.7L476.0 681.0L476.7 681.2L477.4 681.4L478.1 681.7L478.8 681.9L479.5 682.1L480.2 682.4L480.9 682.6L481.6 682.9L482.3 683.1L483.0 683.3L483.7 683.6L484.4 683.8L485.1 684.0L485.8 684.3L486.4 684.5L487.1 684.8L487.8 685.0L488.5 685.2L489.2 685.5L489.9 685.7L490.1 684.1L490.2 682.7L490.4 681.4L490.6 680.3L490.7 679.4L490.9 678.5L491.0 677.8L491.2 677.2L491.3 676.7L491.5 676.3L491.7 676.0L491.8 675.8L492.0 675.6L492.1 675.5L492.3 675.5L492.5 675.5L493.2 675.9L493.8 676.3L494.5 676.6L495.2 676.9L495.9 677.2L496.6 677.5L497.3 677.8L498.0 678.0L498.7 678.3L499.4 678.5L500.1 678.8L500.8 679.0L501.5 679.3L502.2 679.5L502.9 679.8L503.6 680.0L504.3 680.2L505.0 680.5L505.7 680.7L506.4 681.0L507.1 681.2L507.8 681.4L508.5 681.7L509.1 681.9L509.8 682.1L510.5 682.4L511.2 682.6L511.9 682.9L512.6 683.1L513.3 683.3L514.0 683.6L514.7 683.8L515.4 684.0L516.1 684.3L516.8 684.5L517.5 684.8L518.2 685.0L518.9 685.2L519.6 685.5L520.3 685.7L520.4 684.1L520.6 682.7L520.8 681.4L520.9 680.3L521.1 679.4L521.2 678.5L521.4 677.8L521.5 677.2L521.7 676.7L521.9 676.3L522.0 676.0L522.2 675.8L522.3 675.6L522.5 675.5L522.7 675.5L522.8 675.5L523.5 675.9L524.2 676.3L524.9 676.6L525.6 676.9L526.3 677.2L527.0 677.5L527.7 677.8L528.4 678.0L529.1 678.3L529.8 678.5L530.5 678.8L531.2 679.0L531.9 679.3L532.5 679.5L533.2 679.8L533.9 680.0L534.6 680.2L535.3 680.5L536.0 680.7L536.7 681.0L537.4 681.2L538.1 681.4L538.8 681.7L539.5 681.9L540.2 682.1L540.9 682.4L541.6 682.6L542.3 682.9L543.0 683.1L543.7 683.3L544.4 683.6L545.1 683.8L545.8 684.0L546.5 684.3L547.2 684.5L547.9 684.8L548.5 685.0L549.2 685.2L549.9 685.5L550.6 685.7L550.8 684.1L551.0 682.7L551.1 681.4L551.3 680.3L551.4 679.4L551.6 678.5L551.7 677.8L551.9 677.2L552.1 676.7L552.2 676.3L552.4 676.0L552.5 675.8L552.7 675.6L552.8 675.5L553.0 675.5L553.2 675.5L553.9 675.9L554.6 676.3L555.3 676.6L555.9 676.9L556.6 677.2L557.3 677.5L558.0 677.8L558.7 678.0L559.4 678.3L560.1 678.5L560.8 678.8L561.5 679.0L562.2 679.3L562.9 679.5L563.6 679.8L564.3 680.0L565.0 680.2L565.7 680.5L566.4 680.7L567.1 681.0L567.8 681.2L568.5 681.4L569.2 681.7L569.9 681.9L570.6 682.1L571.3 682.4L571.9 682.6L572.6 682.9L573.3 683.1L574.0 683.3L574.7 683.6L575.4 683.8L576.1 684.0L576.8 684.3L577.5 684.5L578.2 684.8L578.9 685.0L579.6 685.2L580.3 685.5L581.0 685.7L581.1 684.1L581.3 682.7L581.5 681.4L581.6 680.3L581.8 679.4L581.9 678.5L582.1 677.8L582.3 677.2L582.4 676.7L582.6 676.3L582.7 676.0L582.9 675.8L583.0 675.6L583.2 675.5L583.4 675.5L583.5 675.5L584.2 675.9L584.8 676.3L585.5 676.7L586.2 677.0L586.8 677.3L587.5 677.6L588.1 677.9L588.8 678.1L589.4 678.4L590.1 678.6L590.8 678.9L591.4 679.1L592.1 679.4L592.7 679.6L593.4 679.9L594.0 680.1L594.7 680.4L595.4 680.6L596.0 680.9L596.7 681.1L597.3 681.4L598.0 681.6L598.6 681.8L599.3 682.1L600.0 682.3L600.6 682.6L601.3 682.8L601.9 683.1L602.6 683.3L603.3 683.6L603.9 683.8L604.6 684.0L605.2 684.3L605.9 684.5L606.5 684.8L607.2 685.0L607.9 685.3L608.5 685.5L609.2 685.8L609.8 686.0"/>
<path stroke="#0000ff" stroke-width="4.8" d="M156.2 963.4L156.3 902.5L156.4 853.5L156.5 814.4L156.6 783.6L156.7 759.6L156.8 741.2L157.0 727.2L157.1 716.8L157.2 709.2L157.3 703.7L157.4 699.9L157.5 697.3L157.6 695.6L157.7 694.5L157.8 693.9L157.9 693.5L158.0 693.3L158.1 693.2L158.3 693.1L158.4 693.1L158.5 693.1L158.6 693.1L158.7 693.1L158.8 693.1L159.5 696.1L160.2 698.5L160.9 700.5L161.6 702.1L162.2 703.5L162.9 704.7L163.6 705.8L164.3 706.7L165.0 707.6L165.7 708.4L166.4 709.2L167.1 710.0L167.8 710.7L168.5 711.5L169.1 712.2L169.8 712.9L170.5 713.6L171.2 714.3L171.9 715.0L172.6 715.6L173.3 716.3L174.0 717.0L174.7 717.7L175.3 718.4L176.0 719.0L176.7 719.7L177.4 720.4L178.1 721.1L178.8 721.8L179.5 722.4L180.2 723.1L180.9 723.8L181.5 724.5L182.2 725.1L182.9 725.8L183.6 726.5L184.3 727.2L185.0 727.8L185.7 728.5L186.4 729.2L186.6 722.7L186.8 716.9L186.9 711.6L187.1 707.0L187.3 703.0L187.5 699.5L187.7 696.5L187.9 694.0L188.1 692.0L188.3 690.4L188.5 689.1L188.6 688.2L188.8 687.6L189.0 687.3L189.2 687.1L189.4 687.1L190.1 688.1L190.8 688.9L191.5 689.7L192.1 690.4L192.8 691.1L193.5 691.7L194.2 692.3L194.9 692.9L195.6 693.5L196.2 694.1L196.9 694.6L197.6 695.2L198.3 695.7L199.0 696.3L199.7 696.8L200.3 697.4L201.0 697.9L201.7 698.5L202.4 699.0L203.1 699.6L203.8 700.1L204.4 700.6L205.1 701.2L205.8 701.7L206.5 702.3L207.2 702.8L207.8 703.4L208.5 703.9L209.2 704.4L209.9 705.0L210.6 705.5L211.3 706.1L211.9 706.6L212.6 707.1L213.3 707.7L214.0 708.2L214.7 708.8L215.4 709.3L216.0 709.9L216.7 710.4L216.9 706.5L217.1 702.9L217.2 699.8L217.4 697.0L217.6 694.6L217.7 692.5L217.9 690.7L218.1 689.2L218.2 688.0L218.4 687.0L218.6 686.2L218.7 685.7L218.9 685.3L219.1 685.1L219.2 685.0L219.4 685.0L220.1 685.9L220.8 686.6L221.5 687.3L222.2 687.9L222.8 688.5L223.5 689.1L224.2 689.6L224.9 690.2L225.6 690.7L226.3 691.2L227.0 691.7L227.7 692.2L228.4 692.7L229.1 693.2L229.8 693.7L230.5 694.1L231.2 694.6L231.8 695.1L232.5 695.6L233.2 696.1L233.9 696.6L234.6 697.0L235.3 697.5L236.0 698.0L236.7 698.5L237.4 699.0L238.1 699.4L238.8 699.9L239.5 700.4L240.2 700.9L240.9 701.4L241.5 701.8L242.2 702.3L242.9 702.8L243.6 703.3L244.3 703.8L245.0 704.3L245.7 704.7L246.4 705.2L247.1 705.7L247.2 702.4L247.4 699.4L247.6 696.7L247.7 694.4L247.9 692.3L248.1 690.5L248.2 689.0L248.4 687.7L248.6 686.7L248.7 685.9L248.9 685.2L249.1 684.8L249.2 684.5L249.4 684.3L249.6 684.2L249.7 684.2L250.4 685.0L251.1 685.8L251.8 686.5L252.5 687.1L253.2 687.7L253.9 688.3L254.6 688.8L255.3 689.3L256.0 689.8L256.7 690.3L257.4 690.8L258.0 691.3L258.7 691.8L259.4 692.3L260.1 692.8L260.8 693.2L261.5 693.7L262.2 694.2L262.9 694.7L263.6 695.2L264.3 695.6L265.0 696.1L265.7 696.6L266.4 697.1L267.1 697.5L267.7 698.0L268.4 698.5L269.1 699.0L269.8 699.5L270.5 699.9L271.2 700.4L271.9 700.9L272.6 701.4L273.3 701.8L274.0 702.3L274.7 702.8L275.4 703.3L276.1 703.7L276.7 704.2L277.4 704.7L277.6 701.5L277.8 698.6L277.9 696.1L278.1 693.8L278.3 691.8L278.4 690.1L278.6 688.6L278.8 687.4L278.9 686.4L279.1 685.6L279.3 685.0L279.4 684.6L279.6 684.3L279.8 684.1L279.9 684.0L280.1 684.0L280.8 684.9L281.5 685.6L282.2 686.3L282.9 686.9L283.6 687.5L284.2 688.1L284.9 688.6L285.6 689.2L286.3 689.7L287.0 690.2L287.7 690.7L288.4 691.2L289.1 691.7L289.8 692.2L290.5 692.7L291.2 693.1L291.9 693.6L292.6 694.1L293.3 694.6L293.9 695.1L294.6 695.6L295.3 696.0L296.0 696.5L296.7 697.0L297.4 697.5L298.1 698.0L298.8 698.4L299.5 698.9L300.2 699.4L300.9 699.9L301.6 700.4L302.3 700.8L302.9 701.3L303.6 701.8L304.3 702.3L305.0 702.8L305.7 703.3L306.4 703.7L307.1 704.2L307.8 704.7L308.0 701.5L308.1 698.6L308.3 696.1L308.5 693.8L308.6 691.8L308.8 690.1L309.0 688.6L309.1 687.4L309.3 686.4L309.5 685.6L309.6 685.0L309.8 684.6L310.0 684.3L310.1 684.1L310.3 684.0L310.4 684.0L311.1 684.9L311.8 685.6L312.5 686.3L313.2 686.9L313.9 687.5L314.6 688.1L315.3 688.6L316.0 689.2L316.7 689.7L317.4 690.2L318.1 690.7L318.8 691.2L319.5 691.7L320.1 692.2L320.8 692.7L321.5 693.1L322.2 693.6L322.9 694.1L323.6 694.6L324.3 695.1L325.0 695.6L325.7 696.0L326.4 696.5L327.1 697.0L327.8 697.5L328.5 698.0L329.1 698.4L329.8 698.9L330.5 699.4L331.2 699.9L331.9 700.4L332.6 700.8L333.3 701.3L334.0 701.8L334.7 702.3L335.4 702.8L336.1 703.3L336.8 703.7L337.5 704.2L338.1 704.7L338.3 701.5L338.5 698.6L338.6 696.1L338.8 693.8L339.0 691.8L339.1 690.1L339.3 688.6L339.5 687.4L339.6 686.4L339.8 685.6L340.0 685.0L340.1 684.6L340.3 684.3L340.5 684.1L340.6 684.0L340.8 684.0L341.5 684.9L342.2 685.6L342.9 686.3L343.6 686.9L344.3 687.5L345.0 688.1L345.7 688.6L346.3 689.2L347.0 689.7L347.7 690.2L348.4 690.7L349.1 691.2L349.8 691.7L350.5 692.2L351.2 692.7L351.9 693.1L352.6 693.6L353.3 694.1L354.0 694.6L354.7 695.1L355.3 695.6L356.0 696.0L356.7 696.5L357.4 697.0L358.1 697.5L358.8 698.0L359.5 698.4L360.2 698.9L360.9 699.4L361.6 699.9L362.3 700.4L363.0 700.8L363.7 701.3L364.3 701.8L365.0 702.3L365.7 702.8L366.4 703.3L367.1 703.7L367.8 704.2L368.5 704.7L368.7 701.5L368.8 698.6L369.0 696.1L369.2 693.8L369.3 691.8L369.5 690.1L369.7 688.6L369.8 687.4L370.0 686.4L370.2 685.6L370.3 685.0L370.5 684.6L370.7 684.3L370.8 684.1L371.0 684.0L371.2 684.0L371.9 684.9L372.5 685.6L373.2 686.3L373.9 686.9L374.6 687.5L375.3 688.1L376.0 688.6L376.7 689.2L377.4 689.7L378.1 690.2L378.8 690.7L379.5 691.2L380.2 691.7L380.9 692.2L381.5 692.7L382.2 693.1L382.9 693.6L383.6 694.1L384.3 694.6L385.0 695.1L385.7 695.6L386.4 696.0L387.1 696.5L387.8 697.0L388.5 697.5L389.2 698.0L389.9 698.4L390.5 698.9L391.2 699.4L391.9 699.9L392.6 700.4L393.3 700.8L394.0 701.3L394.7 701.8L395.4 702.3L396.1 702.8L396.8 703.3L397.5 703.7L398.2 704.2L398.9 704.7L399.0 701.5L399.2 698.6L399.4 696.1L399.5 693.8L399.7 691.8L399.9 690.1L400.0 688.6L400.2 687.4L400.4 686.4L400.5 685.6L400.7 685.0L400.9 684.6L401.0 684.3L401.2 684.1L401.3 684.0L401.5 684.0L402.2 684.9L402.9 685.6L403.6 686.3L404.3 686.9L405.0 687.5L405.7 688.1L406.4 688.6L407.1 689.2L407.7 689.7L408.4 690.2L409.1 690.7L409.8 691.2L410.5 691.7L411.2 692.2L411.9 692.7L412.6 693.1L413.3 693.6L414.0 694.1L414.7 694.6L415.4 695.1L416.1 695.6L416.7 696.0L417.4 696.5L418.1 697.0L418.8 697.5L419.5 698.0L420.2 698.4L420.9 698.9L421.6 699.4L422.3 699.9L423.0 700.4L423.7 700.8L424.4 701.3L425.1 701.8L425.8 702.3L426.4 702.8L427.1 703.3L427.8 703.7L428.5 704.2L429.2 704.7L429.4 701.5L429.5 698.6L429.7 696.1L429.9 693.8L430.0 691.8L430.2 690.1L430.4 688.6L430.5 687.4L430.7 686.4L430.9 685.6L431.0 685.0L431.2 684.6L431.4 684.3L431.5 684.1L431.7 684.0L431.9 684.0L432.6 684.9L433.3 685.6L433.9 686.3L434.6 686.9L435.3 687.5L436.0 688.1L436.7 688.6L437.4 689.2L438.1 689.7L438.8 690.2L439.5 690.7L440.2 691.2L440.9 691.7L441.6 692.2L442.3 692.7L443.0 693.1L443.6 693.6L444.3 694.1L445.0 694.6L445.7 695.1L446.4 695.6L447.1 696.0L447.8 696.5L448.5 697.0L449.2 697.5L449.9 698.0L450.6 698.4L451.3 698.9L452.0 699.4L452.6 699.9L453.3 700.4L454.0 700.8L454.7 701.3L455.4 701.8L456.1 702.3L456.8 702.8L457.5 703.3L458.2 703.7L458.9 704.2L459.6 704.7L459.7 701.5L459.9 698.6L460.1 696.1L460.2 693.8L460.4 691.8L460.6 690.1L460.7 688.6L460.9 687.4L461.1 686.4L461.2 685.6L461.4 685.0L461.6 684.6L461.7 684.3L461.9 684.1L462.1 684.0L462.2 684.0L462.9 684.9L463.6 685.6L464.3 686.3L465.0 686.9L465.7 687.5L466.4 688.1L467.1 688.6L467.8 689.2L468.5 689.7L469.2 690.2L469.8 690.7L470.5 691.2L471.2 691.7L471.9 692.2L472.6 692.7L473.3 693.1L474.0 693.6L474.7 694.1L475.4 694.6L476.1 695.1L476.8 695.6L477.5 696.0L478.2 696.5L478.8 697.0L479.5 697.5L480.2 698.0L480.9 698.4L481.6 698.9L482.3 699.4L483.0 699.9L483.7 700.4L484.4 700.8L485.1 701.3L485.8 701.8L486.5 702.3L487.2 702.8L487.8 703.3L488.5 703.7L489.2 704.2L489.9 704.7L490.1 701.5L490.3 698.6L490.4 696.1L490.6 693.8L490.8 691.8L490.9 690.1L491.1 688.6L491.3 687.4L491.4 686.4L491.6 685.6L491.8 685.0L491.9 684.6L492.1 684.3L492.2 684.1L492.4 684.0L492.6 684.0L493.3 684.9L494.0 685.6L494.7 686.3L495.4 686.9L496.0 687.5L496.7 688.1L497.4 688.6L498.1 689.2L498.8 689.7L499.5 690.2L500.2 690.7L500.9 691.2L501.6 691.7L502.3 692.2L503.0 692.7L503.7 693.1L504.4 693.6L505.0 694.1L505.7 694.6L506.4 695.1L507.1 695.6L507.8 696.0L508.5 696.5L509.2 697.0L509.9 697.5L510.6 698.0L511.3 698.4L512.0 698.9L512.7 699.4L513.4 699.9L514.0 700.4L514.7 700.8L515.4 701.3L516.1 701.8L516.8 702.3L517.5 702.8L518.2 703.3L518.9 703.7L519.6 704.2L520.3 704.7L520.4 701.5L520.6 698.6L520.8 696.1L520.9 693.8L521.1 691.8L521.3 690.1L521.4 688.6L521.6 687.4L521.8 686.4L521.9 685.6L522.1 685.0L522.3 684.6L522.4 684.3L522.6 684.1L522.8 684.0L522.9 684.0L523.6 684.9L524.3 685.6L525.0 686.3L525.7 686.9L526.4 687.5L527.1 688.1L527.8 688.6L528.5 689.2L529.2 689.7L529.9 690.2L530.6 690.7L531.2 691.2L531.9 691.7L532.6 692.2L533.3 692.7L534.0 693.1L534.7 693.6L535.4 694.1L536.1 694.6L536.8 695.1L537.5 695.6L538.2 696.0L538.9 696.5L539.6 697.0L540.2 697.5L540.9 698.0L541.6 698.4L542.3 698.9L543.0 699.4L543.7 699.9L544.4 700.4L545.1 700.8L545.8 701.3L546.5 701.8L547.2 702.3L547.9 702.8L548.6 703.3L549.3 703.7L549.9 704.2L550.6 704.7L550.8 701.5L551.0 698.6L551.1 696.1L551.3 693.8L551.5 691.8L551.6 690.1L551.8 688.6L552.0 687.4L552.1 686.4L552.3 685.6L552.5 685.0L552.6 684.6L552.8 684.3L553.0 684.1L553.1 684.0L553.3 684.0L554.0 684.9L554.7 685.6L555.4 686.3L556.1 686.9L556.8 687.5L557.4 688.1L558.1 688.6L558.8 689.2L559.5 689.7L560.2 690.2L560.9 690.7L561.6 691.2L562.3 691.7L563.0 692.2L563.7 692.7L564.4 693.1L565.1 693.6L565.8 694.1L566.4 694.6L567.1 695.1L567.8 695.6L568.5 696.0L569.2 696.5L569.9 697.0L570.6 697.5L571.3 698.0L572.0 698.4L572.7 698.9L573.4 699.4L574.1 699.9L574.8 700.4L575.5 700.8L576.1 701.3L576.8 701.8L577.5 702.3L578.2 702.8L578.9 703.3L579.6 703.7L580.3 704.2L581.0 704.7L581.2 701.5L581.3 698.6L581.5 696.1L581.7 693.8L581.8 691.8L582.0 690.1L582.2 688.6L582.3 687.4L582.5 686.4L582.7 685.6L582.8 685.0L583.0 684.6L583.1 684.3L583.3 684.1L583.5 684.0L583.6 684.0L584.3 684.8L585.0 685.6L585.6 686.2L586.3 686.9L586.9 687.4L587.6 688.0L588.2 688.5L588.9 689.0L589.5 689.5L590.2 690.0L590.8 690.5L591.5 691.0L592.2 691.5L592.8 692.0L593.5 692.4L594.1 692.9L594.8 693.4L595.4 693.9L596.1 694.3L596.7 694.8L597.4 695.3L598.0 695.7L598.7 696.2L599.4 696.7L600.0 697.2L600.7 697.6L601.3 698.1L602.0 698.6L602.6 699.0L603.3 699.5L603.9 700.0L604.6 700.4L605.2 700.9L605.9 701.4L606.6 701.9L607.2 702.3L607.9 702.8L608.5 703.3L609.2 703.7L609.8 704.2"/>
</g>
<g fill="#e00000"><circle cx="140.6" cy="741.4" r="1.5"/><circle cx="154.9" cy="741.4" r="1.5"/><circle cx="169.3" cy="741.4" r="1.5"/><circle cx="183.6" cy="741.4" r="1.5"/><circle cx="197.9" cy="741.4" r="1.5"/><circle cx="212.2" cy="741.4" r="1.5"/><circle cx="226.6" cy="741.4" r="1.5"/><circle cx="240.9" cy="741.4" r="1.5"/><circle cx="255.2" cy="741.4" r="1.5"/><circle cx="269.6" cy="741.4" r="1.5"/><circle cx="283.9" cy="741.4" r="1.5"/><circle cx="298.2" cy="741.4" r="1.5"/><circle cx="312.6" cy="741.4" r="1.5"/><circle cx="326.9" cy="741.4" r="1.5"/><circle cx="341.2" cy="741.4" r="1.5"/><circle cx="355.5" cy="741.4" r="1.5"/><circle cx="369.9" cy="741.4" r="1.5"/><circle cx="384.2" cy="741.4" r="1.5"/><circle cx="398.5" cy="741.4" r="1.5"/><circle cx="412.9" cy="741.4" r="1.5"/><circle cx="427.2" cy="741.4" r="1.5"/><circle cx="441.5" cy="741.4" r="1.5"/><circle cx="455.9" cy="741.4" r="1.5"/><circle cx="470.2" cy="741.4" r="1.5"/><circle cx="484.5" cy="741.4" r="1.5"/><circle cx="498.9" cy="741.4" r="1.5"/><circle cx="513.2" cy="741.4" r="1.5"/><circle cx="527.5" cy="741.4" r="1.5"/><circle cx="541.8" cy="741.4" r="1.5"/><circle cx="556.2" cy="741.4" r="1.5"/><circle cx="570.5" cy="741.4" r="1.5"/><circle cx="584.8" cy="741.4" r="1.5"/><circle cx="599.2" cy="741.4" r="1.5"/><circle cx="613.5" cy="741.4" r="1.5"/></g>
<g font-family="Liberation Serif, serif" font-size="31" text-anchor="end" fill="#000">
<text x="131.5" y="601.8">120</text>
<text x="131.5" y="675.4">100</text>
<text x="131.5" y="749.1">80</text>
<text x="131.5" y="822.7">60</text>
<text x="131.5" y="896.4">40</text>
<text x="131.5" y="970.0">20</text>
</g>
<g font-family="Liberation Serif, serif" font-size="31" text-anchor="middle" fill="#000">
<text x="155.0" y="996.5">0</text>
<text x="218.2" y="996.5">50</text>
<text x="281.5" y="996.5">100</text>
<text x="344.7" y="996.5">150</text>
<text x="408.0" y="996.5">200</text>
<text x="471.2" y="996.5">250</text>
<text x="534.4" y="996.5">300</text>
<text x="597.7" y="996.5">350</text>
</g>
<text font-family="Liberation Serif, serif" font-size="42" x="144.5" y="637.7" fill="#000">Chinese</text>
<text font-family="Liberation Serif, serif" font-size="30" x="622.0" y="736.7" fill="#d70000">80% Inhibition</text>
<text font-family="Liberation Serif, serif" font-size="31" x="332.5" y="512.6" fill="#000">Time (h)</text>
<text font-family="Liberation Serif, serif" font-size="31" x="1053" y="512" fill="#000">Time (h)</text>
<text font-family="Liberation Serif, serif" font-size="31" x="328" y="1047.3" fill="#000">Time (h)</text>
<text font-family="Liberation Sans, sans-serif" font-weight="bold" font-size="43" x="49.3" y="32.8">A</text>
<text font-family="Liberation Sans, sans-serif" font-weight="bold" font-size="42" x="773.4" y="32.8">B</text>
<text font-family="Liberation Sans, sans-serif" font-weight="bold" font-size="42" x="52.9" y="544.3">C</text>
<text font-family="Liberation Serif, serif" font-size="30.8" transform="translate(31,577.8) rotate(-90)" fill="#000">EGFRm</text>
<text font-family="Liberation Serif, serif" font-size="36" transform="translate(23.6,473.5) rotate(-90)" fill="#000">+</text>
<text font-family="Liberation Serif, serif" font-size="30.8" transform="translate(31.2,453.2) rotate(-90)" fill="#000">inhibition(%)</text>
<line x1="862" y1="641.0" x2="929.5" y2="641.0" stroke="#000000" stroke-width="4.7" stroke-linecap="round"/>
<text font-family="Liberation Serif, serif" font-size="30.6" x="937.5" y="650.9" fill="#000">Plasma T790M inhibiton</text>
<line x1="862" y1="679.3" x2="929.5" y2="679.3" stroke="#da0000" stroke-width="4.7" stroke-linecap="round"/>
<text font-family="Liberation Serif, serif" font-size="30.6" x="937.5" y="688.8" fill="#000">Plasma L858R inhibiton</text>
<line x1="862" y1="717.2" x2="929.5" y2="717.2" stroke="#8cff37" stroke-width="4.7" stroke-linecap="round"/>
<text font-family="Liberation Serif, serif" font-size="30.6" x="937.5" y="727.2" fill="#000">pulmonary T790M inhibiton</text>
<line x1="862" y1="755.5" x2="929.5" y2="755.5" stroke="#0000ff" stroke-width="4.7" stroke-linecap="round"/>
<text font-family="Liberation Serif, serif" font-size="30.6" x="937.5" y="764.9" fill="#000">pulmonary L858R inhibiton</text>
</svg></body></html>
